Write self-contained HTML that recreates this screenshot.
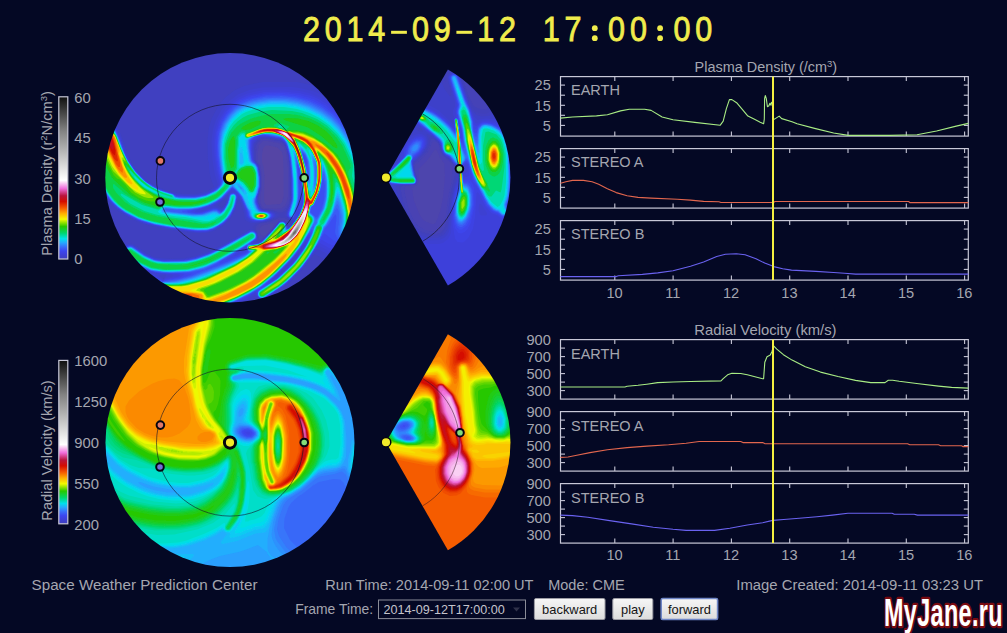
<!DOCTYPE html><html><head><meta charset="utf-8"><style>html,body{margin:0;padding:0;background:#040824;width:1007px;height:633px;overflow:hidden}svg{display:block}text{font-family:"Liberation Sans",sans-serif}</style></head><body>
<svg width="1007" height="633" viewBox="0 0 1007 633">
<rect width="1007" height="633" fill="#040824"/>
<defs>
<linearGradient id="cbar" x1="0" y1="1" x2="0" y2="0">
<stop offset="0.000" stop-color="#3f40bc"/>
<stop offset="0.025" stop-color="#3e40d6"/>
<stop offset="0.050" stop-color="#3c46f0"/>
<stop offset="0.075" stop-color="#3870fa"/>
<stop offset="0.100" stop-color="#26a8ff"/>
<stop offset="0.125" stop-color="#00e1eb"/>
<stop offset="0.160" stop-color="#00d66e"/>
<stop offset="0.200" stop-color="#28c800"/>
<stop offset="0.245" stop-color="#f2fa00"/>
<stop offset="0.280" stop-color="#ffaf00"/>
<stop offset="0.315" stop-color="#f55a00"/>
<stop offset="0.355" stop-color="#d40c00"/>
<stop offset="0.390" stop-color="#b9143c"/>
<stop offset="0.435" stop-color="#f06edc"/>
<stop offset="0.485" stop-color="#ffffff"/>
<stop offset="0.620" stop-color="#c8c8c8"/>
<stop offset="0.790" stop-color="#828282"/>
<stop offset="1.000" stop-color="#0f0f0f"/>
</linearGradient>
<linearGradient id="btn" x1="0" y1="0" x2="0" y2="1"><stop offset="0" stop-color="#f6f6f6"/><stop offset="1" stop-color="#dcdcdc"/></linearGradient>
<filter id="bl" x="-5%" y="-5%" width="110%" height="110%"><feGaussianBlur stdDeviation="0.6"/></filter>
<clipPath id="cd1"><circle cx="230" cy="177.8" r="124.7"/></clipPath>
<clipPath id="cd2"><circle cx="230" cy="442.6" r="124.5"/></clipPath>
<clipPath id="cw1"><path d="M386.0 177.6 L447.9 69.6 A124.5 124.5 0 0 1 447.9 285.6 Z"/></clipPath>
<clipPath id="cw2"><path d="M386.0 442.2 L447.9 334.2 A124.5 124.5 0 0 1 447.9 550.2 Z"/></clipPath>
</defs>
<g clip-path="url(#cd1)"><g filter="url(#bl)">
<path fill-rule="evenodd" fill="#5846a0" d="M102.0 50.0 102.0 305.0 357.0 305.0 357.0 50.0Z"/>
<path fill-rule="evenodd" fill="#5445a5" d="M102.0 50.0 102.0 305.0 357.0 305.0 357.0 50.0Z"/>
<path fill-rule="evenodd" fill="#4e44ad" d="M265.5 145.5 269.0 145.5 277.5 147.5 282.0 152.0 283.0 156.5 283.5 168.0 283.5 196.5 282.0 202.0 280.0 204.0 266.5 205.0 265.0 203.5 264.0 200.5 264.5 175.5 263.5 167.0 262.0 162.0 262.0 155.5 263.0 148.5ZM102.0 50.0 102.0 305.0 357.0 305.0 357.0 50.0Z"/>
<path fill-rule="evenodd" fill="#4943b3" d="M275.0 223.5 272.5 228.0 266.5 234.5 263.5 236.5 260.5 235.0 259.5 232.5 259.5 228.0 261.5 225.5 272.5 223.0ZM263.0 141.0 268.0 141.0 280.0 143.5 284.0 147.0 286.0 151.5 288.0 167.5 288.0 197.5 285.5 205.5 281.5 208.5 275.0 209.0 264.0 208.0 261.5 205.5 260.5 203.0 260.0 196.5 262.0 187.5 262.0 176.5 261.0 168.5 259.5 164.0 258.0 162.0 257.5 154.0 259.0 145.0ZM102.0 50.0 102.0 305.0 357.0 305.0 357.0 50.0Z"/>
<path fill-rule="evenodd" fill="#4442b7" d="M278.5 219.5 278.5 221.0 275.0 226.0 265.5 236.5 262.5 238.5 260.5 238.5 259.0 237.0 256.5 230.0 256.5 228.0 259.5 224.0 270.5 222.0 275.5 220.5 276.5 219.5ZM263.0 139.5 268.0 139.5 282.0 143.0 285.0 146.5 287.0 152.0 288.5 161.0 289.5 176.0 289.5 198.0 287.5 205.0 284.0 209.5 281.5 210.5 274.5 210.5 271.5 209.5 263.5 209.0 261.5 207.5 259.5 203.5 259.0 196.5 261.5 186.5 261.5 177.5 259.5 166.0 256.0 160.0 256.0 154.0 257.5 144.0 260.5 140.5ZM102.0 50.0 102.0 305.0 357.0 305.0 357.0 50.0Z"/>
<path fill-rule="evenodd" fill="#4140bb" d="M291.0 223.0 290.5 225.5 289.0 226.5 286.5 222.5 284.0 220.5 279.5 221.0 270.0 232.5 261.5 240.0 260.0 240.0 258.5 238.5 257.5 233.5 255.0 229.5 255.5 226.0 259.0 223.0 267.0 222.0 279.5 217.5 285.5 218.0 288.5 220.0ZM261.5 138.5 267.5 138.5 281.5 141.5 284.5 144.5 287.0 150.0 288.5 156.5 289.5 166.5 290.0 198.5 289.0 204.0 287.0 208.5 285.0 211.0 282.5 212.5 278.5 212.5 273.0 210.5 263.0 209.5 260.0 206.5 258.5 202.5 258.0 199.0 261.0 186.5 261.0 177.5 260.0 169.5 258.5 165.0 255.5 161.0 255.0 148.5 256.5 143.5ZM102.0 50.0 102.0 305.0 357.0 305.0 357.0 50.0Z"/>
<path fill-rule="evenodd" fill="#3f40c0" d="M263.0 137.5 280.5 140.5 284.0 143.0 287.0 149.0 289.0 157.5 290.0 167.0 290.5 199.0 289.0 205.5 284.5 215.0 288.0 219.0 292.0 222.0 292.0 223.5 291.0 225.5 288.5 227.0 285.0 221.5 280.0 221.0 278.5 222.0 272.0 230.5 262.5 240.0 259.0 241.0 257.5 239.5 258.0 236.5 257.0 233.0 252.5 228.0 252.5 226.5 256.0 223.5 267.0 221.5 273.0 219.5 278.0 216.5 279.0 215.0 276.0 212.5 272.5 211.0 262.0 209.5 260.0 207.5 258.0 202.0 258.0 196.5 260.5 187.0 260.5 177.0 258.5 166.0 254.5 159.5 254.0 149.0 255.0 144.5 256.5 142.0 259.0 139.5ZM102.0 50.0 102.0 305.0 357.0 305.0 357.0 50.0Z"/>
<path fill-rule="evenodd" fill="#3e40c9" d="M227.0 198.5 225.0 204.5 222.0 208.0 217.5 205.5 217.5 204.5 225.0 198.5ZM347.0 108.0 336.5 98.0 324.5 90.0 315.0 86.0 296.5 82.0 263.0 82.0 244.0 86.0 234.5 90.5 225.5 97.5 219.0 105.0 212.0 118.0 209.0 127.5 207.5 140.0 208.0 160.0 209.0 163.0 209.0 168.0 210.5 177.0 214.0 187.0 208.5 191.0 196.0 194.0 181.5 194.0 167.5 191.0 157.0 187.0 146.5 180.5 137.0 171.0 132.0 164.0 127.5 154.0 120.5 133.5 115.5 123.5 111.5 120.5 108.5 119.5 102.0 120.0 102.0 191.5 109.5 202.5 116.0 209.0 126.0 216.0 142.0 223.5 164.5 229.0 195.0 233.0 206.0 233.0 213.5 231.0 222.5 226.0 229.5 219.5 235.5 209.0 237.5 200.5 238.5 199.0 240.5 202.0 244.0 212.5 244.5 218.0 246.0 220.5 250.5 223.0 256.0 223.0 267.5 221.0 273.5 218.5 276.0 216.0 275.0 213.0 272.0 211.5 264.0 210.5 261.5 209.5 260.0 208.0 258.0 203.5 257.5 197.5 260.5 186.5 260.0 173.5 258.5 166.5 254.0 160.0 254.0 144.0 258.0 139.0 262.0 137.5 268.0 137.5 280.5 140.0 282.5 141.0 285.5 144.5 289.0 156.0 290.5 169.5 291.0 198.5 290.0 204.0 287.0 211.0 286.0 215.5 289.0 219.0 292.0 220.0 293.5 221.5 292.0 224.5 289.0 227.5 287.5 226.5 286.5 223.5 284.5 221.5 279.5 221.5 270.5 232.5 263.5 239.5 259.0 242.0 256.5 241.5 257.5 235.0 256.0 232.0 253.5 230.0 250.5 229.5 219.5 246.5 209.0 251.5 194.0 256.5 183.5 258.5 170.0 259.0 155.5 257.5 146.5 253.5 134.0 244.5 130.5 243.5 126.0 244.5 123.5 246.5 122.0 249.5 121.5 252.5 122.5 256.0 124.5 258.5 142.0 270.5 136.0 272.0 133.0 274.5 131.5 277.5 131.5 292.0 133.0 297.5 135.0 301.0 139.0 305.0 243.5 305.0 255.0 298.0 257.0 298.0 260.0 300.0 265.0 299.5 280.5 289.5 287.5 284.0 298.5 273.5 314.5 254.0 326.0 260.0 337.5 261.0 347.0 258.5 356.5 253.5 357.0 121.0Z"/>
<path fill-rule="evenodd" fill="#3e40d2" d="M158.5 275.0 165.5 274.5 166.0 275.5 165.0 278.0 163.5 279.0 159.5 276.5ZM302.0 248.0 302.0 250.0 294.0 261.0 282.5 272.5 280.0 274.0 279.5 273.5ZM228.5 195.5 227.0 202.0 225.0 206.0 222.0 209.5 213.5 206.0 222.0 200.0 227.5 195.0ZM342.5 111.0 330.0 100.0 322.0 95.0 314.0 91.5 299.5 88.0 291.5 87.0 262.5 87.5 249.5 90.0 238.0 94.5 230.0 100.5 221.5 110.0 216.0 120.0 213.0 129.5 211.5 141.5 212.5 159.5 215.0 175.0 218.0 184.5 217.0 186.5 212.0 190.5 204.5 193.5 197.0 195.0 176.5 194.5 161.0 189.5 148.0 182.5 137.0 172.0 130.5 163.0 126.0 153.5 121.0 138.0 115.0 125.0 113.0 123.0 109.0 121.0 106.0 120.5 102.0 121.5 102.0 189.5 104.0 193.5 108.5 200.0 115.0 207.0 129.5 217.0 144.5 223.5 166.5 228.5 199.5 232.5 207.5 232.0 215.0 229.5 224.5 223.5 230.5 217.0 235.0 208.5 237.0 199.0 238.5 196.5 242.0 202.5 245.5 212.0 246.0 216.5 249.0 220.5 252.5 222.0 260.5 222.0 271.5 219.0 274.5 216.5 274.5 214.0 270.5 211.5 261.5 210.0 259.5 208.0 257.0 201.0 257.5 196.0 259.0 192.5 258.5 192.0 260.0 187.0 260.0 177.0 258.0 166.5 253.5 159.5 252.5 149.0 253.0 144.0 256.0 139.5 260.5 137.0 267.5 137.0 279.0 139.0 282.5 140.5 285.0 143.0 289.0 154.5 291.0 173.0 291.5 196.5 290.0 205.0 287.0 213.0 287.0 216.5 290.0 219.0 294.5 220.0 293.5 222.5 289.5 227.5 287.5 227.5 286.5 224.0 284.0 221.5 280.0 221.5 272.0 231.0 262.5 240.5 259.5 242.5 254.0 243.5 253.5 242.5 256.0 240.5 257.0 238.5 257.0 234.0 253.5 230.5 249.5 230.5 225.0 244.5 209.0 252.5 195.5 257.0 183.0 259.5 162.0 259.5 154.0 258.0 145.5 254.0 132.5 245.0 127.5 245.0 124.0 247.5 122.5 251.0 122.5 253.0 124.0 256.5 136.0 265.5 148.5 272.5 147.5 273.5 141.5 272.0 137.0 272.5 132.5 277.0 132.0 281.5 133.5 285.5 134.0 294.5 138.0 301.5 141.5 305.0 237.0 305.0 254.5 295.0 255.5 295.0 258.5 298.5 263.0 299.5 280.0 289.0 291.0 280.0 303.0 267.5 316.5 249.0 318.5 249.0 328.0 254.5 338.0 255.0 350.5 251.0 357.0 247.5 357.0 131.0 351.5 122.0Z"/>
<path fill-rule="evenodd" fill="#3e41da" d="M246.0 248.5 245.5 250.5 242.5 252.0 240.5 251.5 244.0 248.5ZM306.0 241.0 306.5 242.5 305.0 246.0 294.5 261.0 281.0 274.5 273.5 279.5 273.0 279.0 294.0 257.0ZM235.0 191.5 234.5 192.5 232.0 192.5 229.5 194.0 227.0 203.0 224.5 207.5 221.5 210.5 217.0 208.0 212.5 208.0 202.5 211.0 200.0 210.5 210.5 206.5 217.5 202.5 223.0 198.5 231.5 190.0ZM340.5 113.0 328.5 102.5 321.0 98.0 308.5 93.0 299.5 91.0 286.0 89.5 264.0 90.0 247.5 93.5 238.5 97.5 231.5 102.5 226.0 108.0 218.5 120.0 215.0 130.0 213.5 142.0 214.0 153.0 216.5 172.0 219.5 183.0 219.0 185.0 214.0 190.0 208.0 193.0 200.5 195.0 192.5 196.0 184.0 196.0 176.0 195.0 173.5 193.5 159.0 189.0 152.0 185.5 145.0 180.5 137.0 172.5 129.5 162.0 126.0 155.0 120.5 138.5 115.0 126.0 112.0 123.0 108.5 121.5 102.0 122.0 102.0 188.5 104.5 193.5 109.5 200.5 117.5 208.5 130.5 217.0 144.5 223.0 169.5 228.5 199.0 232.0 207.5 231.5 215.0 229.0 222.5 224.5 230.0 217.0 235.0 207.5 238.0 195.0 240.0 197.0 242.5 202.0 246.5 212.5 247.0 216.5 250.5 220.5 253.5 221.5 262.5 221.5 270.5 219.0 273.5 216.5 273.5 214.0 269.0 211.5 263.5 211.0 261.0 210.0 259.5 208.5 257.0 202.5 257.0 197.0 260.0 186.5 260.0 178.0 259.0 170.0 257.5 165.5 253.0 159.5 252.0 150.5 252.5 142.5 254.5 139.5 260.0 136.5 266.0 136.5 278.5 138.5 282.5 140.0 285.0 142.5 288.5 151.5 291.0 168.5 291.5 199.5 290.0 206.5 287.5 212.5 287.5 216.5 291.5 219.0 295.5 217.0 296.0 217.5 295.0 220.5 292.0 225.0 289.0 228.0 287.5 228.0 286.5 224.5 284.5 222.0 279.5 222.0 270.0 233.5 263.0 240.5 259.0 243.0 252.5 244.0 252.0 243.0 256.5 239.0 257.0 235.0 254.0 231.0 251.0 230.5 219.5 248.0 209.0 253.0 194.0 258.0 183.5 260.0 161.5 260.0 155.5 259.0 147.0 255.5 132.5 245.5 129.5 245.0 126.5 246.0 123.5 249.5 123.0 252.5 124.0 255.5 138.5 266.5 153.0 273.0 164.0 273.5 167.5 274.5 171.5 274.5 173.5 275.5 172.5 276.5 165.0 278.0 164.5 279.5 163.0 280.0 154.5 275.0 147.0 274.5 141.5 272.5 138.5 272.5 136.0 273.5 133.0 277.0 132.5 281.5 135.0 288.0 135.0 293.5 136.0 296.5 143.0 305.0 233.5 305.0 248.0 297.5 255.0 293.0 256.5 294.0 258.5 298.0 260.5 299.0 263.5 299.0 278.0 290.0 290.5 280.0 302.5 267.5 309.0 259.0 316.0 248.0 318.5 245.5 329.0 251.0 337.5 251.5 348.0 249.0 357.0 245.0 357.0 136.5 349.0 123.0Z"/>
<path fill-rule="evenodd" fill="#3d43e3" d="M246.5 247.5 247.0 250.5 245.5 252.0 235.5 256.0 233.5 255.5 245.5 247.0ZM308.0 237.5 308.0 240.5 304.5 247.5 294.0 262.0 281.5 274.5 272.0 281.5 270.0 282.0 269.5 281.5 285.5 266.0 294.0 256.5ZM341.0 116.5 327.5 104.5 319.5 99.5 311.5 96.0 298.5 93.0 282.5 91.5 264.5 92.0 248.0 95.5 238.0 100.0 232.0 104.5 224.5 113.0 219.5 121.5 216.0 132.5 215.0 141.5 215.5 155.0 217.5 170.0 220.5 182.0 220.0 184.5 215.5 189.5 209.0 193.0 203.0 195.0 191.5 196.5 176.0 195.5 172.5 193.5 159.5 189.5 146.5 182.0 138.0 174.0 129.5 162.5 125.0 153.5 120.5 140.0 114.0 125.5 108.5 122.0 102.0 122.5 102.0 188.0 105.0 193.5 110.0 200.5 118.0 208.5 128.5 215.5 140.0 221.0 147.5 223.5 172.0 228.5 197.0 231.5 205.0 231.5 213.0 229.5 219.0 226.5 224.5 222.5 228.5 218.5 231.5 214.0 235.0 206.5 237.0 198.0 237.0 195.5 235.5 193.5 231.5 193.0 230.0 194.0 227.5 202.5 224.5 208.0 221.5 211.0 216.5 208.5 213.5 208.5 202.5 212.0 195.5 212.0 195.0 211.0 198.0 209.5 209.0 206.5 215.0 203.5 223.5 197.5 231.0 189.5 233.5 189.5 235.5 191.0 240.5 197.0 247.0 212.0 248.0 217.0 251.0 220.0 253.5 221.0 263.5 221.0 270.5 218.5 273.0 216.0 272.5 214.0 268.0 211.5 261.0 210.5 259.0 208.5 256.5 202.5 256.5 198.5 259.5 186.5 259.5 177.5 258.5 170.0 257.0 165.5 252.5 159.5 251.5 150.5 252.0 141.0 255.0 138.0 259.5 136.0 265.5 136.0 280.5 138.5 285.0 142.0 288.5 150.5 291.5 172.5 292.0 198.0 291.0 204.0 288.0 212.0 287.5 215.5 289.5 218.0 293.5 218.0 298.0 209.0 300.0 209.0 299.5 213.0 291.0 226.5 287.5 228.5 285.5 223.0 283.0 221.5 281.0 221.5 262.0 241.5 256.0 244.0 251.0 243.5 256.0 239.0 256.5 234.0 255.0 232.0 253.0 231.0 250.5 231.0 224.0 246.0 210.0 253.0 195.5 258.0 186.5 260.0 163.0 260.5 156.0 259.5 144.5 254.5 132.5 246.0 129.0 245.5 126.5 246.5 124.5 248.5 123.5 251.0 124.5 255.5 127.0 258.0 142.0 268.0 147.5 270.5 156.5 273.0 176.5 274.0 180.0 275.0 179.5 276.0 176.5 277.0 165.0 279.0 163.5 281.0 154.0 276.0 146.5 275.0 142.0 273.0 138.0 273.0 136.0 274.0 133.0 278.0 133.0 282.0 135.5 287.0 135.5 292.0 136.5 295.5 138.5 299.0 142.5 302.5 143.5 304.5 231.0 305.0 248.0 296.5 255.0 292.0 256.5 292.5 257.0 295.0 259.0 298.0 262.5 299.0 279.0 289.0 289.0 281.0 303.0 266.5 316.5 246.5 320.0 243.0 330.0 248.5 333.5 249.0 343.5 247.5 344.0 248.0 356.0 244.0 357.0 243.0 357.0 141.0 350.5 128.5Z"/>
<path fill-rule="evenodd" fill="#3c45ec" d="M247.0 247.5 247.5 251.5 245.5 253.0 227.5 260.0 225.5 259.5 244.5 247.0 246.0 246.5ZM309.5 234.5 310.0 236.5 306.5 244.5 299.5 255.5 293.0 263.5 277.0 278.5 266.0 285.0 265.5 284.5 275.5 275.5 291.5 259.0 300.0 248.5 306.5 238.0ZM337.0 114.5 326.5 106.0 313.5 99.0 297.5 94.5 282.5 93.0 265.5 93.5 252.0 96.0 241.0 100.0 233.0 105.5 227.0 112.0 221.0 121.5 217.5 131.0 216.5 137.0 216.5 154.5 219.0 172.5 221.0 180.0 220.5 184.5 216.0 189.5 213.0 191.5 206.0 194.5 196.5 196.5 176.0 196.0 172.0 193.5 167.0 192.5 159.0 189.5 147.5 183.0 136.0 172.0 127.5 159.5 123.5 150.5 118.5 136.0 113.5 125.5 108.5 122.5 102.0 123.0 102.0 187.0 108.0 197.5 113.5 204.0 118.5 208.5 130.0 216.0 136.0 219.0 148.5 223.5 170.5 228.0 195.0 231.0 206.5 231.0 213.5 229.0 223.5 223.0 230.0 216.0 234.0 208.5 235.5 204.0 236.5 195.0 235.0 193.5 233.0 193.0 230.0 194.5 228.0 202.0 224.5 208.5 221.5 211.5 216.5 209.0 213.5 209.0 200.0 213.0 195.5 213.0 190.5 211.5 193.0 210.0 206.5 207.0 216.0 202.5 223.0 197.5 231.0 189.0 232.5 188.5 235.0 190.0 241.0 197.0 247.0 210.5 248.0 215.5 250.5 219.0 256.0 221.0 261.5 221.0 270.0 218.5 272.0 216.5 271.5 213.5 268.5 212.0 260.5 210.5 258.0 207.5 256.0 201.5 256.5 196.5 259.5 186.5 259.5 177.5 257.5 167.0 253.0 161.5 252.0 159.0 251.0 150.5 251.0 141.5 253.0 138.5 258.0 136.0 265.5 135.5 280.0 138.0 282.5 139.0 285.0 141.5 287.0 145.5 290.5 159.5 292.0 177.0 292.0 200.0 288.0 213.5 288.0 216.0 289.5 217.5 292.5 218.0 294.0 217.0 300.0 200.5 300.0 185.0 299.0 179.5 299.0 173.5 300.0 173.5 302.5 195.0 302.5 203.0 301.5 208.5 299.0 215.0 293.5 223.5 289.0 228.5 287.5 229.0 286.5 228.0 286.0 224.0 284.0 222.0 280.0 222.0 269.0 235.0 263.5 240.5 259.0 243.5 253.5 244.5 250.0 244.0 251.0 242.5 255.0 240.0 256.5 237.5 256.0 233.5 254.0 231.5 251.5 231.0 219.0 249.0 208.5 254.0 191.0 259.5 179.5 261.0 165.5 261.0 155.0 259.5 145.5 255.5 133.0 246.5 127.0 246.5 124.0 250.5 124.5 255.0 136.0 264.0 145.0 269.0 156.0 272.5 167.5 273.5 182.0 273.5 185.0 274.5 180.5 277.0 164.0 280.0 163.0 281.5 155.0 277.0 147.0 275.5 143.0 273.5 139.5 273.0 136.5 274.0 134.0 276.5 133.0 281.0 136.0 287.0 137.0 295.0 139.0 298.5 143.0 302.0 145.0 305.0 229.0 305.0 249.5 295.0 256.0 291.0 257.5 291.5 257.0 294.0 258.0 296.5 260.5 298.5 263.5 298.5 282.0 286.5 287.5 282.0 301.0 268.5 310.5 256.0 316.0 246.5 321.0 240.0 322.5 240.0 326.0 242.5 333.0 245.5 348.5 245.5 353.5 244.0 357.0 242.0 357.0 144.5 351.0 132.0 346.5 125.5Z"/>
<path fill-rule="evenodd" fill="#3b4df2" d="M247.0 246.0 248.0 252.0 246.0 253.5 227.0 261.5 221.0 263.5 219.0 263.0 222.5 260.0 232.5 254.5 246.5 245.5ZM310.5 232.5 310.5 236.5 306.5 245.0 295.0 261.5 286.0 271.0 278.0 278.0 270.0 283.5 261.5 288.0 261.0 287.5 274.0 276.5 292.5 257.5 300.0 248.0 308.5 234.5ZM304.0 155.5 306.0 159.0 307.0 163.5 306.5 165.5 304.5 161.5 303.5 157.5ZM340.5 120.5 333.0 113.0 321.5 105.0 311.0 100.0 295.5 96.0 279.5 94.5 266.0 95.0 247.0 99.0 239.5 102.5 232.5 107.5 226.0 115.0 221.5 123.0 218.5 131.5 217.0 145.5 217.5 155.5 220.0 173.5 221.5 179.0 221.5 183.0 220.0 186.0 213.5 191.5 205.5 195.0 194.5 197.0 177.0 196.5 173.0 194.0 166.5 192.5 157.5 189.0 146.0 182.0 135.0 171.0 128.5 161.5 124.0 152.5 120.0 140.5 113.5 126.0 110.5 123.5 107.5 122.5 104.5 122.5 102.0 123.5 102.0 186.5 105.0 192.5 112.0 202.0 123.0 211.5 139.0 220.0 155.5 225.0 176.0 228.5 198.0 231.0 208.0 230.5 214.0 228.5 225.0 221.5 230.0 215.5 233.5 209.0 235.5 203.0 236.5 196.0 235.0 194.0 232.0 193.5 230.0 195.0 228.0 202.5 224.0 209.5 221.5 212.0 220.0 212.0 216.5 209.5 213.5 209.5 200.0 213.5 188.5 212.5 187.0 211.0 202.0 208.0 214.5 203.0 222.0 198.0 232.0 188.0 234.5 189.0 241.0 196.5 247.5 210.5 249.0 216.5 250.5 218.5 255.0 220.5 263.5 220.5 270.0 218.0 271.5 216.0 271.5 214.5 269.0 212.5 262.0 211.5 258.5 209.0 256.0 203.0 256.0 198.0 259.5 186.5 259.5 177.5 257.5 167.0 253.0 162.0 251.5 158.5 250.5 150.0 250.5 141.0 254.5 137.0 261.0 135.0 265.0 135.0 276.5 137.5 279.5 137.5 283.0 139.0 285.0 141.0 287.5 146.0 290.5 158.0 292.5 183.0 292.5 198.0 291.0 206.0 288.5 212.5 289.0 217.0 293.5 217.0 298.5 203.5 299.5 191.0 298.0 168.0 299.0 168.0 300.0 171.0 303.0 194.5 303.0 203.5 299.5 214.5 292.5 225.0 288.0 229.0 286.5 228.5 286.5 226.0 284.5 222.5 279.5 222.5 271.0 233.0 262.0 242.0 259.5 243.5 255.0 244.5 249.0 244.0 254.5 240.0 256.5 237.0 255.0 232.5 253.0 231.5 250.5 231.5 227.0 245.0 208.0 254.5 194.0 259.0 183.5 261.0 161.5 261.0 155.5 260.0 145.0 255.5 132.0 246.5 129.5 246.0 126.0 247.5 124.0 251.5 125.5 256.0 138.0 265.0 148.0 270.0 158.5 272.5 192.5 273.5 190.0 275.0 182.0 277.5 165.0 280.5 163.0 281.5 154.5 277.5 149.0 276.5 142.0 273.5 137.0 274.0 134.0 277.0 133.5 282.0 137.0 288.5 137.5 294.5 139.5 298.0 146.0 305.0 227.5 305.0 249.5 294.5 256.5 290.0 258.0 290.5 257.5 295.0 258.5 297.0 261.0 298.5 263.0 298.5 283.0 285.5 299.0 270.5 308.5 258.5 322.5 235.5 324.5 233.5 333.5 240.5 339.5 243.0 343.5 244.0 350.5 244.0 356.0 241.5 357.0 240.5 357.0 146.5 349.0 131.5Z"/>
<path fill-rule="evenodd" fill="#3a5bf5" d="M247.5 245.5 247.0 248.5 249.0 252.0 245.5 254.5 221.5 264.5 206.0 270.0 204.5 269.5 215.0 264.5 246.5 245.0ZM323.5 178.5 325.0 186.0 324.0 200.0 321.5 209.0 317.5 216.5 316.0 217.5 310.5 212.0 311.5 207.0 314.0 205.0 318.0 197.0 320.5 190.5 322.5 179.0ZM303.0 153.0 305.5 156.0 307.5 162.0 307.5 171.5 302.5 155.0ZM340.0 122.0 332.5 114.5 320.0 106.0 309.0 101.0 295.5 97.5 281.5 96.0 266.0 96.5 252.0 99.0 239.5 104.0 234.5 107.5 227.5 115.0 222.5 123.0 219.0 133.5 218.0 141.5 218.0 151.5 220.5 173.0 222.5 180.5 221.0 185.0 217.0 189.5 209.0 194.0 200.5 196.5 192.0 197.5 183.5 197.5 175.5 196.5 172.5 194.0 160.5 190.5 151.5 186.0 144.5 181.0 134.0 170.0 128.0 161.0 124.0 153.0 120.5 142.5 113.5 126.5 108.5 123.0 102.5 123.5 102.0 186.0 105.5 193.0 111.0 200.5 118.0 207.5 125.0 212.5 138.5 219.5 154.5 224.5 170.5 227.5 195.0 230.5 206.5 230.5 214.5 228.0 224.0 222.0 229.5 216.0 235.0 204.5 236.5 197.0 235.5 194.5 233.5 193.5 230.5 194.5 228.0 203.0 224.0 210.0 221.0 212.5 216.5 210.0 213.5 210.0 202.5 213.5 195.5 214.0 182.5 212.0 182.0 211.0 198.5 208.5 211.0 204.5 221.0 198.5 231.0 188.0 232.5 187.5 237.5 191.5 242.0 197.5 248.5 212.0 249.5 216.5 252.0 219.0 257.0 220.5 262.0 220.5 269.5 218.0 271.0 216.0 271.0 214.5 268.5 212.5 261.5 211.5 259.5 210.5 257.5 208.0 255.5 202.5 255.5 198.5 259.5 186.5 259.5 177.5 257.5 167.0 251.5 160.0 250.0 149.0 250.0 140.5 252.0 138.0 260.0 135.0 267.5 135.0 281.0 137.5 285.0 140.5 287.5 145.5 291.0 160.0 292.5 178.0 292.5 200.0 288.5 214.0 289.5 217.0 292.0 217.5 293.5 216.5 298.0 203.0 298.5 181.5 297.0 165.0 297.5 164.5 298.5 165.5 300.0 170.0 302.0 183.0 303.5 201.5 302.5 207.0 299.0 215.5 293.0 224.5 287.5 229.5 286.0 228.5 286.0 225.0 284.0 222.5 280.0 222.5 272.0 232.0 261.5 242.5 259.5 243.5 251.5 245.0 248.5 244.5 250.0 242.5 256.0 238.0 255.5 233.5 254.0 232.0 251.5 231.5 221.0 248.5 208.5 254.5 195.0 259.0 180.5 261.5 164.5 261.5 154.5 260.0 144.5 255.5 131.5 246.5 128.5 246.5 126.5 247.5 124.5 250.5 124.5 253.5 126.5 256.5 142.0 267.0 152.0 271.0 161.5 272.5 181.5 273.0 192.5 272.0 201.0 270.5 203.0 269.5 205.0 270.0 192.0 275.5 179.5 279.0 165.0 281.0 163.0 282.0 154.5 278.0 146.5 276.0 143.0 274.0 137.5 274.0 134.5 276.5 133.5 281.0 134.5 284.0 137.0 287.0 138.0 294.0 141.0 299.0 147.0 305.0 228.0 304.5 247.0 295.5 259.0 288.5 272.5 277.5 284.0 266.5 293.5 256.0 300.5 247.0 308.0 234.5 312.0 229.5 312.0 233.0 307.5 243.5 301.0 254.0 293.5 263.5 277.0 279.0 261.5 288.5 258.0 291.5 258.0 296.0 260.5 298.0 263.5 298.0 284.0 284.5 300.5 268.5 312.0 253.0 320.5 238.5 325.0 228.5 328.0 225.5 335.0 214.5 336.5 216.0 335.0 233.0 337.5 238.5 340.5 241.0 345.5 243.0 352.5 242.5 357.0 239.5 357.0 148.5 355.5 147.0 348.5 133.0Z"/>
<path fill-rule="evenodd" fill="#3969f8" d="M256.0 235.0 255.0 233.0 253.5 232.0 250.5 232.0 211.5 253.5 196.0 259.0 183.5 261.5 161.5 261.5 153.5 260.0 144.0 255.5 133.0 247.5 130.0 246.5 127.0 247.5 125.5 249.0 124.5 252.0 125.5 255.0 134.5 262.0 142.5 267.0 149.5 270.0 155.5 271.5 165.5 272.5 189.5 272.0 203.0 269.0 215.5 263.5 247.5 244.5 255.5 238.5ZM323.5 173.5 324.5 175.5 326.0 186.0 325.5 196.5 322.5 209.0 318.0 217.5 316.0 219.5 314.5 216.5 310.0 212.5 311.0 207.0 314.0 204.5 319.5 192.5 321.5 184.5 322.5 174.5ZM302.5 151.5 305.0 154.0 307.5 160.0 309.0 170.5 309.0 175.0 308.0 176.0 302.0 154.0ZM336.0 119.5 324.0 110.0 311.5 103.5 302.5 100.5 293.0 98.5 284.5 97.5 264.5 98.0 249.5 101.0 241.0 104.5 235.0 108.5 228.0 116.0 223.5 123.0 220.0 132.5 218.5 146.0 220.0 165.0 223.0 179.5 222.0 184.0 219.5 187.5 214.5 191.5 205.5 195.5 195.5 197.5 176.0 197.0 172.0 194.0 159.0 190.0 145.5 182.0 135.5 172.0 129.0 163.0 124.5 154.5 119.5 140.5 113.5 127.0 109.0 123.5 105.0 123.0 102.0 124.0 102.0 185.5 105.5 192.5 110.0 199.0 115.0 204.5 127.0 213.5 141.5 220.5 155.5 224.5 172.0 227.5 197.5 230.5 208.0 230.0 214.0 228.0 222.5 223.0 230.5 214.0 235.0 203.5 236.0 195.5 234.5 194.0 231.5 194.0 230.0 195.5 229.0 200.5 226.5 206.5 224.5 209.5 220.5 213.0 216.5 210.5 213.5 210.5 202.5 214.0 197.0 214.5 170.5 211.5 166.0 210.5 165.5 209.5 190.0 209.5 199.5 208.0 208.0 205.5 213.5 203.0 220.5 198.5 230.5 188.0 232.5 187.0 236.5 190.0 242.0 197.0 249.0 212.0 249.5 215.5 252.0 218.5 255.5 220.0 263.5 220.0 269.0 218.0 270.5 216.5 270.5 214.5 267.5 212.5 259.5 211.0 258.0 209.5 255.0 202.0 255.5 197.5 258.0 192.5 258.0 189.0 259.0 186.5 259.0 177.5 257.0 166.5 255.0 164.0 253.0 163.0 251.0 160.0 249.5 148.5 249.5 140.5 251.5 138.0 254.5 136.5 261.5 134.5 266.5 134.5 282.0 137.5 284.5 139.5 286.5 142.5 289.0 149.5 291.0 158.5 292.5 173.5 293.0 197.5 291.5 206.0 289.0 213.0 289.0 216.0 290.0 217.0 293.0 216.5 298.0 201.0 298.5 190.0 296.5 162.0 297.5 162.0 300.0 169.0 303.5 195.0 303.5 203.0 299.5 215.0 293.5 224.0 289.5 228.5 286.5 229.5 285.5 224.0 282.5 222.0 280.0 222.5 269.0 235.5 261.0 243.0 256.5 244.5 248.5 245.0 247.5 246.0 247.5 249.5 249.5 252.0 246.5 254.5 227.5 263.0 191.5 276.5 173.0 281.0 161.5 282.0 153.5 278.0 148.5 277.0 142.5 274.0 137.0 274.5 134.0 278.0 134.0 282.5 138.0 288.5 138.0 292.0 140.0 297.0 144.0 300.5 145.5 303.0 148.0 305.0 225.5 305.0 233.0 302.0 256.0 290.0 264.5 284.0 275.5 274.5 287.5 262.5 296.5 252.0 313.5 225.5 314.0 227.0 312.5 232.5 306.0 246.5 295.0 262.0 287.0 270.5 276.0 280.0 259.0 290.5 258.0 292.0 258.5 296.5 260.5 298.0 263.5 298.0 285.0 283.5 302.0 266.5 314.5 248.5 321.5 235.5 324.5 228.0 327.5 224.5 336.5 208.0 338.0 209.5 339.0 213.5 339.0 222.5 338.0 227.0 338.5 236.0 342.5 240.5 346.5 242.0 352.5 241.5 356.5 239.0 357.0 151.0 346.5 132.0Z"/>
<path fill-rule="evenodd" fill="#3579fb" d="M256.0 235.5 254.0 232.5 251.0 232.0 212.0 253.5 198.5 258.5 185.5 261.5 165.0 262.0 154.5 260.5 144.5 256.0 131.5 247.0 127.5 247.5 125.0 250.5 125.0 253.5 128.0 257.0 139.5 265.0 152.0 270.5 171.0 272.5 190.5 271.5 204.5 268.0 216.5 262.5 248.5 243.5 255.5 238.0ZM315.0 161.5 316.5 165.5 316.5 178.5 315.5 181.5 314.5 169.0ZM302.0 150.0 306.0 155.0 308.0 160.5 309.5 172.0 309.5 176.5 308.5 179.5 301.5 152.5ZM340.0 125.5 331.5 117.0 321.5 110.0 311.5 105.0 299.0 101.0 287.5 99.0 273.5 98.5 259.5 100.0 250.5 102.0 243.5 104.5 235.5 109.5 230.0 115.0 224.0 124.0 221.0 132.0 219.5 141.5 219.5 155.5 221.5 171.5 223.5 180.0 222.0 184.5 216.5 190.5 206.5 195.5 197.5 197.5 182.5 198.0 175.5 197.0 173.0 194.5 161.0 191.0 151.0 186.0 143.0 180.0 134.5 171.0 128.0 161.5 123.5 152.5 119.5 141.0 113.5 127.5 110.5 124.5 108.0 123.5 102.5 124.0 102.0 185.0 106.0 193.0 112.0 201.0 117.5 206.5 125.0 212.0 139.5 219.5 154.0 224.0 170.0 227.0 194.5 230.0 207.0 230.0 213.5 228.0 224.0 221.5 230.0 214.5 234.0 206.5 236.0 198.0 236.0 196.0 234.0 194.0 232.0 194.0 230.0 196.0 228.0 204.0 224.5 210.0 221.5 213.0 219.0 213.0 216.5 211.0 213.0 211.0 202.0 214.5 191.0 214.5 166.0 211.5 164.0 209.5 166.0 208.0 176.0 209.5 192.0 209.0 200.5 207.5 208.5 205.0 216.5 201.0 221.5 197.5 228.5 189.5 232.5 186.5 239.5 193.0 242.0 196.5 246.5 207.0 249.5 212.0 250.0 215.5 252.5 218.5 257.0 220.0 262.5 220.0 268.5 218.0 270.0 216.5 270.0 214.5 267.0 212.5 261.0 212.0 259.0 211.0 256.5 207.5 254.5 201.5 259.0 186.0 259.0 178.0 257.0 167.5 255.0 164.0 253.0 163.5 251.0 161.0 249.0 148.0 249.0 140.0 254.0 136.5 264.0 134.0 269.5 134.5 281.5 137.0 286.5 142.0 289.5 150.5 291.0 157.5 293.0 179.0 293.0 200.0 289.0 214.0 289.0 215.5 290.5 217.0 292.5 216.5 293.5 215.0 296.5 206.0 298.0 197.5 298.0 185.0 296.0 159.5 296.5 159.0 297.5 160.5 300.5 170.5 304.0 198.5 303.5 204.0 302.0 209.5 299.0 216.0 292.0 226.0 289.0 229.0 286.5 230.0 285.5 229.0 286.0 225.5 285.0 223.5 283.5 222.5 280.5 222.5 262.0 242.5 257.0 244.5 248.5 245.5 247.5 246.5 247.5 249.0 248.5 250.5 250.5 251.5 248.0 254.0 239.0 259.0 208.0 271.5 190.5 277.5 176.5 281.0 162.5 282.5 155.0 279.0 146.5 276.5 143.0 274.5 138.5 274.0 135.0 276.5 134.0 278.5 134.0 281.5 135.0 284.0 138.0 287.5 139.0 294.0 141.5 298.0 148.5 305.0 225.0 305.0 250.5 293.0 261.5 286.0 273.0 276.5 293.0 256.0 303.0 242.5 315.0 221.0 314.5 217.5 309.5 212.5 311.0 206.5 313.5 205.0 320.0 190.0 323.0 170.5 324.5 173.0 326.5 184.5 326.5 192.5 325.0 202.5 322.5 210.5 316.5 221.0 316.5 223.0 314.5 226.0 312.0 234.5 306.5 246.0 301.0 254.5 293.0 264.5 277.5 279.0 259.5 290.5 258.0 292.5 258.0 295.0 260.0 297.5 263.0 298.0 272.0 292.5 286.5 282.0 301.0 267.5 309.0 257.0 318.0 242.0 323.5 229.0 331.5 216.5 335.5 206.0 337.0 204.0 338.5 205.0 341.0 217.0 339.5 228.0 339.5 234.0 340.5 236.5 342.5 239.0 346.5 241.0 351.5 241.0 355.5 239.0 357.0 237.5 357.0 154.0 349.0 138.0Z"/>
<path fill-rule="evenodd" fill="#2f8cfc" d="M255.5 234.5 253.5 232.5 250.5 232.5 213.5 253.0 197.5 259.0 187.0 261.5 162.0 262.0 155.5 261.0 144.0 256.0 134.5 249.0 130.5 247.0 127.0 248.0 125.5 250.0 125.0 252.5 127.0 256.0 136.0 262.5 149.5 269.5 164.5 272.0 188.5 271.5 200.0 269.0 215.0 263.0 234.5 252.0 255.0 238.5ZM314.0 159.0 315.5 161.0 317.0 167.5 316.5 180.5 315.5 185.5 314.5 187.0 314.5 168.5 313.5 162.5ZM301.5 149.0 305.5 153.5 308.5 161.0 309.5 167.5 309.5 180.5 308.5 181.5 307.5 179.0 306.0 168.5 301.0 151.5ZM339.0 126.0 331.5 118.5 321.5 111.5 310.5 106.0 298.0 102.0 285.0 100.0 268.5 100.0 253.0 102.5 244.0 105.5 236.5 110.0 230.5 116.0 225.0 124.0 222.0 131.5 220.0 143.5 220.5 159.5 222.5 174.5 224.0 179.5 222.0 185.0 217.5 190.0 205.5 196.0 195.5 198.0 179.5 198.0 176.0 197.5 172.5 194.5 159.5 190.5 152.5 187.0 144.5 181.5 136.0 173.0 127.0 160.0 113.0 127.0 111.0 125.0 107.0 123.5 102.0 124.5 102.0 184.5 104.0 189.0 111.0 199.5 121.0 209.0 136.5 218.0 155.0 224.0 171.5 227.0 196.5 230.0 205.0 230.0 213.0 228.0 222.5 222.5 230.0 214.0 233.5 207.0 235.0 202.0 235.5 195.5 233.0 194.0 230.5 195.5 227.5 205.5 223.5 211.5 221.0 213.5 219.0 213.5 216.5 211.5 213.0 211.5 201.5 215.0 192.0 215.0 166.0 212.0 163.5 210.5 163.5 209.0 164.5 208.0 174.5 209.0 189.0 209.0 205.0 206.0 216.0 201.0 220.5 198.0 232.5 186.0 239.0 192.0 242.0 196.0 250.0 212.0 250.5 215.5 253.0 218.5 255.5 219.5 261.0 220.0 268.0 218.0 269.5 216.5 269.5 214.5 266.0 212.5 259.0 211.5 256.5 208.5 254.5 203.0 254.5 199.0 257.5 192.0 258.5 186.0 258.5 178.0 256.5 167.0 254.0 163.5 253.0 163.5 251.0 161.5 250.0 159.0 248.5 147.5 248.5 140.0 250.5 138.0 255.0 136.0 262.5 134.0 268.0 134.0 277.0 135.5 283.0 137.5 285.5 140.0 287.5 144.0 291.5 159.5 293.5 185.5 293.0 201.5 289.5 213.0 290.0 216.5 292.0 216.5 293.0 215.5 296.5 205.0 297.5 199.5 297.5 181.5 295.0 156.5 295.5 156.0 296.5 157.0 300.5 170.0 304.0 196.5 303.5 204.5 300.0 214.5 292.5 225.5 289.0 229.0 286.0 230.0 285.5 224.5 283.5 222.5 280.5 222.5 272.0 232.5 262.0 242.5 257.5 244.5 248.5 245.5 247.5 247.0 247.5 249.0 251.0 251.5 245.5 256.0 227.5 264.5 193.0 277.5 174.0 282.0 162.0 282.5 141.0 274.0 137.5 274.5 134.5 277.5 134.0 281.0 135.0 283.5 138.5 288.0 139.0 292.0 141.0 296.5 149.5 305.0 224.0 305.0 234.0 301.0 250.0 293.0 260.5 286.5 276.0 273.5 291.5 257.5 301.5 244.5 314.0 222.5 314.5 219.0 313.5 216.5 309.5 213.0 310.5 207.0 313.5 204.5 320.0 189.5 322.0 178.5 322.0 171.5 323.0 168.5 324.5 171.0 326.5 180.0 327.0 192.0 326.0 200.0 324.0 208.0 317.5 220.0 317.0 223.0 314.5 227.0 313.0 232.5 307.5 244.5 300.5 255.5 294.5 263.0 282.0 275.5 276.5 280.0 260.5 290.0 258.5 292.0 258.0 294.5 259.5 297.0 263.5 297.5 272.5 292.0 288.0 280.5 302.5 265.5 309.5 256.0 317.5 242.5 324.0 227.0 326.0 225.0 332.5 213.5 337.0 201.0 338.0 201.0 339.0 202.5 342.0 215.5 342.0 221.5 340.5 230.0 341.0 235.0 343.5 238.5 346.5 240.0 350.0 240.5 355.0 238.5 357.0 236.5 357.0 157.0 347.0 136.5Z"/>
<path fill-rule="evenodd" fill="#299ffe" d="M255.5 235.0 254.0 233.0 250.5 232.5 226.5 246.5 208.5 255.5 195.0 260.0 185.0 262.0 166.0 262.5 153.0 260.5 143.5 256.0 131.5 247.5 127.5 248.0 125.5 250.5 125.5 253.5 127.5 256.0 139.5 264.5 152.0 270.0 169.5 272.0 190.0 271.0 206.5 266.5 218.0 261.0 241.5 247.5 253.5 239.5 255.5 237.0ZM239.5 186.5 240.0 186.0 242.5 188.5 241.0 189.0ZM313.5 157.5 316.0 161.5 317.0 166.0 316.5 181.5 315.5 186.5 314.0 189.5 314.0 167.0 313.0 162.0ZM301.0 148.0 303.0 149.5 307.0 155.5 309.0 162.0 310.0 169.5 310.0 180.5 309.0 183.5 308.0 182.5 306.5 171.5 300.5 150.5ZM338.5 127.0 331.5 120.0 321.0 112.5 308.5 106.5 297.0 103.0 283.0 101.0 270.5 101.0 258.5 102.5 245.5 106.0 237.5 110.5 232.5 115.0 226.0 124.0 222.5 132.5 221.0 140.5 220.5 151.5 222.5 171.0 224.5 180.0 221.5 186.0 219.0 189.0 215.0 192.0 204.5 196.5 192.5 198.5 182.5 198.5 175.0 197.5 173.0 195.0 160.5 191.0 151.5 186.5 145.0 182.0 135.0 172.0 128.0 162.0 123.0 152.0 117.5 137.0 113.0 127.5 108.5 124.0 102.5 124.5 102.0 184.0 105.0 190.5 112.5 201.0 117.5 206.0 126.5 212.5 142.0 220.0 156.0 224.0 176.5 227.5 199.0 230.0 207.5 229.5 212.5 228.0 218.5 225.0 227.0 218.0 231.0 212.0 233.5 206.5 235.5 198.5 235.5 196.0 234.0 194.5 231.0 195.0 229.0 202.5 224.5 210.5 220.5 214.0 219.0 214.0 216.5 212.0 213.0 212.0 204.0 215.0 193.0 215.5 164.0 212.0 162.5 210.0 165.0 207.5 180.5 209.0 191.5 208.5 200.5 207.0 208.5 204.5 216.5 200.5 222.0 196.5 232.0 185.5 233.0 185.5 238.5 191.0 243.0 197.0 247.5 207.5 250.0 211.0 251.0 215.5 253.5 218.5 256.5 219.5 263.5 219.5 267.5 218.0 269.5 216.0 269.5 215.0 265.5 212.5 261.5 212.5 258.5 211.5 256.0 208.5 254.0 203.0 254.0 199.0 255.5 197.0 258.5 185.5 258.5 178.5 256.5 167.5 255.0 165.0 250.5 161.5 249.5 158.5 248.0 147.5 248.0 140.0 252.0 137.0 261.5 134.0 270.5 134.0 278.5 135.5 283.5 137.5 288.0 144.5 291.5 158.0 293.5 180.0 293.5 199.5 292.0 207.0 289.5 214.0 290.0 216.0 291.5 216.5 293.0 214.5 296.5 203.5 297.5 195.5 296.5 170.0 294.5 154.5 295.0 154.0 296.0 155.0 300.5 169.5 304.0 195.5 304.0 202.5 302.0 210.0 299.5 215.5 293.0 225.0 288.5 229.5 285.5 230.5 285.0 224.0 283.0 222.5 280.0 223.0 263.0 242.0 258.0 244.5 248.0 246.0 248.0 249.5 251.0 250.5 251.5 251.5 244.5 257.0 225.5 266.0 192.0 278.5 174.5 282.5 161.0 282.5 142.0 274.5 138.0 274.5 134.5 278.0 134.5 282.0 139.0 288.5 139.5 292.0 141.5 296.5 150.5 305.0 223.5 305.0 234.5 300.5 250.5 292.5 261.5 285.5 273.0 276.0 289.5 259.5 298.5 248.5 308.5 232.5 314.0 221.5 313.5 217.0 309.5 213.5 309.5 210.5 310.5 207.0 314.0 203.5 320.0 189.0 322.0 177.0 322.0 168.5 323.0 167.0 325.0 171.0 327.0 181.0 326.5 199.0 324.0 209.0 317.5 221.0 317.5 223.0 315.0 226.5 313.0 233.0 308.5 243.0 301.0 255.0 292.0 266.0 278.0 279.0 259.5 291.0 258.5 292.5 258.5 295.5 260.5 297.5 263.5 297.5 279.0 287.5 290.0 278.5 301.5 266.5 309.0 256.5 316.5 244.0 320.0 237.0 323.5 227.0 325.5 225.0 332.5 212.5 336.0 200.5 337.5 198.0 338.5 198.5 340.5 203.5 343.0 215.5 343.0 220.5 341.5 229.5 342.0 234.5 344.5 238.0 347.5 239.5 351.5 239.5 354.5 238.0 357.0 235.0 357.0 160.0 348.0 140.0Z"/>
<path fill-rule="evenodd" fill="#20b2fc" d="M255.5 236.0 254.5 233.5 252.5 232.5 250.0 233.0 226.0 247.0 209.0 255.5 197.5 259.5 186.5 262.0 163.0 262.5 154.0 261.0 144.0 256.5 130.5 247.5 128.0 248.0 126.0 250.0 125.5 252.5 128.5 256.5 137.5 263.0 151.0 269.5 163.5 271.5 188.0 271.0 203.0 267.5 217.5 261.0 243.5 246.0 254.0 239.0ZM238.0 184.0 244.0 189.5 244.0 192.5 238.5 187.0 237.5 185.0ZM312.5 155.5 316.0 161.0 317.0 165.0 317.0 179.0 315.5 187.0 313.5 191.0 313.0 185.5 314.0 172.0 312.0 158.0ZM300.5 147.0 306.0 153.0 309.0 160.5 310.5 172.0 310.0 183.5 309.0 185.5 307.5 181.0 305.5 167.5 300.0 149.5ZM338.5 128.5 331.0 121.0 322.0 114.5 308.0 107.5 298.5 104.5 287.0 102.5 272.0 102.0 256.5 104.0 243.5 108.0 236.5 112.5 230.0 119.5 227.0 124.0 223.0 133.5 221.0 150.0 223.0 171.0 225.0 179.5 221.5 186.5 215.5 192.0 205.5 196.5 195.5 198.5 179.5 198.5 174.5 197.5 173.5 195.5 172.0 194.5 167.0 193.5 159.0 190.5 152.0 187.0 142.5 180.0 134.5 171.5 127.0 160.5 112.5 127.0 111.0 125.5 107.5 124.0 104.5 124.0 102.0 125.0 102.0 184.0 105.5 191.0 111.5 199.5 119.0 207.0 124.5 211.0 137.5 218.0 154.5 223.5 174.0 227.0 195.5 229.5 206.0 229.5 210.5 228.5 218.0 225.0 222.5 222.0 228.0 216.5 233.0 207.5 235.5 197.5 235.0 195.5 233.5 194.5 231.0 195.5 229.0 203.0 224.5 211.0 220.0 214.5 216.0 212.5 213.5 212.5 204.0 215.5 193.5 216.0 166.5 213.0 163.0 212.0 162.0 210.0 165.0 207.0 176.5 208.5 188.5 208.5 197.0 207.5 206.5 205.0 216.0 200.5 221.0 197.0 233.0 184.0 234.5 185.0 234.5 186.5 243.0 196.5 248.0 207.5 250.5 210.5 251.0 214.5 254.0 218.5 257.5 219.5 262.5 219.5 268.0 217.5 269.0 216.5 269.0 214.5 264.5 212.5 258.5 212.0 256.0 209.5 253.5 203.0 253.5 199.0 255.0 197.0 258.0 186.0 257.5 173.0 256.0 167.0 254.5 165.0 251.0 163.0 249.5 160.5 247.0 143.0 247.5 140.0 249.5 138.0 253.0 136.5 264.5 133.5 272.5 134.0 282.5 136.5 287.0 141.5 291.5 156.5 293.5 175.5 294.0 196.5 293.0 204.0 290.0 213.5 290.5 216.0 292.5 215.0 296.0 204.5 297.0 198.5 296.5 174.0 294.0 152.5 295.0 152.5 297.0 157.0 301.0 171.5 304.0 194.5 304.0 203.0 302.5 209.0 299.0 216.5 290.0 228.5 287.0 230.5 285.0 230.5 285.0 224.0 282.5 222.5 279.5 223.5 271.0 234.0 262.5 242.5 258.0 244.5 249.0 245.5 247.5 247.5 248.0 249.5 249.5 250.5 251.5 250.5 252.0 251.5 245.0 257.0 227.0 266.0 210.0 273.0 192.5 279.0 178.0 282.5 162.0 283.0 147.5 277.5 143.0 275.0 138.5 274.5 135.5 276.5 134.5 278.5 134.5 281.5 136.0 284.5 139.5 288.5 140.5 293.5 142.5 297.0 151.5 305.0 223.0 305.0 234.0 300.5 251.0 292.0 260.5 286.0 275.5 273.5 287.5 261.5 299.0 247.5 308.5 232.0 314.0 220.0 313.0 217.0 309.0 213.5 310.5 206.5 313.0 205.0 319.5 190.5 321.5 180.5 322.5 166.0 324.5 168.5 327.0 178.5 327.0 198.0 324.5 208.5 318.0 221.0 317.5 223.5 315.0 227.0 312.0 236.0 305.5 248.5 294.0 264.0 277.0 280.0 260.5 290.5 258.5 292.5 258.5 295.0 260.0 297.0 263.0 297.5 279.5 287.0 287.0 281.0 300.0 268.0 304.5 262.5 315.5 245.5 320.0 236.5 323.0 227.5 326.0 223.5 332.5 211.5 336.5 197.0 338.0 195.5 340.5 200.5 343.5 213.5 343.5 222.0 342.5 226.5 343.0 234.5 347.0 238.5 350.0 239.0 354.0 237.5 357.0 233.0 357.0 163.0 352.0 150.0 347.0 140.0Z"/>
<path fill-rule="evenodd" fill="#13c4f5" d="M255.0 235.0 253.5 233.0 250.5 233.0 231.0 244.5 209.5 255.5 196.5 260.0 188.0 262.0 177.5 263.0 157.0 262.0 150.5 260.0 143.5 256.5 131.5 248.0 127.5 248.5 126.0 250.5 126.0 253.5 127.5 255.5 139.5 264.0 152.0 269.5 167.5 271.5 189.5 270.5 205.0 266.5 217.0 261.0 241.5 247.0 253.5 239.0 255.0 237.5ZM312.0 154.0 313.5 155.5 316.5 162.5 317.5 171.5 316.0 185.5 314.5 190.5 313.0 192.5 312.5 187.5 313.5 181.0 313.5 169.5 311.5 157.5ZM241.0 152.5 242.0 153.5 243.0 158.0 243.0 162.5 241.5 164.0 240.0 163.0 240.0 153.5ZM300.0 146.0 303.0 148.5 306.0 152.5 309.5 161.5 310.5 168.0 310.5 182.5 310.0 186.0 309.0 187.0 308.0 185.0 305.5 168.0 299.5 148.0ZM339.0 130.5 330.0 121.5 320.0 114.5 306.0 108.0 295.5 105.0 286.0 103.5 267.0 103.5 255.0 105.5 245.0 108.5 239.5 111.5 232.0 118.5 228.0 124.0 223.5 134.5 222.0 142.5 222.0 159.0 224.0 174.5 225.5 180.0 222.5 185.5 218.0 190.5 209.0 195.5 197.5 198.5 182.5 199.0 175.0 198.0 173.5 197.0 172.5 195.0 161.0 191.5 151.0 186.5 144.0 181.5 134.0 171.0 127.5 161.5 122.5 151.5 117.0 136.5 112.5 127.5 108.5 124.5 105.5 124.0 102.5 125.0 102.0 183.5 106.0 191.5 113.0 201.0 120.0 207.5 126.5 212.0 143.0 220.0 155.5 223.5 175.5 227.0 198.0 229.5 207.5 229.0 212.5 227.5 218.5 224.5 224.0 220.5 230.0 213.0 233.0 207.0 234.5 201.5 235.0 196.0 234.0 195.0 232.0 195.0 231.0 196.0 229.0 203.5 227.0 207.5 223.5 212.5 219.5 215.0 214.5 213.0 204.5 216.0 193.5 216.5 164.0 213.0 161.5 211.5 161.5 210.0 164.0 207.0 169.5 207.0 174.0 208.0 191.5 208.0 200.5 206.5 208.5 204.0 218.0 199.0 222.5 195.5 231.5 184.5 234.5 182.5 239.0 183.5 245.5 191.0 246.0 194.0 244.5 194.5 236.5 185.0 235.5 185.0 235.0 186.0 245.0 199.0 249.0 208.0 251.0 210.0 252.0 216.0 253.0 217.5 258.5 219.5 264.5 219.0 267.0 218.0 269.0 215.5 268.0 214.0 263.5 212.5 259.0 212.5 256.0 210.5 254.0 206.5 252.5 200.5 255.5 194.5 257.5 186.5 257.5 174.5 255.5 167.0 249.0 161.0 246.5 145.0 246.5 140.0 252.5 136.5 263.5 133.5 274.0 134.0 280.5 135.5 283.5 137.0 287.5 142.0 290.0 149.0 292.0 158.0 294.0 180.0 294.0 200.0 290.5 212.5 290.5 215.5 291.5 215.5 292.5 214.0 296.5 200.0 296.0 171.0 293.0 151.0 293.5 150.5 296.0 154.0 301.0 171.0 304.0 194.0 304.0 203.5 300.0 215.0 289.5 229.0 285.0 231.0 285.0 224.5 283.5 223.0 280.5 223.0 272.0 233.0 262.0 243.0 258.5 244.5 248.5 246.0 248.0 249.0 250.0 250.5 252.0 250.5 252.5 251.5 243.0 258.5 222.5 268.5 206.5 275.0 193.0 279.5 178.0 283.0 161.5 283.0 147.0 277.5 142.5 275.0 137.5 275.0 135.0 277.5 134.5 281.0 135.5 283.5 139.5 288.0 142.0 295.5 150.0 303.5 152.5 305.0 222.0 305.0 239.0 298.0 259.5 286.5 278.5 270.5 290.0 258.5 298.5 248.0 308.0 232.5 313.5 221.5 313.5 218.5 312.5 216.5 309.0 214.0 309.0 211.5 310.5 206.5 313.5 204.0 320.0 188.5 321.5 180.0 322.5 164.5 324.5 167.5 327.0 176.5 328.0 185.5 327.5 197.0 324.5 209.5 318.5 220.5 318.0 223.5 315.0 227.5 312.0 236.5 306.0 248.0 295.5 262.5 288.0 270.5 278.5 279.0 260.0 291.0 258.5 293.0 258.5 294.5 259.5 296.5 262.5 297.5 280.0 286.5 288.0 280.0 303.5 263.5 314.5 247.0 320.0 236.0 323.0 228.5 323.0 226.5 325.0 224.5 332.0 212.0 335.5 198.0 337.5 193.5 339.5 195.0 344.0 213.0 344.0 222.5 343.0 227.0 343.5 233.5 344.5 235.5 348.0 238.0 351.5 238.0 355.0 235.5 357.0 230.0 357.0 167.0 355.5 160.5 349.5 146.5 346.0 140.0Z"/>
<path fill-rule="evenodd" fill="#06d8ee" d="M255.0 235.5 253.0 233.0 251.0 233.0 230.5 245.0 209.0 256.0 195.5 260.5 186.0 262.5 163.5 263.0 154.0 261.5 144.0 257.0 130.5 248.0 128.0 248.5 126.5 250.0 126.0 252.5 128.0 255.5 140.0 264.0 151.0 269.0 163.0 271.0 188.0 270.5 199.5 268.0 216.5 261.0 245.0 244.5 252.5 239.5 255.0 237.0ZM311.0 152.5 312.0 153.0 315.5 159.0 317.5 168.0 316.5 183.5 315.0 189.5 312.5 194.0 312.0 189.0 313.0 183.0 313.0 167.5 310.5 154.5ZM241.5 146.5 243.0 149.5 244.0 162.5 243.0 164.5 240.5 165.5 239.5 164.5 239.0 162.0 239.0 153.0 240.0 148.0ZM299.5 145.0 303.0 148.0 307.0 153.5 310.0 162.0 311.0 169.5 311.0 181.0 309.5 188.5 308.0 186.0 305.5 168.5 299.5 148.5ZM339.5 132.5 329.5 122.5 319.5 115.5 310.5 111.0 297.0 106.5 284.0 104.5 268.5 104.5 255.5 106.5 245.5 109.5 238.0 114.0 232.0 120.0 228.5 125.0 224.0 135.5 222.5 144.0 222.5 159.0 224.0 171.5 226.0 180.0 223.5 184.5 217.0 191.5 205.5 197.0 195.5 199.0 179.5 199.0 174.5 198.0 172.5 195.0 158.5 190.5 150.0 186.0 144.5 182.0 135.5 173.0 126.5 160.0 122.0 150.5 116.0 134.5 112.0 127.0 108.0 124.5 102.5 125.0 102.0 183.0 106.0 191.0 112.0 199.5 123.0 209.5 138.5 218.0 154.0 223.0 170.0 226.0 194.5 229.0 206.5 229.0 212.0 227.5 218.0 224.5 223.0 221.0 227.5 216.5 230.0 212.5 234.0 203.0 235.0 196.0 234.0 195.0 232.0 195.0 231.0 196.0 229.0 204.0 225.0 211.0 219.5 215.5 214.0 214.5 203.5 217.0 193.0 217.0 184.5 215.5 166.5 214.0 162.5 213.0 160.5 211.0 162.0 208.5 164.5 206.5 177.5 208.0 188.5 208.0 197.0 207.0 206.5 204.5 216.0 200.0 221.0 196.5 230.5 186.0 231.5 183.5 235.0 181.5 239.0 182.5 243.0 186.5 246.5 191.5 249.5 205.5 252.0 209.5 252.0 213.5 253.0 217.0 256.5 219.0 263.5 219.0 268.0 217.0 268.5 215.0 267.0 213.5 258.0 212.5 255.5 211.0 253.0 207.0 252.0 203.5 252.0 198.0 253.5 197.5 255.0 194.5 257.0 187.0 257.0 173.0 255.0 167.0 248.5 161.5 245.0 140.0 246.0 139.0 255.0 135.5 262.5 133.5 272.5 133.5 277.5 134.5 283.0 136.5 288.0 142.5 290.0 148.0 292.5 159.5 294.5 185.0 294.0 202.0 291.0 212.0 291.0 215.0 292.0 214.0 295.0 205.5 296.5 197.0 295.5 169.0 292.5 149.5 293.0 149.0 295.5 152.5 301.0 170.5 304.5 198.0 304.0 204.0 302.5 209.5 299.5 216.0 292.5 226.0 289.0 229.5 284.5 231.5 284.0 229.5 285.0 228.0 285.0 224.5 283.5 223.0 280.0 223.5 263.5 242.0 259.0 244.5 248.5 246.0 248.0 249.0 249.0 250.0 252.0 250.0 253.0 251.0 243.5 258.5 226.0 267.5 207.0 275.5 193.5 280.0 177.0 283.5 165.5 283.5 158.0 282.0 142.0 275.0 138.0 275.0 135.0 278.0 135.0 282.0 139.5 287.5 143.0 296.0 149.5 302.5 153.5 305.0 221.5 305.0 232.0 301.0 247.5 293.5 262.0 284.5 274.5 274.0 294.0 253.5 302.0 242.5 313.0 222.0 313.0 218.0 309.0 214.0 310.0 207.0 313.5 204.0 319.5 190.0 321.5 179.0 321.5 164.0 322.5 163.0 324.5 166.5 327.5 178.0 327.5 198.5 326.0 206.0 324.0 211.5 319.0 220.0 318.0 224.0 315.5 227.0 311.0 239.0 301.5 255.0 293.0 265.5 278.0 279.5 259.5 291.5 258.5 294.0 259.0 295.5 260.5 297.0 263.5 297.0 280.5 286.0 290.5 277.5 303.0 264.0 314.0 247.5 320.0 235.5 323.0 226.0 325.0 224.0 330.5 214.5 333.5 206.5 336.0 194.0 337.5 191.0 339.0 192.0 341.5 199.0 344.5 212.5 344.5 222.0 343.5 226.5 344.5 234.0 346.0 236.0 348.0 237.0 352.0 237.0 355.0 234.0 357.0 227.0 357.0 173.5 356.0 165.5 350.5 150.5 345.0 140.0Z"/>
<path fill-rule="evenodd" fill="#00e0dc" d="M254.5 234.5 253.5 233.5 250.5 233.5 231.0 245.0 209.5 256.0 198.0 260.0 188.0 262.5 169.0 263.5 155.0 262.0 143.5 257.0 131.5 248.5 128.5 248.5 126.5 250.5 126.5 253.5 140.5 264.0 153.5 269.5 167.0 271.0 179.5 271.0 189.5 270.0 206.0 265.5 227.0 255.0 254.5 237.5ZM253.0 213.0 253.5 217.0 257.5 219.0 263.0 219.0 268.0 216.5 268.0 214.5 265.0 213.0 258.0 213.0 256.0 212.0 254.0 212.0ZM136.5 179.5 137.5 179.0 150.0 189.0 149.0 189.5 144.0 186.5ZM310.5 151.0 313.0 154.0 316.0 160.0 317.5 167.0 317.5 176.5 316.0 186.5 314.5 191.0 311.5 195.5 311.0 193.5 312.5 184.0 312.5 167.0 309.5 152.0ZM299.0 144.5 300.0 144.5 303.0 147.5 307.0 153.0 310.5 162.5 311.5 179.5 310.5 189.0 309.5 190.0 307.5 184.0 305.5 169.0 301.5 154.0 299.0 147.5ZM337.0 131.0 328.5 123.0 319.0 116.5 307.5 111.0 296.0 107.5 281.0 105.5 271.0 105.5 256.5 107.5 245.0 111.0 238.5 115.0 232.5 121.0 229.0 126.0 224.5 136.5 223.0 144.5 223.0 159.0 224.5 171.5 226.5 180.5 223.5 185.0 218.0 191.0 209.0 196.0 197.5 199.0 182.5 199.5 174.5 198.5 173.0 197.0 173.0 195.5 163.0 192.5 151.5 187.0 141.5 179.5 134.5 172.0 127.0 161.0 112.5 128.0 110.0 125.5 107.5 124.5 104.5 124.5 102.0 125.5 102.0 182.5 106.5 191.5 114.0 201.5 120.0 207.0 126.5 211.5 139.0 218.0 155.0 223.0 171.5 226.0 192.0 228.5 208.0 228.5 218.5 224.0 225.5 218.5 227.5 216.0 233.5 204.0 235.0 197.0 233.0 195.0 231.5 196.0 229.5 203.5 224.5 212.0 220.5 215.5 216.5 216.0 211.0 219.5 206.5 219.5 204.5 218.5 195.0 218.0 187.5 216.5 163.5 214.0 159.5 211.5 163.0 207.0 166.0 206.0 174.5 207.5 191.5 207.5 198.5 206.5 208.5 203.5 220.0 197.0 230.0 186.0 231.0 183.0 235.5 180.5 238.0 181.0 243.5 185.5 250.0 196.5 253.5 195.5 255.5 191.0 257.0 182.5 256.5 171.0 255.5 168.5 253.0 165.5 249.5 164.0 247.0 161.5 246.0 157.0 246.0 160.5 245.0 163.5 241.0 166.5 239.0 165.5 238.5 151.0 240.0 144.0 240.0 137.5 242.5 135.0 245.5 138.5 248.0 138.5 252.0 136.5 262.0 133.5 273.5 133.5 282.5 136.0 287.5 141.0 292.0 154.5 294.5 177.0 294.5 201.5 292.0 212.0 294.5 205.5 296.0 198.0 296.0 183.0 294.5 163.0 291.5 148.0 292.5 147.5 293.5 148.5 296.5 154.5 301.0 170.5 304.5 197.0 304.0 204.5 302.0 211.0 299.5 216.0 292.5 226.0 288.5 230.0 284.0 231.5 283.5 230.0 285.0 227.5 285.0 225.0 283.0 223.0 280.0 223.5 270.5 235.0 263.0 242.5 259.0 244.5 249.0 246.0 248.0 247.0 248.0 249.0 249.0 250.0 252.5 250.0 253.5 251.0 247.5 256.0 241.5 260.0 228.0 267.0 211.0 274.5 197.0 279.5 183.0 283.0 170.0 284.0 160.5 283.0 148.5 278.5 142.0 275.0 138.5 275.0 136.0 276.5 135.0 278.5 135.0 282.0 140.0 288.0 142.5 294.5 148.0 300.5 155.0 305.0 221.0 305.0 236.0 299.0 249.0 292.5 261.0 285.0 277.0 271.5 293.0 254.5 301.5 243.0 313.0 221.5 312.5 217.5 309.0 214.5 308.5 213.0 310.0 207.0 311.0 205.5 313.0 204.5 319.5 189.5 321.5 178.5 322.0 162.0 323.0 162.5 324.5 165.5 327.0 173.5 328.5 184.5 328.5 192.5 326.0 207.0 319.0 221.0 319.0 223.0 316.5 225.5 312.5 236.0 307.5 246.0 297.5 260.5 279.5 278.5 260.5 291.0 259.0 292.5 259.0 295.0 260.0 296.5 263.0 297.0 279.5 286.5 287.0 280.5 299.5 268.0 305.5 260.5 315.0 245.5 322.0 230.0 322.5 226.0 324.5 224.0 331.5 211.5 334.5 201.0 336.5 189.5 337.5 188.5 339.5 191.0 341.5 197.0 345.0 213.0 345.0 221.0 344.0 226.0 344.5 232.0 347.5 236.0 351.0 236.5 353.0 235.5 354.5 233.0 357.0 224.0 357.0 179.0 355.5 173.5 355.0 164.0 346.5 144.0Z"/>
<path fill-rule="evenodd" fill="#00dcaf" d="M254.5 235.0 253.0 233.5 251.0 233.5 231.5 245.0 210.0 256.0 195.5 261.0 186.0 263.0 163.5 263.5 156.0 262.5 146.5 259.0 130.5 248.5 127.5 249.5 126.5 252.5 127.5 254.5 140.0 263.5 151.0 268.5 162.5 270.5 188.0 270.0 202.5 266.5 215.5 261.0 241.0 246.5 253.0 238.5 254.5 237.0ZM253.5 214.5 253.5 216.5 255.0 218.0 258.0 219.0 264.5 218.5 268.0 216.0 267.0 214.0 264.0 213.0 255.0 213.0ZM134.0 176.5 134.5 176.0 146.0 186.0 159.0 193.5 158.0 194.0 155.0 193.0 144.0 187.0 135.5 179.0ZM298.5 143.5 299.5 143.5 303.0 147.0 307.5 153.0 310.5 160.0 311.5 167.0 310.5 157.5 308.5 150.5 309.5 149.5 313.5 154.5 317.0 163.0 317.0 181.5 314.5 191.5 311.5 196.5 310.5 196.0 311.0 189.0 311.0 190.5 310.0 191.5 308.5 189.5 306.0 171.5 301.0 152.5 298.5 146.0ZM338.0 133.5 330.0 125.5 319.5 118.0 309.5 113.0 297.0 109.0 284.0 107.0 268.5 107.0 253.5 109.5 246.0 112.0 242.0 114.0 234.0 121.0 229.5 127.0 225.0 137.5 223.5 145.5 223.5 158.5 225.5 174.5 227.5 180.0 225.5 182.0 223.5 185.5 219.0 190.5 208.5 196.5 195.5 199.5 179.0 199.5 174.0 198.5 172.5 195.5 162.5 192.5 152.0 187.5 143.0 181.0 136.5 174.5 128.0 163.0 124.0 155.5 116.0 135.0 114.0 132.5 112.0 127.5 108.5 125.0 106.0 124.5 102.5 125.5 102.0 182.0 107.0 192.0 112.5 199.5 118.5 205.5 126.0 211.0 138.5 217.5 156.0 223.0 169.5 225.5 194.0 228.5 209.0 228.0 218.0 224.0 226.0 217.5 232.0 207.5 234.5 196.5 233.5 195.5 231.5 196.5 229.5 204.0 224.0 213.0 221.0 215.5 216.5 217.0 214.0 219.0 209.0 221.0 204.5 221.0 185.0 217.0 176.5 216.5 161.0 214.0 159.0 213.0 158.0 211.5 164.0 206.0 168.5 206.0 178.5 207.5 188.0 207.5 197.0 206.5 206.5 204.0 215.0 200.0 222.0 195.0 229.0 187.0 230.5 182.5 235.0 179.5 237.0 179.5 241.5 182.5 244.5 185.5 249.0 192.5 252.0 193.5 254.5 191.5 256.5 185.0 256.5 173.0 254.5 167.5 252.0 165.5 248.5 164.5 246.5 164.5 239.0 168.0 238.5 167.5 238.0 150.5 239.0 145.5 239.0 137.5 242.5 134.0 244.5 135.5 245.0 137.5 247.0 138.5 256.0 135.0 265.0 133.0 274.5 133.5 283.5 136.5 287.0 140.0 290.5 147.0 291.5 146.0 293.5 148.0 296.0 153.0 301.0 170.0 304.5 196.0 303.5 207.0 299.0 217.0 293.0 225.5 288.5 230.0 285.0 232.0 283.5 232.0 283.0 230.5 285.0 227.0 285.0 225.5 282.5 223.0 280.5 223.5 272.0 233.5 262.5 243.0 257.5 245.0 249.0 246.0 248.0 247.0 248.5 249.5 253.0 250.0 253.5 251.0 246.5 257.0 237.5 262.5 225.5 268.5 200.0 279.0 182.0 283.5 167.5 284.0 162.0 283.5 148.0 278.5 141.5 275.0 137.5 275.5 135.5 277.5 135.0 281.5 141.0 289.0 143.5 295.0 150.0 301.5 156.5 305.0 220.5 305.0 234.5 299.5 250.5 291.5 263.5 283.0 273.5 274.5 289.0 259.0 294.5 252.5 304.0 238.5 312.5 222.0 312.5 218.0 311.0 216.0 309.0 215.0 308.5 212.5 310.0 206.5 313.0 204.5 319.5 189.5 321.5 177.5 321.5 160.5 322.5 161.0 325.0 166.0 327.5 174.5 328.5 181.0 328.5 195.5 325.5 209.5 319.5 220.5 319.0 223.5 316.0 226.5 312.5 236.5 307.0 247.0 296.0 262.5 287.0 272.0 278.5 279.5 260.0 291.5 259.0 293.0 259.0 295.0 261.0 297.0 263.0 297.0 280.0 286.0 288.5 279.0 298.0 269.5 305.0 261.0 314.0 247.0 322.0 229.5 322.0 226.5 324.5 223.5 331.0 212.0 334.0 202.0 335.5 191.0 337.0 186.5 338.5 187.5 339.5 189.5 344.5 207.5 345.5 213.5 344.5 230.5 347.5 235.0 352.0 235.0 354.0 232.5 357.0 221.0 357.0 184.5 354.5 174.0 354.5 165.0 350.0 153.0 345.0 143.0Z"/>
<path fill-rule="evenodd" fill="#00d774" d="M254.0 235.5 252.5 234.0 251.5 234.0 228.0 247.5 209.0 257.0 197.5 261.0 186.5 263.5 158.5 263.5 151.0 261.5 143.5 258.0 131.5 249.5 128.5 249.5 127.5 250.5 127.5 253.5 139.5 262.5 151.0 268.0 163.0 270.0 187.0 269.5 205.0 265.0 218.0 259.0 241.5 245.5 253.5 237.5ZM254.0 216.0 255.0 217.5 257.0 218.5 263.5 218.5 266.0 217.5 267.5 216.0 267.5 215.0 265.0 213.5 257.0 213.5 255.5 214.0ZM246.5 166.0 241.0 168.0 238.0 170.5 235.5 174.5 235.5 177.5 243.5 182.5 248.0 188.0 249.5 191.0 252.0 192.0 253.5 191.0 255.5 186.0 256.0 173.0 253.0 167.0 251.0 166.0ZM297.5 141.5 299.0 142.0 306.5 149.5 307.0 147.0 310.5 149.5 314.0 155.0 317.0 162.5 317.0 182.5 315.0 190.5 312.5 196.0 311.0 197.5 310.0 197.0 308.0 189.0 305.5 170.0 301.0 153.0 297.0 142.5ZM277.5 126.5 279.5 125.0 281.0 125.0 283.0 127.5 279.5 128.0ZM102.0 126.5 102.0 140.5 103.0 143.0 102.0 145.5 102.0 180.5 107.0 191.0 114.5 201.0 122.5 208.0 138.5 217.0 150.0 221.0 169.5 225.0 194.0 228.0 206.0 228.0 213.0 226.0 220.0 222.0 226.0 216.5 231.5 206.5 233.0 200.5 233.0 197.0 229.5 206.0 224.5 213.5 222.5 215.5 214.0 220.5 207.5 222.5 202.5 222.5 191.5 220.0 171.5 217.5 156.0 214.5 144.5 211.0 130.0 203.5 121.5 196.0 120.5 194.5 121.5 193.5 142.0 205.0 157.0 209.5 159.0 209.5 163.5 205.5 180.0 207.0 193.0 206.5 199.0 205.5 210.0 202.0 218.0 197.5 224.5 191.5 228.5 186.5 229.0 183.5 228.0 182.5 226.5 182.5 223.5 186.5 215.0 194.0 204.0 198.5 196.0 200.0 175.0 199.5 164.0 197.0 154.5 193.5 146.0 189.0 139.5 184.0 132.0 175.5 129.5 171.5 130.5 170.5 141.0 181.5 147.5 186.5 161.0 193.5 171.5 197.0 172.5 196.0 160.5 192.0 151.5 187.5 140.5 179.0 134.5 172.5 127.5 162.5 120.5 148.0 116.0 135.5 114.0 133.0 111.5 127.5 107.5 125.0 104.5 125.0ZM337.0 135.0 327.0 125.5 317.0 119.0 302.0 113.0 292.0 111.0 272.0 110.0 260.5 111.5 248.0 115.0 243.0 117.5 237.5 121.5 234.0 125.0 229.0 132.0 225.0 144.0 224.5 157.5 226.5 174.0 229.0 179.0 232.0 179.5 233.0 178.0 233.0 176.0 234.5 174.0 234.5 172.5 237.0 169.0 237.0 150.5 238.0 144.0 238.0 136.5 240.5 133.5 244.0 133.0 245.0 134.0 245.0 136.5 246.5 138.0 263.5 133.0 273.0 133.0 283.0 136.0 287.0 139.5 293.5 147.5 296.0 152.5 301.5 171.5 304.5 194.5 304.5 202.5 302.5 210.0 300.0 215.5 291.5 227.5 286.5 231.5 282.5 233.5 281.5 233.0 284.5 227.5 284.5 225.0 283.0 223.5 280.0 224.0 270.5 235.5 263.5 242.5 258.0 245.0 249.0 246.0 248.0 247.5 249.0 249.5 253.0 249.5 254.5 250.5 247.0 257.0 237.5 263.0 206.5 277.5 194.0 281.5 182.5 284.0 169.0 284.5 159.0 283.0 149.5 279.5 142.0 275.5 138.0 275.5 135.5 278.0 135.5 282.0 140.5 287.5 144.5 294.5 153.0 302.0 161.0 305.0 219.5 305.0 231.5 300.5 248.0 292.5 263.0 283.0 278.0 270.0 292.5 254.5 301.0 243.0 312.5 221.0 312.5 219.0 311.5 217.0 308.5 215.0 308.5 212.0 310.0 206.5 313.0 204.0 315.5 199.0 320.0 186.5 321.5 175.5 321.5 165.5 320.5 161.0 321.0 158.0 323.5 161.0 327.0 170.0 329.0 180.5 329.5 188.0 329.0 196.5 327.0 207.0 320.0 221.5 320.5 224.0 316.5 226.5 313.5 235.0 308.5 245.0 302.5 254.5 295.5 263.5 279.5 279.0 259.5 292.5 259.5 295.0 261.0 296.5 263.0 296.5 281.5 284.5 299.0 268.0 307.5 257.0 318.0 238.5 322.0 228.0 321.0 225.0 323.5 223.5 330.5 211.5 333.0 203.5 335.0 192.0 335.5 183.0 336.5 182.0 338.0 183.5 339.5 187.0 345.0 206.5 346.0 212.5 346.0 221.0 345.0 229.0 347.5 233.0 351.0 233.5 353.0 231.5 354.0 229.0 357.0 214.5 356.5 197.5 354.5 184.5 352.0 176.0 353.0 166.0 352.5 163.0 344.0 144.5Z"/>
<path fill-rule="evenodd" fill="#0fd145" d="M252.0 236.0 209.5 257.5 201.5 260.5 188.0 264.0 176.5 265.0 157.0 264.0 151.5 262.5 143.0 258.5 130.0 250.0 128.0 252.0 130.0 254.5 141.0 262.5 152.0 267.5 167.0 269.5 185.5 269.0 196.0 267.0 210.5 262.0 239.0 246.0 249.0 239.0ZM320.5 226.0 319.0 225.5 317.0 226.5 313.0 237.0 308.0 246.5 302.5 255.0 295.0 264.5 280.0 279.0 260.5 292.0 259.5 293.5 260.5 296.0 263.5 296.0 279.0 286.0 286.0 280.5 299.5 267.0 307.5 256.5 313.0 247.5 321.5 228.0ZM255.0 217.0 258.0 218.5 262.5 218.5 265.5 217.5 267.0 216.0 267.0 215.0 264.0 213.5 259.0 213.5 256.0 214.5 255.0 215.5ZM246.5 166.0 241.0 168.0 238.5 170.5 236.0 175.0 236.0 177.5 243.5 182.5 248.0 188.0 249.5 191.0 252.0 192.0 253.5 191.0 255.5 186.0 256.0 178.5 255.0 170.5 253.0 167.0 251.0 166.0ZM296.5 140.0 302.5 144.0 306.0 145.0 310.0 148.5 312.5 152.0 317.0 162.0 318.0 170.0 317.0 183.5 314.0 193.5 310.5 198.5 309.5 197.0 307.5 187.5 305.0 168.5 301.0 153.5 296.0 141.0ZM102.0 126.5 102.0 140.0 103.0 141.5 103.0 145.0 102.0 146.5 102.0 160.0 104.0 165.0 104.0 167.0 102.0 168.5 102.0 179.0 109.0 193.0 119.0 204.5 126.5 210.0 139.0 216.5 150.5 220.5 164.5 223.5 186.0 226.5 203.0 227.5 212.5 225.0 216.5 222.0 215.5 221.5 210.0 223.5 202.5 224.0 157.5 216.5 142.5 212.0 132.5 207.0 125.0 202.0 116.0 192.5 113.0 187.5 113.0 184.0 114.5 184.5 125.5 194.0 134.0 199.5 145.5 205.0 157.5 208.5 159.5 208.0 163.5 204.5 175.0 206.0 191.5 206.0 200.5 204.5 207.0 202.5 215.0 198.5 221.0 194.0 224.0 190.5 227.0 185.0 216.5 194.0 208.0 198.0 197.5 200.5 177.0 200.5 165.0 198.0 156.5 195.0 143.0 187.5 135.0 180.0 131.0 175.0 127.0 168.0 127.5 166.5 141.0 181.0 147.5 186.0 158.0 191.5 164.0 193.5 160.5 192.5 147.0 185.0 135.5 174.0 127.0 162.0 120.5 148.5 116.0 136.0 113.0 132.0 111.5 128.0 108.0 125.5 104.0 125.5ZM273.5 125.0 276.5 123.5 280.5 123.0 289.5 126.5 286.5 129.5 284.0 129.5 274.5 126.5ZM336.5 137.5 328.0 129.0 319.5 123.0 310.5 118.5 297.5 115.0 289.0 114.0 272.5 114.0 264.5 115.0 251.0 118.5 241.0 123.5 237.0 126.5 231.5 132.5 227.0 142.0 226.0 147.5 226.0 158.5 228.0 173.5 229.0 175.5 230.5 176.5 232.5 175.0 236.0 167.5 236.5 136.5 239.5 132.5 241.5 131.5 245.0 131.5 246.0 132.5 245.0 135.5 246.5 137.5 266.5 132.5 276.5 133.5 283.5 136.0 292.5 145.5 295.5 151.0 302.0 173.5 304.5 193.5 304.5 203.5 302.5 210.5 299.5 216.5 292.5 226.5 289.0 230.0 280.0 235.5 279.5 234.5 284.5 226.5 283.5 224.0 280.5 224.0 264.5 242.0 258.5 245.0 249.5 246.0 248.5 247.0 249.0 249.5 254.0 249.5 255.0 250.5 249.0 256.0 235.5 264.5 210.5 276.5 199.5 280.5 188.0 283.5 178.0 285.0 171.5 285.0 161.5 284.0 150.0 280.0 142.5 276.0 139.0 275.5 137.0 276.5 135.5 279.0 136.0 282.5 141.5 288.0 144.5 292.5 152.0 299.5 158.0 302.5 168.0 304.5 197.0 304.0 198.5 305.0 218.5 305.0 240.5 296.0 260.5 284.5 276.0 271.5 290.0 257.0 300.0 244.0 312.0 221.0 312.0 219.0 308.5 215.5 308.0 213.5 310.0 206.0 313.0 204.0 318.0 193.0 321.0 180.0 321.5 170.0 321.0 162.5 319.5 157.5 320.0 155.5 322.5 158.0 326.5 166.0 328.5 173.0 330.0 184.5 330.0 193.0 328.0 206.0 322.0 221.5 324.5 219.5 328.5 213.5 332.0 204.5 334.0 194.0 334.5 178.5 335.5 178.0 337.0 179.5 339.5 185.0 345.0 203.5 346.5 212.5 346.0 229.5 347.5 231.5 350.5 232.0 352.5 230.0 356.0 216.5 356.5 210.0 356.0 202.5 354.0 191.5 348.5 174.5 348.5 171.5 350.5 167.5 350.5 164.0 342.5 146.0Z"/>
<path fill-rule="evenodd" fill="#20cb17" d="M219.0 255.0 206.0 261.0 191.0 265.5 181.0 267.0 169.0 267.0 184.0 267.0 193.5 265.5 208.0 261.0ZM266.5 253.5 267.0 252.0 269.5 252.0 269.0 253.0 267.0 254.0ZM280.0 250.0 276.0 253.5 274.0 253.5 273.0 252.5 274.5 251.0 279.0 249.5ZM319.5 226.5 317.5 227.0 313.5 237.0 306.0 250.5 295.0 265.0 278.0 281.0 260.0 293.0 260.5 295.5 262.5 296.0 278.5 286.0 292.0 274.5 299.5 266.5 305.0 259.5 312.0 248.5 317.5 237.5 320.5 229.5 320.5 227.5ZM255.5 217.0 257.0 218.0 261.0 218.5 265.0 217.5 266.5 216.0 266.5 215.0 265.0 214.0 260.5 213.5 256.0 215.0ZM247.5 167.5 242.0 169.5 238.5 173.5 237.5 176.5 244.5 181.0 247.0 183.5 251.0 190.0 252.0 190.0 254.0 185.0 254.5 174.0 252.0 168.5 250.0 167.5ZM296.0 139.0 305.5 144.0 310.0 148.0 313.0 152.5 317.0 161.5 318.0 167.5 317.5 181.0 315.0 191.5 311.0 198.5 309.5 197.5 308.0 191.5 306.0 174.5 304.0 165.0 300.0 151.0 295.5 140.5ZM234.0 136.0 232.0 137.5 230.0 141.0 228.0 149.5 228.5 159.0 231.0 168.0 233.5 167.0 234.5 163.5 235.0 140.5ZM337.5 154.5 326.5 144.5 312.0 135.0 304.5 131.5 301.5 131.5 296.5 130.0 290.0 130.0 287.0 131.0 274.0 127.0 265.5 127.0 259.0 128.5 246.0 133.5 245.5 136.0 247.0 137.5 259.5 133.5 265.0 132.5 272.5 132.5 279.0 134.0 285.0 137.0 294.0 147.5 298.0 157.5 301.5 170.5 305.0 197.0 304.5 204.0 303.0 209.5 300.0 216.0 296.0 222.0 288.5 230.5 278.5 237.0 278.5 234.5 284.0 227.0 283.5 224.5 280.5 224.5 273.5 233.0 263.5 243.0 257.0 245.5 249.0 246.5 248.5 248.5 249.5 249.5 255.0 249.5 255.5 250.5 247.5 257.5 234.5 265.5 205.5 279.0 190.0 283.5 175.0 285.5 160.5 284.0 148.0 279.5 142.0 276.0 138.5 276.0 136.0 278.5 136.0 282.0 146.0 292.5 159.0 300.0 164.5 301.5 173.0 302.5 196.0 303.0 199.5 305.0 217.5 305.0 235.5 298.0 249.5 291.0 260.0 284.5 275.0 272.0 290.5 256.0 301.5 241.0 311.5 221.0 311.5 219.0 308.0 215.5 308.0 213.0 309.5 207.0 311.0 205.0 312.5 204.5 317.5 194.0 320.5 182.5 321.0 164.0 318.5 155.0 319.0 154.0 323.0 157.5 327.5 165.5 329.5 172.5 331.0 185.5 331.0 195.0 330.0 203.5 331.5 200.5 333.0 192.5 332.5 174.0 333.5 173.5 335.5 175.5 339.5 183.5 345.5 203.5 347.0 212.5 346.5 228.5 348.0 230.5 350.5 230.5 352.5 227.0 355.5 215.5 355.0 201.0 352.0 187.5 347.0 174.5 345.0 167.0ZM102.0 127.0 102.0 139.0 103.5 142.0 103.5 145.0 102.0 147.5 102.0 153.0 107.0 168.0 111.5 177.0 114.0 180.0 130.5 195.0 144.0 202.5 157.5 206.5 160.0 206.0 163.0 203.5 174.5 205.0 190.5 205.0 201.0 203.0 207.0 200.5 205.5 200.0 194.0 202.0 182.0 202.0 171.5 200.5 157.0 196.0 143.5 188.5 134.0 179.5 127.0 169.5 125.5 166.0 126.0 164.0 134.0 173.5 137.5 176.5 133.0 171.5 127.0 162.5 120.5 149.0 116.0 136.5 113.0 132.5 111.5 128.5 109.5 126.5 106.5 125.5ZM261.0 121.5 258.0 120.5 250.5 122.5 243.0 126.5 241.0 129.0 245.0 130.0 250.0 129.5 259.5 125.0ZM283.0 119.0 285.5 120.5 308.0 127.5 321.0 136.0 333.5 147.0 337.0 148.5 337.5 147.0 336.5 144.0 331.0 136.0 326.0 131.0 318.0 125.5 308.5 121.0 298.5 118.5 287.0 118.0Z"/>
<path fill-rule="evenodd" fill="#4dd100" d="M284.5 247.5 283.5 249.5 270.0 262.0 253.5 275.0 243.0 281.5 225.5 290.0 210.0 295.5 208.0 295.5 203.5 290.0 206.5 288.0 218.5 283.5 242.5 271.0 255.5 261.5 266.0 251.0 276.0 249.5 283.5 247.0ZM318.5 229.0 317.5 229.5 307.5 249.0 298.5 261.5 280.5 279.5 262.0 292.0 260.5 293.5 261.5 295.5 263.5 295.0 282.5 282.5 298.5 267.0 304.5 259.5 311.5 248.5 317.0 237.0 319.0 230.5ZM256.0 215.5 256.0 217.0 258.0 218.0 263.0 218.0 266.0 216.5 266.0 215.0 264.5 214.0 259.0 214.0ZM295.5 138.5 304.0 142.5 310.5 148.5 313.5 153.0 317.0 161.0 318.0 166.0 317.5 181.5 315.5 190.5 311.0 199.0 309.5 198.0 308.5 195.0 304.0 165.5 299.5 150.0 295.0 140.0ZM337.5 157.5 333.5 152.5 324.0 144.0 312.5 136.5 303.0 132.5 298.5 131.5 285.5 131.0 281.0 129.0 274.5 127.5 265.0 127.5 247.0 133.5 246.0 134.5 246.5 137.0 249.0 137.0 263.5 132.5 273.5 132.5 279.5 134.0 284.5 136.5 291.0 143.0 294.5 148.0 298.0 157.0 302.0 172.0 305.0 195.5 305.0 201.5 302.5 211.0 296.5 221.5 290.5 229.0 277.5 238.0 276.5 237.5 277.0 235.5 283.5 226.5 283.5 225.5 281.5 224.5 264.5 242.5 259.5 245.0 249.5 246.5 248.5 247.5 249.0 249.0 255.0 249.0 256.0 251.0 247.5 258.0 233.5 266.5 205.5 279.5 185.0 285.0 169.5 285.5 159.5 284.0 149.5 280.5 141.0 276.0 139.0 276.0 136.0 279.0 137.0 283.0 145.5 291.0 156.0 296.0 167.0 299.5 177.0 301.5 186.0 302.5 197.0 302.5 200.0 305.0 216.5 305.0 238.0 296.5 256.5 286.5 269.5 276.5 287.0 259.5 297.5 246.5 307.0 230.0 311.0 221.0 310.5 218.0 308.0 216.0 308.0 212.5 309.5 206.5 313.0 203.5 318.5 191.0 320.5 182.0 321.0 165.0 320.0 159.5 318.0 154.5 318.5 152.5 323.5 157.0 335.0 173.0 339.0 181.0 346.0 203.5 347.5 213.0 347.5 226.0 349.5 228.0 352.0 225.5 355.0 215.0 355.0 205.5 353.5 196.0 351.0 186.5 345.0 170.5ZM102.5 127.0 102.0 138.5 104.0 142.5 104.0 145.5 102.5 148.0 102.5 150.0 108.0 164.5 113.5 175.0 117.0 178.5 120.0 179.5 125.5 185.0 131.0 192.5 138.5 197.5 146.0 200.5 151.0 201.5 166.0 201.5 165.5 200.5 154.0 195.5 144.0 189.5 133.5 179.5 125.5 167.5 124.0 163.5 124.5 161.5 128.5 165.5 122.0 153.0 115.0 135.0 113.0 133.0 111.0 128.5 107.5 126.0 104.5 126.0Z"/>
<path fill-rule="evenodd" fill="#98e400" d="M287.0 246.5 275.0 259.0 253.5 276.5 244.5 282.0 229.5 289.5 209.0 297.0 207.0 297.0 203.5 292.0 199.5 290.0 201.5 288.5 207.0 287.0 220.0 281.5 238.5 272.0 252.5 262.5 264.5 251.0 276.5 249.0 285.0 246.0ZM311.5 244.5 295.0 266.5 281.5 279.5 266.5 290.0 262.0 294.0 277.5 285.5 290.0 275.0 303.0 260.5 308.5 252.0 311.5 246.0ZM256.5 215.5 256.5 217.0 259.0 218.0 262.0 218.0 265.5 216.5 265.5 215.0 263.5 214.0 260.0 214.0ZM294.5 138.0 303.0 141.5 310.0 147.5 312.5 151.0 317.5 162.5 317.5 182.5 315.0 192.0 311.0 199.5 309.5 198.5 308.5 196.0 304.0 166.0 299.0 149.0 294.0 138.5ZM338.0 159.5 333.0 153.0 321.5 143.0 313.5 138.0 303.0 133.5 298.0 132.5 292.5 132.5 290.5 131.5 286.0 131.5 283.5 130.0 276.0 128.0 268.5 127.5 260.0 129.0 247.0 134.0 246.0 136.0 248.0 137.0 263.0 132.5 270.0 132.0 278.0 133.5 284.0 136.0 286.5 138.0 293.5 146.0 297.0 153.5 301.5 169.0 305.0 194.5 305.0 202.5 304.0 207.0 300.5 215.5 295.5 223.0 289.0 230.5 280.0 237.0 276.0 239.0 275.0 238.5 275.0 237.5 281.5 228.0 281.5 226.0 265.0 242.5 258.5 245.5 249.5 246.5 249.5 249.0 256.0 249.0 257.0 250.5 247.5 258.5 233.5 267.0 205.5 280.0 187.5 285.0 181.0 286.0 170.5 286.0 158.5 284.0 150.0 281.0 141.5 276.5 138.5 276.5 136.5 278.5 137.0 282.5 145.0 290.0 154.5 294.5 165.5 298.0 179.0 301.0 197.5 302.0 200.5 305.0 215.0 305.0 234.0 298.0 253.5 288.0 269.0 276.5 287.5 258.5 298.5 244.5 308.0 226.5 310.0 221.5 310.0 219.0 307.5 216.0 309.5 206.0 312.5 204.0 319.0 189.0 320.5 181.0 321.0 166.5 320.0 160.0 317.0 152.0 318.5 151.5 326.0 159.0 334.5 171.0 337.5 176.5 342.0 188.0 346.5 204.0 348.0 213.5 348.5 224.0 350.5 224.5 352.0 223.0 354.5 214.5 354.5 205.5 353.5 198.5 348.0 179.5 345.0 172.0ZM103.0 127.0 102.0 128.0 102.0 137.5 104.5 143.0 103.5 149.5 108.0 161.0 113.0 171.0 135.0 192.5 144.0 197.0 148.0 198.0 153.0 198.0 153.5 197.0 140.5 187.5 130.5 176.5 124.0 165.0 123.0 160.0 123.5 159.5 125.0 161.0 125.5 160.5 120.5 150.0 115.0 135.5 112.5 133.0 111.0 129.0 109.0 127.0Z"/>
<path fill-rule="evenodd" fill="#e3f600" d="M289.0 245.0 287.5 247.5 274.5 260.5 259.5 273.0 247.0 281.5 232.5 289.0 223.5 293.0 209.0 298.0 206.5 298.0 203.0 292.5 196.0 290.5 198.0 288.5 214.5 283.0 237.5 271.5 251.5 262.0 263.0 251.0 268.0 249.5 277.5 248.5 288.0 244.5ZM257.0 217.0 263.0 217.5 264.5 217.0 265.5 215.5 264.0 214.5 259.0 214.5 257.0 215.5ZM294.5 137.5 303.5 141.5 308.5 145.5 313.5 152.5 317.5 162.0 318.0 180.0 317.0 186.0 315.0 192.5 311.0 199.5 310.0 199.5 308.5 197.0 304.5 168.5 298.5 148.0 294.0 139.0ZM338.0 160.5 333.5 154.5 322.0 144.0 314.0 139.0 303.0 134.5 295.0 133.5 289.5 131.5 287.0 132.0 283.0 130.0 275.0 128.0 262.5 128.5 247.5 134.0 246.5 136.0 249.0 136.5 258.0 133.5 265.5 132.0 272.5 132.0 278.5 133.5 285.0 136.5 294.0 146.5 297.5 154.5 301.5 168.5 305.0 193.0 305.0 203.0 304.0 207.5 300.0 216.5 296.0 222.5 288.5 231.0 278.0 238.5 273.5 239.5 273.0 237.0 272.0 237.0 267.0 241.5 260.5 245.0 249.0 247.0 249.5 249.0 255.5 248.5 257.5 249.5 257.5 251.0 253.0 255.0 236.5 266.0 208.5 279.5 188.0 285.5 181.5 286.5 171.0 286.5 160.5 285.0 155.5 283.5 140.0 276.5 137.0 278.5 136.5 280.5 137.5 282.5 146.0 290.0 155.0 294.0 177.0 300.0 190.0 301.5 198.0 301.5 200.5 303.5 201.0 305.0 214.0 305.0 224.5 301.5 237.5 296.0 254.5 287.0 260.5 283.0 272.5 273.0 287.0 258.5 298.0 244.5 305.5 230.5 308.5 221.5 307.5 213.5 309.5 205.5 312.5 204.0 317.5 193.0 320.0 183.5 321.0 173.0 320.5 163.0 316.5 151.5 317.0 150.0 319.5 151.5 326.0 158.0 332.0 166.0 337.0 174.5 341.0 184.0 346.0 200.0 348.5 213.5 349.0 220.5 350.0 221.5 352.0 220.5 354.0 214.0 354.0 205.0 352.5 196.0 350.0 186.5 345.5 174.5ZM103.5 127.0 102.0 128.0 102.0 137.0 105.0 144.0 104.5 149.0 112.0 166.0 119.0 175.5 130.0 187.0 136.0 191.5 140.0 193.5 145.5 194.5 145.5 193.0 135.0 183.0 127.0 172.0 122.0 160.5 121.5 157.5 123.5 157.5 114.5 135.0 112.5 133.5 110.0 128.0 107.0 126.5Z"/>
<path fill-rule="evenodd" fill="#f7dd00" d="M257.5 217.0 262.5 217.5 264.0 217.0 265.0 215.5 263.5 214.5 259.5 214.5 257.5 215.5ZM294.0 137.5 295.5 137.5 304.0 141.5 310.5 147.5 317.5 161.5 318.5 168.0 317.5 184.0 314.5 194.0 311.0 200.0 309.0 198.5 308.0 195.5 305.0 172.0 301.0 156.0 297.5 146.0 293.5 138.5ZM336.0 158.5 332.5 154.0 322.5 145.0 310.5 138.0 303.0 135.5 293.5 133.5 290.0 132.0 286.5 132.0 282.5 130.0 272.5 128.0 261.5 129.0 247.5 134.5 247.5 136.5 264.0 132.0 273.5 132.0 280.5 134.0 284.5 136.0 292.5 144.0 296.5 151.5 302.0 170.0 305.5 196.5 304.5 206.0 301.5 214.0 293.5 226.0 287.5 232.0 275.5 240.0 269.0 241.0 259.5 245.5 249.5 247.0 249.0 248.0 257.0 248.5 259.0 250.0 264.5 250.5 267.0 249.5 278.5 248.0 290.0 243.0 291.0 243.5 290.5 245.0 274.5 261.5 252.5 279.0 231.0 290.5 208.5 299.0 205.5 299.0 203.0 293.5 201.0 292.5 192.5 291.5 190.5 290.0 206.5 285.0 232.5 273.0 248.0 263.0 254.0 257.0 253.5 256.5 240.0 265.0 217.5 276.5 207.0 281.0 187.5 286.5 173.5 287.5 162.5 286.0 150.5 282.0 141.0 277.0 139.0 277.0 137.0 279.0 137.5 282.0 145.5 289.0 152.5 292.5 168.5 297.5 177.5 299.5 190.5 301.0 198.5 301.0 201.0 302.5 202.0 305.0 212.5 305.0 224.5 301.0 236.5 296.0 254.5 286.5 269.0 275.5 286.0 259.0 296.0 246.5 302.5 235.0 304.0 231.0 304.0 227.0 307.0 219.0 307.0 215.0 309.5 205.5 312.5 203.5 318.0 191.5 320.0 183.0 320.5 164.0 318.5 156.5 316.0 151.0 316.5 149.0 324.0 155.0 329.5 161.5 335.0 170.0 339.0 178.0 345.0 195.0 349.5 217.5 350.5 218.5 352.0 217.5 353.5 213.0 353.5 205.0 351.0 191.5 343.5 171.0ZM102.5 128.0 102.0 136.0 105.0 142.5 105.5 149.0 114.0 167.0 120.0 175.5 127.5 183.5 133.0 188.0 138.0 190.0 138.0 187.5 129.5 177.0 123.5 166.0 120.5 157.0 120.5 154.5 121.5 153.5 114.5 135.5 112.5 134.0 109.5 128.0 107.5 127.0 104.5 127.0Z"/>
<path fill-rule="evenodd" fill="#fdba00" d="M257.5 216.5 261.5 217.5 263.5 217.0 264.5 215.5 260.5 214.5 258.0 215.5ZM293.5 137.0 298.5 138.5 307.5 144.0 313.0 151.0 317.5 161.0 318.5 166.5 318.0 181.5 316.0 190.5 312.5 198.5 311.0 200.0 309.5 199.5 308.0 196.5 305.0 172.5 300.5 154.5 298.0 147.5 295.0 142.0 295.0 140.5 293.0 138.0ZM338.5 163.0 331.0 153.0 325.0 147.5 316.0 141.5 302.5 136.0 292.5 133.5 289.5 132.0 286.0 132.0 283.5 130.5 276.0 128.5 262.5 129.0 248.5 134.5 248.0 135.5 250.5 135.5 263.0 132.0 274.0 132.0 283.0 135.0 288.5 139.5 294.0 146.0 299.0 158.5 303.0 174.5 305.5 195.0 305.0 204.0 302.5 212.0 295.5 223.5 289.0 231.0 275.0 240.5 267.5 242.0 260.0 245.5 250.0 247.0 249.5 248.0 256.5 248.0 261.5 249.0 263.0 250.0 265.5 250.0 268.5 249.0 275.5 248.5 282.5 246.5 289.0 243.5 294.0 240.0 295.0 240.5 294.0 242.5 284.0 253.5 274.0 263.0 254.5 278.5 245.5 284.0 228.5 292.5 207.0 300.5 203.5 300.0 203.5 295.5 201.5 293.5 187.0 291.5 157.5 291.0 155.5 289.5 155.0 288.0 156.5 285.5 155.5 284.0 149.5 282.0 141.0 277.5 139.0 277.5 137.5 279.0 137.5 281.0 145.0 288.0 151.5 291.5 165.0 296.0 177.5 299.0 201.5 301.0 202.5 302.5 202.5 305.0 210.0 305.0 221.5 301.5 237.5 295.0 252.0 287.5 266.5 277.0 282.5 262.0 294.0 248.0 299.0 239.0 298.5 236.0 305.5 222.0 309.5 205.0 312.0 204.0 317.5 192.5 319.5 185.0 320.5 178.0 320.5 165.0 318.5 157.0 315.0 149.0 315.5 148.0 316.5 148.0 320.5 151.0 326.5 157.0 335.5 170.0 340.5 180.5 347.5 202.5 349.5 213.5 350.5 215.0 352.0 214.5 353.0 211.5 353.0 204.5 350.0 189.5 345.0 175.5ZM104.0 127.5 102.0 129.0 102.0 135.0 105.0 141.5 106.0 148.0 108.5 154.0 118.5 172.5 128.0 182.5 131.5 184.5 132.5 183.5 126.5 173.5 122.5 165.0 119.0 153.5 120.0 150.5 115.5 138.0 111.5 133.0 109.0 128.0 106.5 127.0Z"/>
<path fill-rule="evenodd" fill="#fc9300" d="M138.0 279.5 139.0 282.0 148.5 289.5 167.0 296.0 184.5 299.5 201.0 299.5 202.5 298.5 202.5 295.5 201.5 294.5 195.0 293.0 157.0 292.0 154.5 289.5 154.5 284.0 149.5 282.5 140.5 278.0 138.5 278.5ZM287.0 253.5 285.5 254.0 266.0 271.0 251.5 281.5 225.5 295.0 208.5 301.5 205.0 304.0 208.5 304.0 226.0 299.0 238.0 294.0 252.5 286.5 260.0 281.5 270.0 273.0 282.0 261.0 286.0 256.0ZM258.0 216.5 262.5 217.0 264.0 215.5 259.5 215.0ZM293.0 136.5 299.0 138.5 306.0 142.5 312.5 150.0 317.5 160.5 318.5 165.5 318.0 182.5 316.0 191.0 311.0 200.5 308.0 197.5 304.5 171.0 300.5 155.0 295.0 141.0 292.5 137.5ZM273.5 128.5 267.0 128.5 259.5 130.0 250.5 134.5 253.5 134.5 265.5 131.5 272.5 131.5 284.0 135.5 292.5 143.5 297.0 152.0 302.5 171.0 305.5 193.5 305.0 204.5 303.0 211.0 300.0 217.0 293.0 227.0 288.0 232.0 274.5 241.0 267.0 242.5 260.5 245.5 252.0 247.0 250.5 248.0 259.5 248.0 263.0 249.5 266.5 249.5 280.5 247.0 291.0 242.0 297.0 236.5 299.5 233.0 306.5 218.5 309.0 206.0 310.5 204.0 312.0 204.0 317.5 192.0 319.5 184.5 320.5 176.5 320.5 166.5 319.5 160.5 314.5 148.5 315.0 146.5 319.0 149.0 324.5 154.0 334.0 166.5 341.5 182.0 347.5 200.5 349.5 210.5 350.5 212.0 351.5 212.0 352.5 209.5 351.0 195.5 346.0 179.0 340.0 166.5 332.5 155.5 326.0 149.0 314.0 141.5 310.5 141.0 305.0 137.5 289.0 132.0 287.0 132.5 281.5 130.0ZM105.0 127.5 103.0 128.5 102.0 130.0 102.0 134.5 105.0 140.5 107.0 148.5 116.0 167.5 119.5 172.5 124.5 177.5 126.5 178.0 127.0 176.5 122.5 166.5 118.5 154.0 118.5 148.0 114.0 135.5 112.0 134.5 109.5 129.0 107.0 127.5Z"/>
<path fill-rule="evenodd" fill="#f76a00" d="M161.0 293.0 167.5 295.5 181.5 298.5 194.0 299.0 198.0 298.5 199.5 297.5 199.0 295.5 192.5 293.5 176.0 293.5 165.5 292.5ZM140.0 280.0 140.0 281.0 146.5 287.5 151.0 290.0 154.0 290.5 154.0 284.5 142.5 280.0ZM258.5 216.5 262.0 217.0 263.5 215.5 260.0 215.0ZM315.5 144.0 315.5 145.0 327.5 156.5 336.0 169.0 342.0 182.0 350.0 208.0 351.0 208.5 351.5 203.5 349.0 189.5 344.0 175.5 340.0 167.5 336.0 161.0 328.5 152.0 322.0 147.0ZM292.5 136.0 303.5 140.5 309.0 145.0 313.0 150.5 318.0 162.0 318.5 180.0 317.5 186.0 314.5 195.0 311.0 201.0 309.0 199.5 307.5 196.0 304.5 172.0 301.0 157.5 294.5 140.0 292.0 137.5ZM277.0 129.0 264.5 129.0 256.5 131.5 253.5 133.0 253.0 134.0 264.0 131.5 273.5 131.5 282.5 134.5 285.5 136.5 293.5 144.5 297.5 153.0 302.5 170.0 306.0 198.5 304.5 207.0 301.5 214.5 293.5 226.5 287.5 232.5 275.0 241.0 266.5 243.0 260.0 246.0 255.0 247.0 260.0 247.5 264.0 249.5 273.5 248.5 283.0 246.0 290.5 242.0 297.0 236.0 301.0 230.0 305.5 220.5 309.0 205.5 310.0 204.0 312.0 203.5 317.0 193.0 320.0 180.0 320.5 169.5 319.5 161.0 312.5 144.0 309.0 140.5 304.0 137.5ZM104.5 128.0 102.0 130.5 102.0 133.5 106.5 143.5 107.5 148.0 115.5 165.0 118.0 169.0 122.5 173.0 123.0 169.5 118.0 154.0 115.5 140.0 114.0 136.5 111.5 134.5 109.5 129.5 107.5 128.0Z"/>
<path fill-rule="evenodd" fill="#ed4600" d="M166.5 294.0 174.5 296.5 183.5 298.0 191.0 297.5 192.0 296.5 191.5 295.0 188.5 294.0ZM147.0 284.0 146.5 285.0 148.0 287.0 151.0 289.0 152.5 289.0 153.0 285.5 152.0 284.5ZM259.0 216.0 262.5 216.5 263.0 215.5ZM325.5 152.0 336.5 168.5 341.5 179.0 347.0 195.5 348.5 198.5 349.5 199.0 348.5 190.0 341.5 171.5 332.0 157.0 328.0 153.0ZM292.0 135.5 299.0 138.0 305.5 141.5 313.0 150.0 318.0 161.5 319.0 167.0 319.0 176.0 318.0 184.0 316.5 190.5 311.0 201.5 309.5 200.5 307.5 197.0 304.0 170.5 300.0 154.5 294.5 140.5 291.5 137.0ZM276.5 129.0 266.0 129.0 258.5 131.0 255.5 133.0 267.5 131.0 274.0 131.5 281.5 134.0 285.0 136.0 294.0 145.0 297.5 152.5 303.0 171.0 306.0 194.5 306.0 199.5 303.0 211.5 300.5 216.5 292.5 228.0 288.5 232.0 277.5 240.0 271.5 242.5 264.0 244.0 260.0 246.0 259.5 247.0 263.5 249.0 275.5 248.0 285.0 245.0 291.0 241.5 297.5 235.0 305.5 220.0 309.0 205.0 312.0 203.0 317.0 192.5 320.0 178.5 319.5 162.0 316.5 153.5 311.5 144.0 307.5 140.0 302.0 137.0ZM104.5 128.5 102.5 130.5 102.5 133.5 106.0 141.0 107.5 146.5 116.0 164.0 118.5 167.0 120.0 167.0 120.0 162.5 113.5 138.0 111.0 134.5 109.0 129.5 107.5 128.5Z"/>
<path fill-rule="evenodd" fill="#df2600" d="M260.0 216.5 262.5 216.0 260.5 215.5ZM278.0 129.5 265.0 129.5 260.5 130.5 258.0 132.0 264.5 131.0 273.0 131.0 281.5 134.0 287.0 137.5 294.0 144.5 296.5 149.5 303.5 172.0 302.5 165.5 298.0 149.5 294.5 142.5 294.5 140.5 291.0 136.5 291.0 135.5 292.0 135.0 295.0 136.0 306.0 141.5 312.0 148.0 317.5 159.0 319.0 165.0 319.0 178.5 316.0 192.5 313.0 199.5 311.0 202.0 307.5 198.0 305.5 186.0 306.0 201.0 305.0 206.0 300.0 217.5 293.5 227.0 287.5 233.0 278.0 240.0 272.5 242.5 262.5 245.0 261.5 247.0 264.0 249.0 274.5 248.0 283.5 245.5 290.0 242.0 296.0 236.5 300.5 230.0 304.5 222.0 307.5 212.5 309.0 204.5 310.0 203.5 311.5 203.5 316.5 193.0 319.5 181.0 319.5 163.0 316.0 153.0 310.5 143.5 307.5 140.5 302.0 137.5ZM105.5 128.5 103.5 129.5 102.5 132.5 109.5 149.5 114.0 158.5 117.0 161.5 118.0 160.5 114.0 141.5 108.5 129.5Z"/>
<path fill-rule="evenodd" fill="#d10d06" d="M307.0 197.5 306.0 199.5 305.0 206.5 302.5 213.0 292.0 229.0 279.5 239.5 274.5 242.0 263.0 245.0 263.0 248.0 273.5 248.0 284.5 245.0 290.5 241.5 297.0 235.0 304.5 221.5 307.5 212.0 309.5 201.0ZM261.5 131.0 271.5 130.5 282.0 134.0 286.0 136.5 294.5 145.0 300.0 158.5 297.5 149.0 294.5 143.0 294.5 141.0 289.0 133.5 277.0 129.5 268.0 129.5ZM104.5 129.5 103.0 132.0 112.5 153.5 115.0 155.5 115.5 150.5 112.5 139.5 108.5 130.5 106.0 129.0Z"/>
<path fill-rule="evenodd" fill="#c51122" d="M307.5 199.0 306.5 199.5 303.5 211.0 300.5 217.0 293.0 228.0 283.5 237.5 275.5 242.0 264.0 245.0 263.0 246.0 263.5 248.0 272.0 248.0 281.5 246.0 291.0 241.0 296.5 235.5 301.0 228.5 306.0 217.0 309.5 201.5ZM105.0 130.0 104.0 131.0 105.0 135.5 110.5 147.5 113.0 149.5 113.5 145.0 108.0 131.0 107.0 130.0ZM273.5 130.5 275.5 132.0 284.0 135.0 294.5 144.0 294.0 140.5 288.0 133.5 281.0 130.5 276.0 129.5Z"/>
<path fill-rule="evenodd" fill="#bb1742" d="M308.0 200.0 306.5 200.5 305.0 207.5 300.0 218.0 294.0 227.0 283.5 238.5 276.5 242.0 264.5 245.5 263.5 246.5 264.5 248.0 274.5 247.5 282.5 245.5 289.5 242.0 295.0 237.0 300.0 230.0 305.0 219.5 308.5 207.0 309.0 201.0ZM275.0 130.0 275.0 131.5 282.5 134.0 288.0 138.0 292.5 142.5 294.0 142.5 294.0 140.5 288.5 134.0 280.5 130.5Z"/>
<path fill-rule="evenodd" fill="#cf397d" d="M308.5 202.0 307.5 201.5 306.5 202.5 304.0 210.5 301.0 216.5 287.5 235.5 284.0 239.0 275.0 243.0 268.5 244.5 265.5 246.0 265.5 247.5 273.5 247.5 283.5 245.0 290.0 241.5 297.0 234.5 304.5 220.5 308.0 208.5ZM276.0 131.0 286.5 136.5 293.0 142.5 294.0 141.5 293.5 140.0 287.5 133.5 281.5 131.0Z"/>
<path fill-rule="evenodd" fill="#e45ab8" d="M307.5 203.5 306.0 204.5 303.0 213.0 299.0 220.0 288.0 235.5 283.0 240.0 269.0 245.0 267.0 247.0 275.5 247.0 284.5 244.5 290.5 241.0 296.0 235.5 299.5 230.5 305.5 217.5 308.0 208.0ZM277.5 131.5 283.0 134.0 292.0 141.5 293.5 141.5 292.0 138.5 287.0 133.5 281.0 131.0Z"/>
<path fill-rule="evenodd" fill="#f281e1" d="M307.5 205.5 306.0 206.0 301.5 216.0 288.0 236.0 283.5 240.0 269.5 245.5 269.5 247.0 274.5 247.0 283.0 245.0 289.5 241.5 295.0 236.5 300.5 228.5 304.0 221.0 307.5 209.5ZM279.0 131.5 279.5 132.5 285.5 135.5 290.5 140.0 293.0 141.0 287.5 134.0 284.0 132.0Z"/>
<path fill-rule="evenodd" fill="#f7b2ec" d="M307.0 207.5 305.5 208.0 300.5 218.0 289.0 235.0 283.0 240.5 272.0 245.0 271.0 246.5 276.5 246.5 284.0 244.5 289.5 241.5 294.0 237.5 298.0 232.5 303.5 222.0 307.0 211.0ZM280.5 132.0 290.5 139.5 291.5 139.5 290.5 137.5 286.5 133.5 283.0 132.0Z"/>
<path fill-rule="evenodd" fill="#fce2f8" d="M306.5 209.0 304.5 210.5 296.0 225.5 288.5 236.0 282.5 241.0 273.5 245.0 273.0 246.0 278.5 246.0 286.0 243.5 290.0 241.0 296.5 234.5 300.0 229.0 304.5 219.0 306.5 212.0ZM282.0 132.5 287.5 137.0 290.0 138.0 287.0 134.0 284.0 132.5Z"/>
<path fill-rule="evenodd" fill="#fcfcfc" d="M306.0 211.0 304.5 211.5 296.5 225.0 289.5 235.0 285.0 239.5 275.5 244.5 274.5 245.5 275.0 246.0 280.0 245.5 287.5 242.5 296.0 235.0 303.0 222.5 305.5 215.5ZM283.0 133.0 286.5 136.0 288.5 136.5 286.0 133.5Z"/>
<path fill-rule="evenodd" fill="#f5f5f5" d="M305.0 212.5 303.5 213.5 297.0 224.5 288.0 237.0 283.0 241.0 277.0 244.0 276.5 245.5 281.0 245.0 289.0 241.5 295.0 236.0 299.5 229.5 303.5 221.0 305.5 214.5ZM284.5 133.5 285.5 135.0 287.0 135.5 286.0 134.0Z"/>
<path fill-rule="evenodd" fill="#efefef" d="M305.0 214.0 304.0 214.0 302.0 216.0 296.5 225.5 289.0 236.0 285.5 239.5 278.5 243.5 277.5 245.0 284.0 244.0 289.5 241.0 294.0 237.0 300.5 227.5 303.0 222.0Z"/>
<path fill-rule="evenodd" fill="#e5e5e5" d="M304.5 215.0 303.5 215.0 302.0 216.5 290.0 235.0 285.0 240.0 279.0 243.5 278.5 244.5 282.0 244.5 286.0 243.0 290.0 240.5 296.5 234.0 302.0 224.0 304.5 217.0Z"/>
<path fill-rule="evenodd" fill="#d7d7d7" d="M303.5 217.0 302.5 217.0 289.5 236.0 285.5 240.0 281.5 242.5 281.0 244.0 284.0 243.5 289.0 241.0 295.5 235.0 301.5 224.5 303.5 219.0Z"/>
<path fill-rule="evenodd" fill="#c9c9c9" d="M302.5 219.0 300.0 221.0 290.5 235.0 283.0 243.0 285.5 242.5 290.0 240.0 296.5 233.5 301.5 224.0Z"/>
<path fill-rule="evenodd" fill="#b8b8b8" d="M301.5 221.0 299.5 222.5 290.0 236.0 285.0 241.0 285.0 242.0 291.0 239.0 295.5 234.5 299.0 229.0 301.5 223.0Z"/>
<path fill-rule="evenodd" fill="#a4a4a4" d="M300.0 224.0 297.5 226.0 287.5 240.0 291.0 238.5 296.0 233.5 299.5 227.0Z"/>
<path fill-rule="evenodd" fill="#8c8c8c" d="M298.5 226.5 294.0 231.0 289.5 238.0 291.5 237.5 296.0 233.0 298.0 229.5Z"/>
<path fill-rule="evenodd" fill="#6a6a6a" d="M296.5 229.5 293.5 232.5 292.5 235.5 295.5 233.0Z"/>
</g></g>
<circle cx="230.0" cy="177.8" r="73.5" fill="none" stroke="#14142a" stroke-width="0.6"/>
<circle cx="230.0" cy="177.8" r="5.6" fill="#f2ea2a" stroke="#050510" stroke-width="3"/>
<circle cx="160.4" cy="160.9" r="3.8" fill="#e07868" stroke="#050510" stroke-width="2"/>
<circle cx="160.0" cy="202.0" r="3.8" fill="#7470d8" stroke="#050510" stroke-width="2"/>
<circle cx="304.2" cy="177.9" r="3.8" fill="#84dc78" stroke="#050510" stroke-width="2"/>
<g clip-path="url(#cd2)"><g filter="url(#bl)">
<path fill-rule="evenodd" fill="#5846a0" d="M102.0 315.0 102.0 569.5 356.5 569.5 356.5 315.0Z"/>
<path fill-rule="evenodd" fill="#4642b6" d="M102.0 315.0 102.0 569.5 356.5 569.5 356.5 315.0Z"/>
<path fill-rule="evenodd" fill="#3f40c2" d="M102.0 315.0 102.0 569.5 356.5 569.5 356.5 315.0Z"/>
<path fill-rule="evenodd" fill="#3e40cd" d="M102.0 315.0 102.0 569.5 356.5 569.5 356.5 315.0Z"/>
<path fill-rule="evenodd" fill="#3e40d6" d="M102.0 315.0 102.0 569.5 356.5 569.5 356.5 315.0Z"/>
<path fill-rule="evenodd" fill="#3d42dd" d="M102.0 315.0 102.0 569.5 356.5 569.5 356.5 315.0Z"/>
<path fill-rule="evenodd" fill="#3d43e4" d="M102.0 315.0 102.0 569.5 356.5 569.5 356.5 315.0Z"/>
<path fill-rule="evenodd" fill="#3c45ea" d="M245.5 432.5 248.5 431.5 250.0 432.5 250.0 433.5 249.0 434.5 247.5 434.5ZM102.0 315.0 102.0 569.5 356.5 569.5 356.5 315.0Z"/>
<path fill-rule="evenodd" fill="#3c48f0" d="M243.5 432.0 245.0 430.5 249.5 430.5 252.0 432.5 252.0 434.0 250.5 435.5 246.5 435.5 243.5 433.0ZM102.0 315.0 102.0 569.5 356.5 569.5 356.5 315.0Z"/>
<path fill-rule="evenodd" fill="#3b53f3" d="M242.0 431.5 244.5 429.5 249.0 429.5 251.0 430.5 253.5 433.5 250.5 436.5 247.0 436.5 244.5 435.5 242.0 433.0ZM102.0 315.0 102.0 569.5 356.5 569.5 356.5 315.0Z"/>
<path fill-rule="evenodd" fill="#3a5df6" d="M240.5 432.0 242.5 429.5 247.5 428.5 251.5 430.0 254.0 432.5 254.0 435.0 251.5 437.0 246.0 437.0 243.5 436.0ZM102.0 315.0 102.0 569.5 356.5 569.5 356.5 315.0Z"/>
<path fill-rule="evenodd" fill="#3968f8" d="M239.5 431.0 242.0 428.5 248.5 428.0 252.0 429.5 254.5 432.0 255.0 434.0 254.0 436.0 252.0 437.5 247.5 438.0 241.5 435.5 239.5 433.0ZM102.0 315.0 102.0 569.5 356.5 569.5 356.5 315.0Z"/>
<path fill-rule="evenodd" fill="#3774fa" d="M238.5 430.5 240.0 428.5 242.0 427.5 248.5 427.5 253.5 430.0 255.5 433.0 255.5 434.5 252.0 438.0 246.5 438.5 241.0 436.0 238.5 433.0ZM102.0 315.0 102.0 569.5 356.5 569.5 356.5 502.5 351.0 503.5 347.0 507.0 345.5 510.0 343.0 519.5 340.0 525.5 332.5 536.0 325.5 541.5 315.5 547.0 308.0 549.0 301.0 549.0 297.5 547.5 290.0 540.0 284.0 528.0 284.5 518.5 288.5 507.0 291.5 502.5 299.5 495.5 302.5 494.0 313.0 485.5 319.0 482.0 333.5 479.0 340.0 479.5 343.0 482.0 345.5 486.5 346.0 489.0 349.5 493.0 352.5 494.5 356.5 495.0 356.5 315.0Z"/>
<path fill-rule="evenodd" fill="#3282fc" d="M237.5 429.5 239.5 427.5 242.5 426.5 249.0 427.0 251.5 428.0 256.0 432.5 256.0 435.0 252.5 438.5 246.0 439.0 241.0 437.0 238.0 434.0 237.0 431.5ZM102.0 315.0 102.0 569.5 356.5 569.5 356.5 507.5 353.5 508.0 350.5 511.0 347.5 522.0 344.5 528.0 336.0 540.0 323.0 549.0 311.5 554.0 304.5 555.5 298.5 555.5 292.5 553.0 286.5 547.5 279.0 536.0 277.0 529.0 278.5 519.0 283.5 505.0 285.5 502.0 288.5 499.0 301.5 491.0 315.5 479.0 320.0 476.5 334.5 474.0 341.5 471.5 343.0 472.0 345.5 474.5 350.5 486.5 353.5 489.5 356.5 490.0 356.5 315.0Z"/>
<path fill-rule="evenodd" fill="#2d91fd" d="M236.0 430.5 236.5 429.0 240.0 426.0 247.5 426.0 251.5 427.5 256.0 431.5 256.5 435.5 251.5 439.5 245.5 439.5 240.5 437.5 236.5 433.5ZM102.0 315.0 102.0 569.5 356.5 569.5 356.5 510.0 353.5 511.0 350.5 521.5 347.5 528.0 341.5 537.0 335.0 544.0 328.0 549.0 319.0 554.0 305.5 558.0 297.5 558.5 293.5 557.5 286.0 553.0 277.0 541.0 275.5 538.0 274.0 529.5 276.5 517.5 281.0 505.0 283.5 501.0 286.0 498.5 293.0 495.0 300.5 490.0 317.5 475.5 324.5 473.0 335.5 471.5 342.5 468.5 345.0 469.0 347.5 475.0 352.0 482.0 353.5 486.5 356.5 487.5 356.5 315.0Z"/>
<path fill-rule="evenodd" fill="#299ffe" d="M235.5 428.5 239.0 425.0 248.0 425.5 252.5 427.5 256.5 431.5 257.0 435.5 253.0 439.5 249.5 440.5 245.0 440.0 240.0 438.0 236.5 435.0 235.0 432.0ZM102.0 315.0 102.0 569.5 356.5 569.5 356.5 511.5 354.5 512.5 352.5 521.0 348.5 529.5 340.0 541.5 334.0 547.0 324.5 553.0 316.0 557.0 299.0 561.0 292.0 560.0 285.5 557.0 279.5 551.5 275.0 545.0 272.5 539.5 271.5 534.5 273.0 522.5 278.0 507.5 281.0 501.5 284.5 498.0 300.0 489.5 316.5 474.5 319.0 473.0 323.5 471.5 336.5 469.5 339.0 468.0 340.5 468.0 342.0 466.5 345.0 466.0 346.5 467.5 347.5 471.5 352.0 478.5 354.5 485.0 356.5 486.0 356.5 315.0Z"/>
<path fill-rule="evenodd" fill="#22aefd" d="M138.0 482.5 140.5 482.0 153.5 486.5 173.0 490.0 175.5 491.5 173.5 492.5 167.5 492.5 155.5 490.5 146.0 487.5 141.0 485.0ZM352.5 439.5 351.5 441.0 350.0 451.5 348.0 459.0 348.0 468.5 348.5 471.0 353.0 477.0 356.5 484.5 356.5 442.0 355.0 442.0ZM235.0 427.0 239.0 423.0 250.0 425.5 256.0 430.0 257.5 432.5 257.5 435.5 254.5 439.0 252.0 440.5 246.5 441.0 242.5 440.0 238.0 437.5 235.0 434.5 234.0 431.0ZM242.5 408.0 243.5 409.5 243.0 413.0 242.0 415.0 239.5 417.0 238.5 416.0 238.5 412.5 239.5 410.0 241.5 408.0ZM102.0 315.0 102.0 569.5 196.0 569.5 203.0 563.5 210.5 559.5 220.0 556.0 240.5 551.5 258.0 545.0 267.5 552.5 267.0 553.0 270.5 557.5 273.0 563.0 278.0 569.5 356.5 569.5 356.5 513.0 355.5 514.0 353.5 522.5 349.5 531.0 341.0 543.0 331.0 551.0 317.5 558.0 301.5 562.5 286.5 563.0 283.0 562.0 278.0 559.0 277.5 559.5 271.5 556.0 268.5 552.0 267.5 548.5 267.5 539.0 269.5 528.5 275.0 511.5 278.0 504.0 280.5 500.0 283.5 497.5 291.5 494.0 297.5 489.5 300.0 488.5 318.5 472.0 323.5 470.0 338.5 467.5 341.0 466.0 343.5 463.0 346.0 457.0 346.5 439.0 345.0 421.0 341.5 411.5 336.5 404.5 326.0 394.5 318.0 390.0 304.0 385.0 289.0 381.5 258.5 378.0 243.5 378.0 234.0 379.5 232.5 378.0 234.0 376.5 242.5 374.5 253.5 374.0 283.0 377.0 297.0 379.5 315.5 385.0 325.0 389.5 340.0 401.5 340.5 400.0 338.0 391.5 330.0 376.0 331.5 375.5 340.5 386.0 346.5 398.0 354.0 421.5 356.5 435.5 356.5 315.0Z"/>
<path fill-rule="evenodd" fill="#18bcf8" d="M356.5 514.0 354.5 522.5 350.5 531.0 344.5 540.0 338.0 547.0 331.0 552.0 320.0 558.0 306.0 562.0 303.5 563.5 296.5 564.5 293.5 566.0 291.5 569.5 356.5 569.5ZM353.5 443.0 352.0 447.0 349.0 466.0 350.0 471.5 354.0 477.0 356.5 483.5 356.5 443.0ZM242.0 404.0 243.5 404.0 245.5 407.0 245.0 412.0 242.0 419.0 242.5 422.0 252.0 426.0 256.5 430.0 258.0 432.5 257.5 436.5 254.5 439.5 250.5 441.5 245.0 441.5 238.0 438.5 234.0 434.5 233.5 433.0 233.5 428.5 236.5 422.0 237.0 411.5 239.0 407.0ZM102.0 315.0 102.0 450.0 103.0 450.0 116.5 464.5 123.5 470.0 135.5 477.0 153.0 484.0 171.0 487.5 190.5 488.0 203.5 485.5 212.5 482.5 214.0 483.0 212.0 485.5 204.0 490.0 189.5 494.5 169.0 495.0 156.0 493.0 140.0 487.5 124.5 479.0 112.0 468.5 102.0 455.5 102.0 569.5 181.0 569.5 183.0 566.0 192.5 557.5 194.0 555.0 193.0 554.0 163.0 554.0 153.5 553.0 141.0 549.5 138.5 547.5 139.0 547.0 156.0 548.5 172.0 548.5 183.0 547.0 191.5 545.0 206.0 540.0 214.5 536.0 222.5 531.0 227.0 534.0 221.0 542.0 221.0 543.0 222.5 544.0 237.0 541.0 255.5 533.5 264.5 532.5 266.5 531.5 266.5 530.5 268.0 529.0 277.5 502.0 280.0 499.0 293.0 492.5 302.0 486.5 319.0 470.5 322.5 469.0 335.5 467.5 339.0 466.0 341.5 463.5 343.5 459.0 345.0 446.0 344.0 421.5 342.5 416.0 339.5 410.0 335.5 404.5 328.0 397.0 320.5 392.0 311.0 388.0 287.5 382.0 254.5 378.5 246.0 378.5 233.5 380.0 232.0 378.0 234.0 376.0 244.0 373.5 258.0 373.5 288.0 377.0 306.0 381.0 317.5 385.0 324.0 388.0 334.5 396.0 337.5 397.0 335.0 389.0 326.0 373.0 326.0 371.5 327.5 370.0 328.5 370.0 339.5 382.0 346.0 393.5 351.0 407.0 355.0 421.0 356.5 431.5 356.5 315.0Z"/>
<path fill-rule="evenodd" fill="#0fcbf3" d="M356.5 520.0 356.0 523.0 352.0 531.5 346.0 540.5 338.5 548.5 331.5 553.5 320.5 559.5 300.5 566.0 297.0 568.0 296.0 569.5 356.5 569.5ZM356.5 443.5 353.5 445.5 350.5 462.5 351.0 470.5 355.5 476.5 356.5 479.0ZM242.5 401.0 245.5 401.5 247.0 405.5 246.5 411.0 244.0 418.5 244.5 421.5 252.0 425.5 257.5 430.5 258.5 432.5 258.5 435.5 257.5 437.5 253.0 441.0 249.5 442.5 242.0 441.5 238.0 439.5 235.0 437.0 232.5 432.5 233.0 427.5 235.0 422.0 235.5 412.0 238.0 405.5ZM102.0 315.0 102.0 448.0 103.5 448.5 118.0 464.0 126.0 470.0 142.0 478.5 158.0 484.0 180.0 487.0 191.0 486.5 208.5 482.0 216.0 478.0 222.5 472.5 223.5 473.5 222.0 478.5 217.0 484.5 212.0 488.0 202.0 492.5 191.5 495.5 184.5 496.5 165.5 496.0 157.0 494.5 145.0 491.0 126.5 482.0 113.5 472.0 107.0 465.0 102.0 458.0 102.0 569.5 177.0 569.5 179.5 564.0 184.5 558.5 183.5 556.0 162.5 555.5 145.0 553.0 128.5 547.5 127.0 545.0 128.5 542.5 130.0 542.0 141.5 545.0 151.0 546.5 173.5 547.0 186.0 545.0 203.5 539.5 215.0 534.0 221.5 529.5 223.0 529.5 226.0 532.0 229.5 532.5 230.5 533.5 229.5 536.5 231.0 538.0 238.0 536.5 254.0 530.0 264.5 528.0 268.5 522.5 276.5 501.5 280.5 497.5 291.0 493.0 299.0 488.0 309.0 479.5 318.5 469.5 328.0 466.5 336.0 466.0 340.5 463.0 343.0 455.5 344.0 444.0 343.5 425.0 342.5 419.0 341.0 414.5 337.0 407.5 325.0 395.5 313.0 389.5 300.5 385.5 289.5 383.0 259.5 379.5 243.0 379.5 234.0 380.5 232.0 379.0 232.0 377.0 233.0 376.0 239.5 374.0 247.5 372.5 260.0 373.0 286.0 376.0 299.0 378.5 311.5 382.0 320.5 385.5 328.0 389.5 332.5 393.0 334.5 393.5 334.0 390.5 325.0 372.5 327.0 369.5 329.0 369.5 338.0 378.5 345.5 390.0 352.0 407.0 356.0 421.5 356.5 428.0 356.5 315.0Z"/>
<path fill-rule="evenodd" fill="#05daee" d="M356.5 525.0 353.0 533.0 347.0 542.0 337.5 551.5 321.0 561.0 305.5 566.0 299.5 569.5 356.5 569.5ZM356.5 444.5 354.5 446.0 351.5 463.0 352.0 469.5 356.5 475.5ZM243.0 398.0 245.5 398.0 248.0 401.5 248.0 408.5 245.5 419.5 248.0 422.5 254.5 427.0 257.5 430.0 259.0 433.0 259.0 435.5 258.0 437.5 253.5 441.5 248.5 443.5 242.0 442.5 238.0 440.5 234.0 437.0 232.0 433.5 232.0 428.0 234.0 421.5 234.5 411.0 235.5 407.0 238.0 402.5ZM102.0 315.0 102.0 447.0 104.0 447.5 118.0 462.5 129.0 470.5 147.5 479.5 155.0 482.0 167.5 484.5 175.5 485.5 190.0 485.5 203.5 482.5 214.0 478.0 218.5 474.5 225.0 467.0 226.0 467.5 225.0 474.0 222.5 479.5 218.0 485.0 212.5 489.0 204.0 493.0 189.5 497.0 169.5 497.5 152.0 494.5 143.0 491.5 127.5 484.0 114.5 474.5 108.0 468.0 102.0 460.0 102.0 569.5 174.5 569.5 174.5 567.5 179.5 559.5 179.0 558.0 175.0 557.0 155.0 556.0 142.5 553.5 128.0 548.5 126.0 546.0 126.0 544.0 128.0 541.5 131.0 541.0 145.0 544.5 159.5 546.0 172.0 546.0 183.0 544.5 205.0 537.5 215.0 532.5 221.5 528.0 223.0 528.0 226.5 531.5 230.0 531.5 231.5 530.5 240.5 518.5 240.5 521.5 235.0 531.0 235.0 533.5 241.0 532.5 244.5 530.5 252.0 528.5 254.0 527.0 261.5 526.0 264.0 524.5 267.0 521.0 272.5 506.5 276.5 499.5 281.5 496.0 290.0 493.0 299.0 487.5 304.0 483.5 319.0 468.5 328.0 465.0 336.0 464.5 340.0 461.5 342.0 455.5 343.0 444.5 342.5 424.5 341.5 418.5 338.5 411.0 335.0 406.0 324.5 396.0 311.0 389.5 301.5 386.5 286.0 383.0 256.5 380.0 245.0 380.0 236.5 381.0 233.0 380.5 231.5 379.0 231.5 377.5 233.0 375.5 245.5 372.0 256.0 372.0 272.5 373.5 290.5 376.0 304.0 379.0 315.0 382.5 331.5 390.0 324.5 373.5 325.0 371.0 327.0 369.0 329.0 369.0 339.5 379.0 345.0 387.0 351.0 401.0 356.5 421.5 356.5 315.0Z"/>
<path fill-rule="evenodd" fill="#00e0e0" d="M356.5 530.0 355.0 533.5 349.0 542.5 338.0 553.5 322.5 562.5 313.0 565.5 304.5 569.5 356.5 569.5ZM356.5 445.5 355.0 448.5 352.5 465.0 353.5 468.5 356.5 472.0ZM243.5 394.5 246.5 394.5 248.5 396.5 249.5 399.0 249.5 405.0 247.0 417.5 247.5 420.0 258.0 430.0 259.5 433.5 258.5 437.5 253.0 442.5 248.5 444.5 243.0 444.0 238.0 441.5 232.5 436.0 231.0 432.0 233.5 420.5 234.0 406.0 236.5 400.5 241.5 395.5ZM102.0 315.0 102.0 446.0 105.0 447.0 118.5 461.5 130.5 470.0 143.5 476.5 152.5 480.0 169.0 483.5 177.5 484.5 188.5 484.5 204.5 481.0 215.0 476.0 219.0 472.5 226.0 463.5 227.0 464.5 227.0 469.5 226.0 473.5 223.0 480.0 221.0 483.0 213.5 489.5 204.5 494.0 193.0 497.5 187.5 498.5 175.0 499.0 162.5 498.0 151.0 495.5 141.0 492.0 128.5 486.0 115.5 477.0 106.0 467.5 102.0 462.0 102.0 569.5 171.5 569.5 171.5 566.0 174.0 561.5 174.0 560.0 173.0 559.0 145.5 555.5 128.5 550.0 125.0 546.5 125.0 543.5 127.5 540.5 131.5 540.0 149.5 544.0 163.0 545.0 175.5 544.5 188.0 542.0 202.5 537.0 215.0 531.0 221.5 526.5 223.0 526.5 225.5 530.5 228.0 531.5 230.0 531.0 240.0 517.5 243.5 510.0 246.5 498.5 247.0 504.0 245.5 512.0 240.5 525.0 240.0 528.0 244.0 527.5 253.0 524.0 260.5 522.5 263.5 521.0 265.5 518.5 272.0 503.0 276.0 498.5 279.5 497.0 281.0 495.5 289.0 493.0 299.0 487.0 304.0 483.0 319.0 467.5 322.0 465.5 328.5 463.0 336.5 462.5 339.0 460.5 341.0 454.5 342.0 442.5 341.5 425.5 339.5 415.0 335.5 408.0 325.0 397.5 314.0 391.5 292.5 385.0 281.5 383.0 259.0 381.0 236.5 381.5 232.5 380.5 231.0 378.0 232.5 375.5 237.0 374.5 244.0 371.5 260.5 371.5 295.0 376.0 309.0 379.5 325.5 385.0 322.5 380.0 324.5 378.5 324.0 372.0 326.0 369.0 329.0 368.5 339.0 377.0 345.0 385.0 351.0 398.0 355.0 410.5 356.5 418.0 356.5 315.0Z"/>
<path fill-rule="evenodd" fill="#00dec9" d="M356.5 536.5 348.5 548.0 340.5 555.5 323.5 565.5 312.0 569.5 356.5 569.5ZM356.5 448.5 354.5 461.0 355.0 465.5 356.5 467.5ZM246.0 389.0 249.0 390.0 251.0 393.0 251.0 400.5 248.5 418.5 249.5 421.0 258.5 430.0 259.5 432.0 259.0 437.5 252.0 444.0 248.5 446.0 243.5 446.0 240.0 444.5 232.5 437.0 230.5 433.0 231.0 427.0 232.5 421.5 232.5 405.5 234.0 400.0 237.5 394.5 241.0 391.0ZM102.0 315.0 102.0 445.0 106.5 447.0 118.5 460.0 131.0 468.5 149.0 477.0 167.0 481.5 179.0 483.0 188.0 483.0 204.5 479.5 212.5 476.0 216.0 473.5 226.0 462.0 227.0 462.0 228.0 463.5 228.0 467.5 225.5 476.5 222.5 482.0 216.5 488.5 210.5 492.5 203.0 496.0 193.0 499.0 181.5 500.5 173.0 500.5 159.0 499.0 147.0 496.0 139.0 493.0 126.0 486.5 118.5 481.5 106.5 470.5 102.0 464.5 102.0 569.5 167.0 569.5 168.0 561.0 166.5 560.0 145.5 557.0 126.5 550.5 124.5 548.5 123.5 546.0 124.0 542.5 126.5 539.5 131.0 538.5 145.5 542.0 162.5 543.5 178.0 542.5 186.5 540.5 205.0 533.5 216.5 528.0 224.0 523.0 225.0 523.5 225.0 529.5 227.0 531.0 229.0 531.0 230.5 530.0 236.5 522.0 242.5 511.0 245.0 501.0 247.0 484.0 248.0 481.0 249.0 482.0 249.5 485.0 249.5 498.0 248.0 508.5 245.5 517.0 245.0 521.5 248.5 521.5 249.5 520.5 254.5 519.5 261.5 516.5 264.5 513.0 269.0 502.5 272.0 499.5 281.0 495.0 289.0 492.5 298.5 486.5 308.0 478.5 313.5 472.0 323.5 462.5 326.0 461.0 331.5 459.5 336.0 459.5 338.5 457.5 340.5 444.0 340.0 424.5 338.0 414.5 334.5 408.5 324.5 398.5 309.5 391.0 291.0 385.5 283.5 384.0 265.0 382.5 238.5 382.5 233.5 381.5 231.0 379.0 231.0 377.0 233.0 375.0 236.0 374.5 240.5 372.0 246.5 370.0 256.0 370.0 277.0 372.0 307.5 377.0 287.5 370.0 265.0 365.5 241.5 366.0 231.5 368.5 230.5 366.5 231.5 365.5 247.5 361.0 265.0 360.5 273.0 361.5 293.0 366.0 308.5 370.5 322.0 376.0 323.0 375.0 324.5 370.0 326.5 368.5 329.5 368.5 339.5 376.0 346.0 384.0 352.5 398.0 356.0 409.0 356.5 413.0 356.5 315.0Z"/>
<path fill-rule="evenodd" fill="#00dcb2" d="M284.5 385.0 265.5 384.5 258.5 386.5 256.0 389.5 253.5 394.5 251.5 402.0 250.0 411.5 250.0 419.5 253.5 424.5 258.5 429.5 260.0 433.0 260.0 436.0 258.5 439.0 254.5 442.0 247.5 449.5 246.0 453.5 249.5 468.5 253.0 490.0 257.5 496.5 265.0 499.0 273.5 497.5 285.5 493.5 286.0 492.5 289.0 492.0 293.0 490.0 300.5 485.0 308.5 477.5 324.5 458.5 327.0 454.0 329.5 446.0 329.0 433.0 326.0 420.0 321.5 410.0 313.0 398.0 306.5 393.0 297.0 388.5ZM102.0 515.5 111.0 522.5 118.0 526.0 135.0 531.5 157.0 535.0 174.0 534.5 197.0 529.5 213.0 523.0 225.0 514.5 234.5 503.0 235.0 506.0 233.0 512.5 225.0 526.5 225.0 528.5 226.0 530.0 230.0 530.0 237.5 520.0 241.5 512.5 244.0 504.0 246.5 486.0 246.0 468.5 240.5 449.0 238.0 444.0 231.5 436.5 230.0 433.5 230.0 429.5 231.5 423.0 231.5 404.0 233.0 398.5 239.0 387.0 238.5 383.5 236.0 382.0 232.0 381.0 230.5 377.5 233.0 374.5 237.5 373.5 243.0 370.0 244.0 368.5 242.5 367.5 237.5 367.5 231.5 369.0 230.0 367.5 230.0 366.5 231.5 365.0 244.5 361.0 261.0 359.5 271.0 360.5 286.5 363.5 308.0 369.5 321.0 374.5 322.5 373.5 325.0 369.0 326.5 368.0 329.5 368.0 334.0 372.0 341.0 375.0 345.0 375.0 353.0 367.0 355.0 363.5 356.5 358.5 356.0 347.5 349.5 336.0 346.5 332.0 338.0 323.5 325.5 315.0 102.0 315.0 102.0 443.5 107.0 446.0 119.0 458.5 130.0 465.0 139.0 468.0 150.0 468.5 159.5 471.5 171.5 474.0 186.5 475.5 194.5 475.5 206.0 474.0 211.0 472.5 217.0 469.5 226.5 460.5 227.5 460.5 228.5 462.0 228.5 468.0 227.0 474.0 223.5 481.5 221.0 485.0 216.0 490.0 207.0 496.0 200.0 499.5 192.0 502.0 176.0 503.5 154.5 501.5 129.0 495.5 121.0 492.0 109.0 484.5 102.0 484.0Z"/>
<path fill-rule="evenodd" fill="#00da9b" d="M284.0 386.0 275.5 385.5 267.5 386.5 260.0 390.0 255.5 394.5 253.0 399.5 251.0 410.0 251.5 420.5 253.5 424.0 259.0 429.5 260.5 433.5 259.0 439.0 254.0 443.5 250.5 449.5 250.5 462.0 251.5 464.5 253.5 479.0 256.0 486.5 259.5 492.0 262.0 494.5 267.5 496.5 273.5 496.5 279.5 495.0 283.5 493.0 289.0 492.0 300.5 485.0 308.5 477.5 312.5 471.5 318.0 465.5 323.0 456.5 324.5 449.0 325.0 438.5 324.0 431.5 320.0 418.0 314.5 408.0 310.0 402.0 300.5 393.0 294.0 389.0ZM102.0 510.0 108.0 515.5 114.0 519.5 120.5 522.5 133.0 526.5 155.0 530.5 181.0 530.0 198.0 526.5 206.0 523.5 212.5 520.0 219.5 515.0 229.0 505.5 236.5 494.0 237.0 501.5 234.5 511.5 225.5 526.5 225.5 528.5 226.5 530.0 230.0 529.5 236.0 521.5 241.0 513.0 244.0 502.0 246.0 486.5 246.0 473.0 243.0 460.0 240.0 450.5 236.5 443.5 229.5 433.5 229.5 428.5 231.0 420.0 230.5 404.0 232.0 398.0 237.0 386.0 235.5 382.5 233.0 382.0 230.5 379.5 230.5 376.5 232.5 374.5 237.5 373.0 240.0 371.0 241.0 369.0 239.0 368.0 231.5 369.5 229.5 367.5 230.0 365.5 246.5 360.0 266.5 359.5 289.0 363.5 308.5 369.0 319.0 373.0 322.0 373.0 324.0 369.5 327.0 367.5 331.0 368.5 334.0 371.5 336.5 372.5 341.0 372.0 348.0 365.5 350.5 361.5 352.0 357.0 351.5 349.5 346.0 339.5 343.0 335.5 334.5 327.0 325.5 320.5 315.0 315.0 102.0 315.0 102.0 438.5 103.0 440.5 115.0 452.5 123.0 457.5 136.5 460.0 158.5 468.5 171.5 471.5 186.5 473.0 203.5 472.0 211.0 470.0 218.5 466.5 226.5 459.5 228.0 459.5 229.0 461.0 228.5 470.5 226.5 476.5 221.5 485.5 217.5 490.0 212.0 494.5 198.0 503.0 188.0 505.5 176.0 506.5 151.5 504.5 136.0 501.5 124.0 498.0 108.0 488.0 102.0 487.5Z"/>
<path fill-rule="evenodd" fill="#00d884" d="M278.0 442.0 279.0 444.0 279.0 447.5 278.0 449.5 277.0 447.5 277.0 443.5ZM283.5 387.0 269.5 387.5 260.5 391.5 254.5 398.5 252.0 409.0 251.5 416.0 252.5 421.0 259.0 429.0 260.5 432.5 260.0 438.0 254.0 444.0 252.5 447.0 251.5 453.0 252.0 462.0 253.0 464.5 255.0 479.0 257.5 486.0 262.5 493.0 268.5 495.5 274.5 495.5 279.5 494.5 280.5 493.5 285.5 493.0 292.5 489.5 303.0 482.0 311.5 473.5 314.0 469.0 318.5 463.5 321.5 457.0 322.0 451.0 323.5 445.5 323.0 434.5 320.5 424.0 318.5 418.5 312.0 407.0 308.5 402.5 300.0 394.5 292.0 389.5ZM102.0 508.0 108.0 513.5 115.5 518.5 122.5 521.5 138.0 526.0 157.5 529.0 175.5 529.0 184.0 528.0 201.0 524.0 214.5 517.0 219.0 513.5 230.0 502.0 233.0 497.5 237.5 488.0 238.5 489.0 237.5 502.5 235.5 510.5 226.0 526.5 226.5 529.5 229.5 529.5 238.0 518.0 241.0 512.0 243.5 503.0 245.5 488.5 245.5 472.5 244.0 465.0 239.0 449.5 229.0 433.0 229.0 426.0 230.0 422.0 229.5 404.0 231.5 396.5 235.5 388.0 235.5 384.0 230.5 380.0 230.0 377.0 232.0 374.5 235.5 373.5 239.0 371.0 239.0 369.0 233.0 370.0 230.5 369.5 229.0 367.5 229.5 365.5 231.5 364.0 247.0 359.5 266.0 359.0 282.0 361.5 296.0 365.5 302.5 366.5 319.5 372.5 322.0 372.0 326.0 367.5 330.0 367.5 334.0 371.0 338.5 371.5 346.5 365.0 349.0 361.0 350.5 356.5 350.0 350.0 344.5 340.0 334.0 328.5 322.5 320.5 310.5 315.0 102.0 315.0 102.0 422.0 104.5 428.0 106.5 437.5 111.0 445.0 116.5 450.0 123.0 453.5 133.0 456.5 154.5 466.0 166.0 469.5 175.0 471.0 186.0 472.0 195.0 472.0 203.5 471.0 212.0 468.5 218.5 465.5 227.0 458.5 228.0 458.5 229.5 460.5 229.5 467.5 226.0 479.0 222.0 486.0 212.0 496.0 205.0 501.0 197.0 505.0 188.5 507.0 178.5 508.0 169.0 508.0 150.0 506.0 135.0 503.0 124.5 500.0 107.5 489.5 102.0 489.0Z"/>
<path fill-rule="evenodd" fill="#00d66d" d="M278.0 438.0 279.5 440.5 279.5 451.0 278.0 453.5 276.5 451.0 276.5 440.5ZM283.5 388.0 275.5 388.0 268.5 389.0 261.0 392.5 258.0 395.0 255.5 398.5 254.0 402.0 252.5 409.5 252.5 418.0 253.5 422.0 258.0 427.0 261.0 433.0 261.0 436.0 259.5 439.5 254.0 445.0 253.0 448.5 253.0 462.0 254.0 464.5 256.0 479.0 257.5 481.5 258.0 484.5 262.0 491.0 267.0 494.0 272.0 495.0 282.5 493.5 283.5 492.5 286.5 492.0 292.5 489.0 303.0 481.5 313.5 470.5 315.5 466.0 317.0 464.5 320.5 456.5 322.0 446.5 322.0 437.5 320.5 428.5 317.5 419.0 312.0 409.0 307.5 403.0 299.5 395.5 290.5 390.0ZM102.0 506.5 108.0 512.0 114.5 516.5 122.0 520.0 137.0 524.5 151.0 527.0 162.5 528.0 179.0 527.5 189.0 526.0 197.5 524.0 206.5 520.5 218.0 513.0 227.5 503.5 232.5 496.5 235.5 490.0 237.5 482.5 238.5 482.0 239.0 494.5 237.5 505.0 235.5 511.5 233.0 516.5 226.0 527.5 227.0 529.5 228.5 529.5 236.0 520.5 240.5 512.5 243.5 501.0 245.5 483.5 245.0 471.5 239.0 450.5 236.5 447.5 233.0 439.5 229.5 435.5 228.0 430.5 229.0 423.5 228.5 405.0 230.5 396.5 235.0 386.0 234.5 384.0 230.0 380.0 230.0 376.5 232.0 374.0 236.5 372.5 238.5 370.5 230.5 370.0 229.0 368.5 229.0 365.5 230.5 364.0 247.0 359.0 266.0 358.5 286.0 362.0 314.0 369.5 318.5 371.5 322.0 371.5 326.5 367.0 329.5 367.0 334.0 370.5 337.5 371.0 345.5 364.5 349.5 356.5 349.5 351.5 343.5 340.5 333.5 329.5 322.0 321.5 307.5 315.0 102.0 315.0 102.0 419.5 105.5 426.0 110.0 438.0 115.0 445.0 121.0 449.5 149.0 463.0 161.0 467.5 172.5 470.0 181.5 471.0 202.0 470.5 215.0 466.5 220.5 463.5 227.0 458.0 228.5 458.0 230.0 460.5 230.0 467.5 227.0 478.0 221.5 488.0 213.0 496.5 205.5 502.0 197.5 506.0 192.5 507.5 181.0 509.0 165.5 509.0 148.5 507.0 126.5 502.0 119.0 498.5 109.0 491.5 105.5 490.0 102.5 490.0Z"/>
<path fill-rule="evenodd" fill="#07d45b" d="M277.5 436.0 279.0 436.5 280.0 440.5 280.0 451.5 279.5 454.0 278.0 456.0 276.5 454.0 276.0 451.5 276.0 440.0ZM282.5 388.5 269.5 389.5 262.0 393.0 256.5 398.5 253.5 409.5 253.5 420.5 259.5 428.5 261.0 432.0 261.0 437.0 258.5 441.5 254.0 446.5 254.0 462.0 255.0 464.5 255.5 471.0 256.5 473.5 257.0 479.0 260.0 487.0 263.5 491.5 269.0 494.0 279.0 494.0 280.0 493.0 282.5 493.0 283.5 492.0 286.5 491.5 292.5 488.5 303.0 481.0 315.5 466.5 320.5 453.5 321.5 445.5 321.0 434.5 318.5 424.0 314.0 414.0 307.0 404.0 300.5 397.5 293.5 392.5 289.5 390.5ZM102.0 505.5 109.0 511.5 116.5 516.5 137.5 523.5 151.5 526.0 164.5 527.0 178.5 526.5 191.5 524.5 200.5 522.0 210.0 517.5 219.5 510.5 225.5 504.5 231.5 496.5 234.0 491.5 238.5 476.5 239.5 477.5 240.0 481.0 238.5 502.0 236.0 511.5 226.5 527.5 227.5 529.0 228.5 529.0 234.5 522.0 240.5 511.5 243.5 499.5 245.0 486.5 245.0 474.5 242.5 462.5 238.5 450.5 235.5 447.0 234.0 442.0 229.5 436.0 227.5 431.0 227.5 405.5 228.5 400.0 233.5 387.5 233.5 384.5 230.5 381.5 229.5 379.5 229.5 376.5 232.0 373.5 236.5 371.5 236.0 370.5 230.5 370.5 228.5 368.5 228.5 365.5 230.5 363.5 245.0 359.0 251.5 358.0 266.0 358.0 288.0 362.0 310.5 368.0 320.0 371.5 327.0 366.5 330.5 367.0 336.0 370.5 339.0 369.0 345.0 363.5 348.5 356.5 348.5 351.5 343.0 341.5 332.5 330.0 326.5 325.5 312.0 317.5 305.0 315.0 102.0 315.0 102.0 418.0 114.5 441.0 120.0 446.5 135.0 455.5 150.5 463.0 167.5 468.5 183.0 470.5 201.5 470.0 213.5 466.5 218.5 464.0 228.0 457.0 229.5 458.0 230.5 460.5 230.5 467.0 229.5 472.0 226.5 480.5 222.0 488.5 212.5 498.0 204.0 504.0 199.0 506.5 192.5 508.5 181.0 510.0 164.5 510.0 151.0 508.5 135.5 505.5 125.0 502.5 118.0 499.0 106.0 491.0 102.0 491.0Z"/>
<path fill-rule="evenodd" fill="#0dd14a" d="M277.5 434.5 278.5 434.5 279.5 436.0 280.5 441.5 280.0 454.0 278.0 457.5 276.5 455.5 275.5 450.5 275.5 440.5ZM282.5 389.0 269.5 390.0 262.0 393.5 256.5 399.0 255.0 402.5 253.5 410.0 254.0 420.0 255.5 423.0 259.0 427.0 261.0 431.0 261.5 434.0 261.0 438.0 255.5 445.5 254.0 449.5 254.5 462.0 255.5 464.5 257.5 479.0 259.0 481.5 259.5 484.5 263.0 490.0 268.0 493.0 272.5 494.0 279.0 493.5 280.0 492.5 286.5 491.0 297.5 484.5 302.5 480.5 309.0 474.0 315.0 466.0 319.5 456.0 321.0 445.5 320.5 434.5 318.0 424.0 313.5 414.0 306.5 404.0 298.5 396.5 289.5 391.0ZM102.0 504.5 115.0 514.5 122.5 518.0 137.5 522.5 151.5 525.0 164.0 526.0 179.0 525.5 194.0 523.0 202.0 520.5 211.5 515.5 217.5 511.0 227.0 501.5 230.5 496.5 234.0 489.5 236.5 481.0 237.5 473.0 238.5 472.0 239.5 473.0 240.5 479.5 239.0 501.5 236.5 511.5 227.5 527.0 227.5 528.0 228.5 528.0 236.5 518.5 241.0 509.0 243.0 500.5 244.5 488.5 244.5 473.0 243.0 465.5 238.5 451.5 235.0 447.5 233.0 440.5 228.5 435.0 226.5 429.0 226.5 405.5 228.0 398.5 232.5 387.0 232.5 384.5 229.0 379.5 229.0 377.0 230.0 375.0 234.0 372.0 230.5 371.0 228.0 368.5 228.0 365.5 230.5 363.0 247.5 358.0 266.0 357.5 288.0 361.5 309.0 367.0 318.5 370.5 321.0 370.5 326.0 366.5 330.0 366.5 333.5 369.0 337.0 370.0 344.5 363.5 348.0 356.5 348.0 351.5 342.5 341.5 332.5 330.5 326.5 326.0 312.0 318.0 303.5 315.0 102.0 315.0 102.0 416.5 112.0 435.0 115.5 440.0 123.5 447.5 136.5 455.5 154.5 464.0 170.5 468.5 183.5 470.0 201.0 469.5 209.5 467.5 220.0 462.5 227.5 456.5 229.0 456.5 230.0 457.5 231.0 460.5 231.0 467.0 230.0 472.0 226.5 482.0 223.0 488.5 212.0 499.5 205.0 504.5 197.5 508.0 189.5 510.0 180.5 511.0 164.5 511.0 145.0 508.5 129.5 505.0 122.5 502.5 106.0 492.0 102.0 492.0Z"/>
<path fill-rule="evenodd" fill="#14cf38" d="M277.5 433.0 279.5 434.5 280.5 438.5 280.5 453.0 279.5 457.0 278.0 459.0 276.0 455.5 275.0 446.5 275.5 438.0ZM265.0 432.5 266.0 433.5 265.5 437.5 264.0 435.5ZM283.0 390.0 275.5 390.0 269.5 391.0 262.5 394.0 259.0 397.0 256.5 401.0 254.0 412.0 254.5 419.0 255.5 422.0 259.0 426.5 261.5 432.5 261.0 438.5 256.5 445.0 255.0 448.5 255.0 461.5 256.0 464.0 258.0 478.5 262.5 488.5 265.0 491.0 268.0 492.5 273.0 493.5 278.5 493.0 289.5 489.0 299.0 482.5 308.5 473.5 312.5 468.5 316.5 461.5 318.5 455.5 320.0 445.0 319.5 435.0 317.0 424.5 313.5 416.0 309.0 408.5 305.5 404.0 298.0 397.0 290.0 392.0ZM102.0 503.0 110.0 510.0 120.0 516.0 132.0 520.0 145.0 523.0 155.5 524.5 173.5 525.0 183.5 524.0 196.0 521.5 202.0 519.5 213.5 513.0 218.0 509.5 227.0 500.0 230.5 495.0 233.5 488.5 236.5 477.0 237.0 468.5 238.0 467.5 239.5 470.0 241.0 479.5 240.0 497.5 237.0 511.5 230.0 524.0 230.5 524.5 237.5 516.0 241.0 507.5 243.5 494.5 244.5 478.0 243.0 467.0 238.0 451.5 234.5 448.0 233.0 441.0 228.5 435.5 225.5 428.0 225.5 405.0 227.0 398.0 231.5 387.0 231.5 384.5 228.5 379.0 229.0 376.0 231.0 372.0 228.0 369.5 227.5 365.5 230.5 362.5 245.0 358.0 251.5 357.0 266.0 357.0 288.5 361.0 311.0 367.0 317.5 369.5 321.5 369.5 326.0 366.0 330.0 366.0 335.0 369.0 336.5 369.0 343.5 363.5 347.0 356.5 347.0 351.5 341.5 341.5 332.5 331.5 321.0 323.5 312.0 319.0 304.0 316.5 302.5 315.0 102.0 315.0 102.0 415.5 112.5 434.0 116.5 439.5 126.5 448.5 143.5 458.5 156.0 464.0 171.0 468.0 184.5 469.5 200.5 469.0 213.0 465.5 218.0 463.0 228.5 455.5 230.5 457.0 231.5 460.0 231.5 467.5 230.5 472.5 227.5 481.5 223.0 490.0 216.5 497.0 205.0 505.5 196.0 509.5 180.0 512.0 165.0 512.0 145.0 509.5 123.5 504.0 104.5 492.5 102.0 493.0Z"/>
<path fill-rule="evenodd" fill="#1acd26" d="M277.5 432.0 278.5 432.0 280.0 434.5 281.0 440.5 280.5 455.0 279.5 458.5 278.0 460.0 276.5 458.5 275.0 451.5 275.0 439.5 275.5 436.0ZM265.5 430.5 266.5 432.5 266.5 437.5 265.0 439.5 263.5 436.5 263.5 433.5ZM281.5 390.5 270.5 391.5 261.0 396.5 256.5 403.0 255.0 410.5 255.5 420.0 259.5 426.5 262.0 433.0 262.0 436.5 261.0 439.5 257.0 445.5 255.5 450.5 256.0 461.5 257.0 464.0 259.0 479.0 261.0 483.0 261.0 484.5 264.0 489.5 270.0 492.5 278.0 492.5 287.0 489.5 296.0 484.0 301.5 479.5 307.5 473.5 314.0 464.5 317.5 455.5 319.0 445.0 318.5 434.5 316.0 424.0 312.0 415.0 308.5 409.5 302.5 402.0 298.0 398.0 291.0 393.5ZM102.0 502.0 111.0 509.5 121.5 515.5 134.0 519.5 145.5 522.0 156.0 523.5 173.0 524.0 183.5 523.0 196.0 520.5 203.0 518.0 214.0 511.5 227.0 498.5 231.5 491.0 234.0 484.0 236.0 474.5 236.5 461.5 238.0 463.5 240.0 469.0 241.5 478.5 240.5 498.0 239.0 507.0 236.5 515.5 239.0 511.5 242.0 501.0 243.5 490.5 244.0 477.0 243.0 469.0 237.0 450.5 235.0 450.0 233.5 448.5 232.5 440.5 228.5 436.0 224.0 426.0 224.5 403.5 226.5 395.5 230.5 385.5 228.0 379.5 228.0 377.0 230.0 372.5 227.0 368.5 227.5 364.5 230.5 362.0 246.5 357.0 267.0 356.5 277.5 358.0 297.0 363.0 299.5 363.0 319.0 369.0 320.5 369.0 326.0 365.5 330.0 365.5 334.5 368.0 336.0 368.0 343.0 362.5 346.5 355.5 346.5 352.5 342.0 344.0 338.0 338.5 331.5 332.0 325.5 327.5 311.0 319.5 303.0 317.0 302.0 315.0 216.0 315.0 215.5 316.0 213.5 316.0 212.5 315.0 102.0 315.0 102.0 414.0 111.5 431.0 118.0 440.0 128.5 449.0 140.0 456.0 152.5 462.0 166.0 466.5 186.0 469.0 203.0 468.0 211.5 465.5 218.5 462.0 228.5 454.5 230.0 454.5 231.5 456.5 232.5 463.0 230.5 475.5 227.0 485.0 223.0 491.5 210.5 503.0 206.0 506.0 196.0 510.5 180.0 513.0 164.5 513.0 147.5 511.0 131.0 507.5 122.0 504.5 104.5 493.5 102.0 494.0Z"/>
<path fill-rule="evenodd" fill="#20cb15" d="M234.5 469.5 234.0 468.0 229.5 482.5 226.0 489.5 223.0 493.5 217.5 499.0 207.5 506.5 202.0 509.5 195.0 512.0 182.0 514.0 156.5 513.5 141.0 511.0 125.0 507.0 117.5 503.5 105.5 495.0 102.0 495.5 102.0 500.5 118.0 512.5 125.0 515.5 137.0 519.0 159.0 522.5 178.0 522.5 191.0 520.5 198.5 518.5 205.5 515.5 214.5 509.5 223.0 501.5 228.5 494.0 231.5 487.5 233.5 480.5ZM235.0 451.0 234.0 452.0 239.0 463.0 241.5 472.0 242.0 490.5 243.0 485.5 242.5 470.0 237.0 451.5ZM277.5 431.0 279.5 432.0 281.0 438.0 281.0 454.0 280.0 458.5 278.5 461.0 277.5 461.0 276.0 458.5 274.5 446.5 275.0 437.5 276.0 433.0ZM281.5 391.5 270.5 392.5 263.0 396.0 260.5 398.0 258.0 401.5 256.0 408.0 256.5 421.0 261.0 429.0 262.5 433.5 265.5 429.0 266.5 430.0 267.0 433.5 266.0 441.0 264.5 441.0 263.5 437.5 262.5 436.5 257.0 447.0 256.5 457.5 258.0 470.0 259.0 472.5 259.5 478.0 263.0 487.0 265.0 489.5 269.5 492.0 277.5 492.0 285.5 489.5 291.0 486.5 301.5 478.5 309.0 470.0 314.0 462.0 316.5 454.5 318.0 444.0 317.5 436.0 315.0 425.0 311.0 415.5 305.5 407.0 296.0 397.5 290.0 394.0ZM102.0 413.0 111.0 429.0 117.0 437.5 124.5 445.0 140.5 455.5 158.0 463.5 172.0 467.0 180.5 468.0 198.5 468.0 206.5 466.5 212.0 464.5 221.0 459.5 228.5 453.5 233.0 447.0 232.0 440.0 227.0 434.0 221.5 423.0 223.0 403.5 225.0 395.5 229.0 385.0 227.5 380.5 227.5 376.5 229.0 373.0 226.0 367.5 227.0 364.0 229.0 362.0 247.5 356.0 266.0 355.5 289.0 359.5 319.5 368.0 327.5 364.5 335.5 367.0 340.5 363.5 343.5 360.0 345.0 356.0 345.0 352.0 340.0 343.0 331.0 333.0 319.5 325.0 311.5 321.0 302.5 318.0 300.5 315.0 217.5 315.0 216.5 317.0 214.5 317.0 212.0 315.0 102.0 315.0Z"/>
<path fill-rule="evenodd" fill="#27c803" d="M104.0 498.0 113.5 507.0 124.0 513.0 138.5 517.5 156.5 520.5 175.0 521.0 193.5 518.0 204.5 513.5 210.5 509.5 214.0 506.0 213.5 505.5 204.0 511.0 195.0 514.0 177.5 516.0 164.5 516.0 150.0 514.5 128.0 510.0 120.5 507.5 108.5 500.0ZM277.5 430.0 278.5 430.0 280.0 432.0 281.5 440.5 281.0 455.5 280.0 459.5 278.5 462.0 277.5 462.0 276.0 459.5 274.5 451.5 275.0 435.5 276.0 432.0ZM282.0 392.5 270.5 393.5 264.0 396.5 259.0 401.5 256.5 410.0 257.0 420.5 262.0 431.5 263.5 431.5 265.5 427.0 267.0 430.0 267.0 439.0 265.5 443.5 264.5 442.5 263.0 438.0 262.0 438.0 257.5 448.0 257.5 459.5 261.5 481.5 264.5 488.0 269.0 491.5 278.0 491.5 285.5 489.0 295.5 482.5 304.0 474.0 308.5 468.0 312.0 461.5 314.5 453.5 316.0 443.5 315.5 435.0 313.5 425.5 310.0 416.5 305.0 408.0 301.0 403.0 296.5 399.0 290.0 395.0ZM209.0 348.5 210.5 350.5 210.0 357.5 208.5 363.0 208.0 369.5 206.5 372.0 206.0 375.0 204.5 376.5 204.0 374.5 204.0 375.5 203.0 375.5 203.0 372.5 204.0 371.5 203.5 366.0 204.5 365.0 206.5 352.0ZM102.0 411.5 110.0 426.0 119.0 438.5 128.0 446.5 140.5 454.5 155.0 461.5 171.0 466.0 186.5 467.5 199.0 467.0 204.5 466.0 214.0 462.5 220.5 458.5 226.5 453.0 226.5 450.5 230.0 449.0 232.5 446.5 232.0 440.5 228.0 436.0 219.5 423.0 218.0 419.5 219.5 415.0 221.5 401.0 224.5 390.0 226.5 385.5 226.5 376.0 227.5 373.5 225.0 368.5 225.0 365.5 227.5 361.5 230.0 360.0 247.5 354.5 266.5 354.0 290.0 358.0 321.0 366.0 327.0 363.5 333.5 365.0 336.5 364.0 341.5 359.0 343.0 355.5 343.0 353.0 338.0 344.0 330.0 335.0 318.5 327.0 309.5 322.5 301.5 320.0 299.0 317.5 298.5 315.0 220.0 315.0 219.5 317.0 217.5 319.0 215.0 318.5 211.0 315.0 102.0 315.0Z"/>
<path fill-rule="evenodd" fill="#40ce00" d="M277.5 429.0 278.5 429.0 280.0 431.0 281.5 438.0 281.5 454.0 280.5 459.5 278.5 463.0 277.5 463.0 276.0 461.0 274.5 454.0 274.5 437.0 276.0 431.0ZM102.0 406.0 102.0 409.5 110.0 424.0 117.0 434.0 123.5 440.5 125.0 441.0 113.0 424.5ZM282.5 393.5 276.0 393.5 270.5 394.5 264.0 397.5 259.0 403.0 257.0 411.5 257.5 420.0 261.5 430.0 262.5 431.0 263.5 430.5 266.0 424.5 267.0 427.5 267.5 436.5 266.5 444.0 265.5 446.0 263.0 439.0 261.0 440.0 261.0 441.5 258.5 446.5 258.0 457.5 261.0 477.5 263.0 484.0 265.5 488.5 270.0 491.5 275.0 491.5 282.0 490.0 287.5 487.5 294.0 483.0 301.5 475.5 306.0 469.0 310.0 461.0 313.0 449.5 313.5 432.5 310.0 420.0 306.5 412.5 303.5 407.5 298.0 401.0 290.0 396.0ZM102.0 315.0 102.0 400.0 104.0 401.5 113.0 419.5 121.5 432.0 127.5 439.0 135.5 446.0 149.0 453.5 167.5 459.0 181.0 461.0 192.5 461.5 206.0 460.0 216.0 456.0 225.0 448.5 228.5 448.5 231.0 447.5 232.0 446.0 232.0 441.5 231.0 439.5 227.5 436.0 222.0 427.0 216.0 419.5 213.5 414.5 213.5 412.0 216.0 409.5 218.0 404.0 220.0 394.5 220.5 381.0 219.5 378.0 215.0 372.5 212.5 371.5 210.5 372.5 209.0 374.5 207.0 380.0 205.0 383.0 203.0 382.5 202.5 371.0 203.5 362.5 204.5 361.0 204.0 359.0 205.0 357.5 204.5 355.5 205.5 354.0 205.5 351.5 207.5 345.0 211.0 338.0 214.5 327.0 214.5 321.0 212.5 317.0 210.5 315.0Z"/>
<path fill-rule="evenodd" fill="#5dd500" d="M277.5 428.0 278.5 428.0 280.0 430.0 282.0 441.0 282.0 451.0 281.0 458.5 280.0 462.0 278.0 464.0 275.5 460.5 274.0 451.0 274.5 435.5 275.5 431.0ZM266.5 417.0 267.0 416.5 267.5 417.5 267.0 418.0ZM281.5 394.0 271.5 395.0 264.5 398.0 259.5 403.5 258.0 409.0 258.0 419.5 261.0 428.5 262.5 430.0 263.5 429.5 265.0 425.5 266.0 419.0 267.0 419.0 267.5 439.0 266.0 452.5 265.0 452.5 264.0 442.5 263.0 440.0 262.0 440.0 259.0 446.5 259.0 459.0 262.0 479.5 265.5 487.5 267.5 490.0 269.5 491.0 277.0 491.0 282.5 489.5 288.5 486.5 294.0 482.5 300.0 476.5 306.5 466.5 309.0 461.0 312.0 450.0 312.5 432.5 309.0 420.0 303.0 408.0 297.0 401.0 289.5 396.5ZM102.0 315.0 102.0 399.0 103.5 399.0 105.0 400.5 115.0 419.5 126.5 435.5 137.5 445.5 150.0 452.5 161.0 456.5 178.5 460.0 198.0 460.5 204.5 459.5 211.0 457.5 216.0 455.0 225.0 447.5 230.5 447.0 231.5 446.0 231.0 440.0 227.5 436.5 222.5 428.5 213.5 417.0 208.5 406.0 208.5 404.0 211.5 402.5 213.5 399.5 214.0 392.0 213.0 388.0 210.5 384.0 209.0 384.0 207.5 385.5 207.5 388.0 205.5 390.0 203.5 388.5 204.0 386.5 203.0 386.0 202.5 384.0 202.0 371.0 204.0 355.5 207.0 343.0 210.5 334.0 212.5 326.0 213.0 321.5 212.5 318.5 210.0 315.0Z"/>
<path fill-rule="evenodd" fill="#7adc00" d="M278.0 427.0 280.0 429.0 282.0 438.0 281.5 457.5 280.0 463.0 278.0 465.0 276.0 463.0 274.0 453.5 274.0 437.0 275.5 430.0ZM282.5 395.0 273.0 395.5 265.0 398.5 260.0 404.0 258.5 409.0 258.5 420.0 261.0 427.5 262.5 429.5 264.5 426.0 266.0 416.0 270.0 403.5 272.0 403.5 267.5 419.0 268.0 435.0 266.5 453.5 268.5 471.0 273.0 482.5 271.0 482.5 266.0 469.0 263.5 442.0 262.0 440.5 259.5 446.0 259.5 458.5 262.5 480.0 266.5 488.5 270.0 491.0 280.5 490.0 288.0 486.5 293.5 482.5 299.5 476.5 304.0 470.0 308.5 461.0 311.5 450.0 311.5 431.5 307.5 418.0 304.0 411.0 299.0 404.0 294.0 399.5 289.0 397.0ZM102.0 315.0 102.0 398.0 103.5 398.0 106.0 400.5 115.0 417.5 126.0 433.5 135.0 442.5 144.5 449.0 161.5 456.0 175.0 459.0 185.0 460.0 197.5 460.0 204.5 459.0 214.0 455.5 224.0 447.0 230.0 446.5 231.0 445.5 231.5 443.0 231.0 440.5 227.5 437.0 221.5 428.0 215.0 420.5 208.0 408.0 202.0 384.5 201.5 371.5 205.0 347.5 211.5 325.0 211.5 318.0 210.0 315.5Z"/>
<path fill-rule="evenodd" fill="#97e300" d="M277.5 426.5 278.5 426.5 280.0 428.0 281.0 431.0 282.5 442.0 281.5 459.0 280.5 462.5 278.5 465.5 276.5 464.5 275.0 461.0 273.5 450.0 274.0 435.0 275.5 429.0ZM282.5 395.5 273.0 396.0 265.0 399.0 260.5 404.0 259.0 409.0 259.5 423.0 260.5 424.0 261.5 428.0 263.0 428.5 264.5 424.5 265.5 416.5 269.5 404.0 271.0 402.5 272.5 404.0 269.5 412.0 267.5 421.5 268.0 439.0 267.0 444.0 267.0 457.0 269.0 471.5 273.5 482.0 272.0 483.5 270.5 482.0 266.0 471.0 264.5 461.0 264.0 446.0 263.0 442.0 261.5 441.5 260.0 445.5 260.0 458.5 263.0 480.0 266.5 488.0 269.0 490.5 279.5 490.0 287.5 486.5 293.0 482.5 299.5 476.0 304.5 468.5 308.5 460.0 311.0 450.5 311.5 434.5 310.0 426.5 307.5 419.5 302.0 408.5 298.5 404.0 294.0 400.0 289.0 397.5ZM193.0 367.5 193.5 367.0 194.0 368.0 193.5 368.5ZM194.5 356.5 195.5 357.5 195.5 361.5 194.0 364.5 193.0 363.5 193.0 360.5 194.0 360.0 193.5 357.0ZM194.5 353.0 196.0 354.5 195.0 356.0 194.0 355.0ZM194.5 350.0 195.0 349.5 196.0 351.0 195.5 351.5ZM102.0 315.0 102.0 397.0 104.0 397.5 106.5 400.0 116.5 418.5 127.5 434.0 138.0 444.0 152.0 452.0 165.0 456.5 179.0 459.0 197.5 459.5 206.0 458.0 214.5 454.5 223.5 446.5 230.0 446.0 231.0 443.5 230.5 440.5 227.0 437.0 220.5 427.5 214.0 420.0 206.5 406.5 201.5 385.0 201.0 372.5 204.5 347.0 209.5 330.0 211.0 321.5 211.0 318.5 209.5 315.5Z"/>
<path fill-rule="evenodd" fill="#b3eb00" d="M181.0 452.5 182.0 451.5 183.0 452.0 182.0 453.0ZM177.5 452.0 178.5 451.0 179.5 451.5 178.5 452.5ZM170.5 450.5 172.5 449.5 173.0 450.5 177.0 450.5 177.5 451.5 176.5 452.5 172.5 451.5 171.5 452.0ZM168.5 450.0 169.5 449.5 170.0 450.5 169.0 451.0ZM167.0 449.5 167.5 449.0 168.0 450.0 167.5 450.5ZM277.5 425.5 278.5 425.5 280.5 428.5 282.5 438.5 282.0 457.5 280.5 463.5 278.5 466.5 277.5 466.5 275.5 463.5 273.5 453.5 273.5 436.5 275.0 429.5ZM281.5 395.5 271.5 396.5 265.0 399.5 260.5 405.0 259.0 412.0 259.5 421.5 261.0 426.0 262.5 428.0 264.0 425.5 265.5 415.5 269.0 404.5 270.5 402.5 272.5 403.5 268.0 419.5 267.5 460.5 269.0 470.5 273.5 481.0 273.5 482.5 272.5 483.5 270.5 482.5 266.0 472.0 264.5 464.0 264.0 449.0 263.0 443.0 262.0 442.0 261.0 443.0 260.0 447.5 261.5 468.0 263.5 480.0 266.5 487.5 269.5 490.5 275.5 490.5 282.0 489.0 289.5 485.0 297.5 478.0 303.0 470.5 308.0 460.5 311.0 448.5 311.0 432.5 306.5 418.0 303.5 412.0 296.0 402.0 288.0 397.5ZM198.0 334.0 199.0 335.0 197.5 343.5 198.0 344.5 196.5 353.0 196.0 363.0 195.0 366.5 195.0 373.0 193.5 377.0 192.0 374.5 193.0 366.5 192.5 360.5 193.5 360.0 193.0 357.0 194.0 356.5 197.0 334.5ZM197.5 333.5 198.0 332.0 199.0 333.0 198.0 334.0ZM102.0 315.0 102.0 396.5 104.5 397.0 107.0 399.5 119.5 422.0 129.0 434.5 140.0 444.5 153.5 452.0 163.5 455.5 179.0 458.5 197.5 459.0 206.0 457.5 211.5 455.5 215.5 453.0 223.5 445.5 229.5 445.0 230.5 442.5 230.0 440.5 225.5 436.0 221.5 429.5 214.5 421.5 207.0 409.0 204.5 402.0 201.0 385.0 201.0 367.5 204.5 344.5 209.5 326.0 209.5 316.5 208.0 315.0 203.0 315.0 200.5 316.5 198.5 315.0Z"/>
<path fill-rule="evenodd" fill="#d0f200" d="M158.0 448.0 159.5 447.0 161.5 447.0 170.5 449.5 172.5 449.0 179.5 451.0 182.5 451.0 183.0 452.0 187.0 451.5 187.5 452.5 192.5 452.0 203.5 453.0 200.0 454.5 194.5 455.0 180.5 454.5 166.5 452.0 160.0 449.5ZM225.5 441.5 226.0 441.0 226.5 442.0 226.0 442.5ZM220.0 436.0 221.5 435.5 226.0 440.0 226.0 441.0 224.0 441.0ZM278.0 424.5 279.5 425.5 281.5 430.5 283.0 442.5 282.0 459.0 279.5 466.5 278.0 467.5 276.5 466.5 274.5 461.5 273.0 449.5 273.5 434.5 275.0 428.5 276.5 425.5ZM206.0 419.5 211.0 425.0 211.0 427.0 208.0 424.5 208.5 424.0 205.5 420.5ZM203.0 415.0 203.0 417.0 202.0 416.0ZM282.0 396.0 271.0 397.0 265.5 399.5 261.0 404.5 259.5 409.5 260.0 422.5 261.0 423.5 261.5 426.5 262.5 427.0 263.5 426.0 265.0 416.5 269.0 403.5 270.5 402.0 271.5 402.0 273.0 403.5 269.5 414.0 268.0 421.5 268.5 438.5 267.5 444.0 267.5 456.5 269.0 469.5 274.0 482.5 272.0 484.0 271.0 483.5 267.0 475.5 264.5 466.0 263.0 444.0 262.5 443.0 261.5 443.0 260.5 447.0 260.5 457.5 263.5 479.0 265.0 481.5 266.5 487.0 270.0 490.5 278.0 490.0 281.5 489.0 287.5 486.0 293.0 482.0 298.5 476.5 303.0 470.0 307.5 461.0 310.5 450.0 311.0 436.5 310.0 429.5 306.0 418.0 301.5 409.0 298.0 404.5 293.5 400.5 288.5 398.0ZM199.0 330.5 200.0 331.5 200.0 335.5 196.0 365.0 195.0 382.0 194.0 383.5 193.0 382.5 192.0 379.0 192.0 360.0 195.0 340.0 196.0 339.0 195.5 337.0 196.5 336.0 197.0 332.0ZM102.0 315.0 102.0 396.0 103.5 396.0 107.0 398.5 118.0 418.5 128.0 432.0 137.0 441.0 146.0 447.5 155.0 452.0 162.0 454.5 179.5 458.0 196.5 458.5 205.5 457.0 213.5 453.5 219.5 447.5 225.0 444.0 226.5 442.0 227.5 443.0 229.0 443.0 229.5 441.0 225.0 437.0 220.0 428.5 213.5 421.0 209.0 414.0 204.0 402.5 201.0 388.5 200.0 378.5 200.5 368.0 204.0 344.0 209.0 324.0 209.5 318.5 208.5 316.0 207.0 315.0 204.5 315.0 201.5 317.0 200.0 317.0 198.0 315.0Z"/>
<path fill-rule="evenodd" fill="#edf900" d="M148.0 446.5 150.5 448.5 160.0 453.0 166.5 455.0 177.5 457.0 199.0 457.5 205.5 456.0 209.0 454.0 198.5 456.0 179.5 455.5 164.0 452.5ZM277.5 424.0 278.5 424.0 281.0 427.5 283.0 438.5 282.5 457.5 280.5 465.5 278.5 468.0 277.5 468.0 275.5 465.5 273.0 453.5 273.0 436.0 275.0 427.5ZM200.0 408.0 207.0 419.0 214.0 427.5 213.0 429.0 209.0 427.0 205.5 423.0 204.5 419.5 202.0 417.0 202.0 415.5 199.5 411.5 199.0 409.0ZM282.0 396.5 271.0 397.5 265.5 400.0 261.5 404.5 260.0 409.5 260.0 420.5 261.0 424.5 262.5 426.5 264.0 423.0 265.5 413.5 269.0 403.0 270.0 402.0 272.0 402.0 273.0 403.0 273.0 405.0 269.5 414.5 268.5 419.5 268.0 460.5 269.5 470.5 273.5 479.5 274.0 482.5 272.5 484.0 270.5 483.5 266.5 475.0 264.0 464.5 263.0 445.5 262.5 444.0 261.5 444.0 261.0 445.0 261.0 457.5 264.0 479.5 265.5 482.0 267.0 487.5 269.5 490.0 276.5 490.0 283.5 488.0 289.5 484.5 296.5 478.5 302.5 470.5 307.0 461.5 310.5 448.5 310.5 433.0 307.0 421.0 301.0 409.0 297.5 404.5 293.5 401.0 288.5 398.5ZM200.5 328.5 201.0 334.5 196.5 367.0 196.0 387.5 195.0 389.0 193.5 387.5 193.0 384.5 192.0 383.5 192.0 378.0 191.0 373.5 191.5 360.0 196.0 332.0 198.5 329.0ZM102.0 315.0 102.0 395.0 105.0 396.0 108.0 399.0 118.0 417.5 123.5 425.5 129.5 432.5 137.5 439.5 144.5 443.5 150.5 444.5 151.5 444.0 153.5 445.0 154.5 444.5 160.5 447.0 161.5 446.5 164.5 447.5 168.5 447.5 183.5 450.5 202.5 451.5 209.5 450.5 211.5 451.0 212.0 450.0 216.0 449.0 223.5 444.0 223.5 442.0 220.5 439.0 219.0 436.0 219.5 435.5 218.5 434.5 218.5 433.0 220.0 432.0 219.5 429.5 211.0 418.5 205.0 407.5 202.5 399.5 200.0 386.0 200.0 367.0 203.5 343.0 208.0 324.0 208.0 316.5 205.5 315.5 203.5 316.5 202.5 318.0 199.5 317.5 197.5 315.0Z"/>
<path fill-rule="evenodd" fill="#f4ef00" d="M277.5 423.0 278.5 423.0 280.0 424.5 281.5 428.0 283.5 442.0 282.5 459.5 281.0 465.5 278.5 469.0 277.5 469.0 276.0 467.5 274.5 464.0 272.5 450.0 273.0 434.0 275.0 426.5ZM281.5 397.0 271.5 398.0 266.0 400.5 262.0 405.0 260.5 410.0 260.5 423.0 262.5 425.5 264.0 421.5 265.5 413.0 269.0 402.5 271.5 401.5 273.5 404.0 270.5 412.0 268.5 421.0 269.0 438.5 268.0 443.5 268.0 457.0 269.5 469.5 274.5 482.0 273.0 484.0 271.0 484.0 269.5 482.5 265.5 473.0 263.5 463.5 262.5 445.5 261.5 445.0 261.0 446.0 262.5 467.0 264.5 479.0 266.5 483.0 267.0 487.0 269.5 490.0 275.5 490.0 282.0 488.5 292.5 482.0 300.0 474.0 304.0 467.5 307.5 460.0 310.0 450.0 310.0 432.0 308.5 426.0 304.5 416.0 301.0 409.5 295.0 403.0 288.0 399.0ZM205.5 317.0 203.0 321.5 203.5 324.5 198.5 359.0 197.0 375.0 197.5 389.0 199.0 398.0 202.0 407.5 208.5 419.0 214.0 425.0 206.0 412.0 203.5 406.5 200.0 393.0 198.5 380.5 199.0 367.5 201.0 351.5 207.0 320.5 207.0 317.5ZM102.0 315.0 102.0 394.5 106.0 396.0 107.5 397.5 116.5 414.0 125.5 427.0 133.5 435.0 139.5 439.0 152.5 444.0 163.0 446.5 188.5 450.5 205.0 450.5 215.5 448.0 221.5 444.5 222.5 442.5 219.0 438.0 218.5 435.0 216.5 431.5 213.0 429.0 208.0 427.0 205.5 424.0 203.5 419.5 201.0 417.0 199.0 410.0 197.0 406.5 195.5 396.5 193.5 389.0 192.5 388.0 192.5 384.5 190.5 374.5 191.0 359.5 195.5 331.5 200.0 326.0 202.0 321.5 201.0 319.5 197.0 316.0 197.0 315.0Z"/>
<path fill-rule="evenodd" fill="#f6e100" d="M277.5 422.0 278.5 422.0 281.0 425.5 283.5 438.0 283.0 458.0 281.0 466.5 278.5 470.0 277.5 470.0 276.0 468.5 274.5 465.0 273.0 458.0 272.0 445.5 272.0 438.5 273.0 432.0 275.0 425.5ZM281.5 397.0 271.5 398.0 266.0 400.5 262.0 405.0 260.5 410.0 260.5 422.0 262.5 424.5 268.5 403.0 270.0 401.5 272.0 401.5 273.5 403.0 273.5 405.0 269.5 416.5 268.5 424.0 268.5 460.5 270.0 470.5 274.0 479.5 274.5 482.5 272.5 484.5 270.5 484.0 265.5 474.0 263.0 463.0 263.0 453.5 261.5 446.5 261.5 457.5 264.5 479.0 266.0 481.5 267.5 487.5 270.0 490.0 278.0 489.5 281.5 488.5 289.0 484.5 296.5 478.0 302.0 470.5 305.5 464.0 310.0 449.5 310.0 433.0 305.5 418.5 300.5 409.5 295.0 403.0 288.0 399.0ZM102.0 315.0 102.0 394.0 105.5 395.0 108.5 398.0 118.0 415.5 123.5 423.5 129.5 430.5 135.5 435.5 146.0 441.0 161.5 445.5 173.5 447.0 181.0 449.0 205.0 449.5 214.5 447.5 220.5 444.5 221.5 442.5 218.0 437.0 217.0 433.0 214.5 430.5 208.0 427.5 204.5 423.5 203.0 420.0 200.0 416.0 195.0 401.0 193.0 389.0 191.0 383.0 190.0 375.5 190.0 366.0 194.5 332.5 198.0 327.0 200.0 322.0 200.0 320.0 196.5 316.5 196.5 315.0Z"/>
<path fill-rule="evenodd" fill="#f9d300" d="M277.5 421.0 278.5 421.0 281.0 424.5 283.0 432.0 284.0 440.0 284.0 452.0 283.0 460.0 281.0 467.5 278.5 471.0 277.5 471.0 276.0 469.5 273.5 462.5 271.5 441.5 272.0 434.5 274.0 427.0 276.0 422.5ZM281.5 397.0 271.5 398.0 266.0 400.5 262.0 405.0 260.5 410.0 260.5 420.0 261.0 422.5 262.5 423.5 268.5 402.5 270.0 401.0 271.5 401.0 273.5 402.5 273.5 405.5 270.5 413.5 269.0 420.5 269.5 440.0 268.5 444.5 268.5 457.0 270.0 469.5 275.0 482.0 273.0 484.5 271.0 484.5 269.0 482.5 265.5 474.0 264.5 473.0 264.0 474.5 264.5 479.0 266.0 481.5 267.5 487.0 270.5 490.0 279.5 489.0 284.5 487.0 292.0 482.0 298.0 476.0 303.0 468.5 307.0 460.0 310.0 447.5 310.0 435.0 309.0 429.5 306.5 422.0 300.5 409.5 297.0 405.0 293.0 401.5 288.0 399.0ZM102.0 315.0 102.0 393.5 105.0 394.0 108.5 397.0 118.0 414.5 127.5 427.5 137.0 435.5 148.5 441.0 160.5 444.5 180.0 448.0 189.0 449.0 203.0 449.0 213.0 447.0 220.5 443.5 215.5 432.0 207.5 428.0 200.5 418.5 196.0 407.0 192.5 389.5 190.5 384.0 189.0 372.0 190.5 353.0 194.0 332.0 199.0 322.0 199.0 320.5 196.0 317.0 195.5 315.0Z"/>
<path fill-rule="evenodd" fill="#fbc500" d="M277.5 420.0 278.5 420.0 280.0 421.5 282.0 426.0 283.5 432.5 284.5 442.5 283.0 462.0 281.5 467.5 278.5 472.0 277.5 472.0 276.0 470.5 274.0 466.0 272.0 456.0 271.0 436.0 274.5 424.5ZM281.5 397.5 271.5 398.5 266.0 401.0 262.5 405.0 261.0 410.0 261.0 421.0 262.5 422.5 268.0 402.5 269.5 401.0 272.0 401.0 274.0 403.0 274.0 405.0 270.0 416.5 269.0 423.5 270.5 435.5 269.0 443.5 269.0 460.5 270.5 470.5 274.5 479.5 275.0 482.5 273.0 484.5 270.5 484.5 269.0 483.0 265.5 475.0 264.5 475.0 265.0 479.0 266.5 481.5 268.0 488.0 269.5 489.5 276.0 489.5 282.0 488.0 288.5 484.5 293.0 481.0 299.0 474.5 302.5 469.0 307.0 459.5 309.5 450.0 310.0 437.5 309.0 430.0 305.0 418.5 300.5 409.5 297.0 405.0 293.0 401.5ZM102.0 315.0 102.0 393.0 104.5 393.0 108.5 396.0 120.0 416.5 128.0 427.0 136.0 434.0 144.5 438.5 152.0 441.5 164.0 444.5 181.5 447.5 204.5 448.0 213.5 446.0 219.0 443.5 219.0 441.5 217.5 439.5 217.0 436.0 215.0 432.0 206.5 428.0 203.0 424.0 198.0 415.0 195.5 407.5 192.5 392.5 189.5 382.5 188.5 374.5 189.5 355.5 193.5 330.5 198.0 322.5 198.0 320.5 195.0 317.0 195.0 315.0Z"/>
<path fill-rule="evenodd" fill="#feb700" d="M269.0 400.5 266.5 401.0 262.0 406.5 261.0 410.5 261.0 417.5 262.0 421.5 263.0 420.5 264.5 413.0 267.5 405.0 268.0 401.5ZM281.0 397.5 272.0 398.5 270.0 400.0 272.0 400.5 274.0 402.5 274.0 405.5 271.0 413.5 269.5 420.5 270.0 431.5 271.0 433.0 275.5 421.0 277.5 419.0 278.5 419.0 281.5 423.0 284.5 437.0 284.0 458.5 281.5 469.0 278.5 473.0 277.5 473.0 275.5 471.0 273.5 466.0 271.5 455.5 270.5 442.5 269.5 444.0 269.0 453.5 270.0 466.5 271.5 472.5 275.0 480.0 275.0 483.0 273.5 484.5 271.5 485.0 268.5 483.0 266.5 478.0 265.5 477.5 267.5 482.5 267.0 483.5 268.0 487.5 270.0 489.5 275.0 489.5 281.5 488.0 291.5 482.0 298.0 475.5 303.5 467.0 306.5 460.5 309.5 449.0 309.5 433.5 303.5 415.5 294.5 403.5 287.5 399.5ZM102.0 315.0 102.0 392.0 105.5 392.5 109.5 396.0 117.5 411.0 125.5 423.0 134.0 431.5 141.0 436.0 149.0 439.5 163.0 443.5 185.0 447.0 204.5 447.0 213.5 445.0 218.0 443.0 216.5 439.5 216.5 436.0 215.5 433.5 213.5 431.5 206.0 428.5 203.0 425.5 198.0 417.0 194.0 405.0 193.0 398.0 188.5 381.5 187.5 368.5 189.5 348.5 192.5 331.0 197.0 322.5 197.0 321.0 195.0 318.5 194.0 315.0Z"/>
<path fill-rule="evenodd" fill="#fea900" d="M267.5 402.0 266.0 402.0 264.0 404.0 262.0 408.0 262.0 419.5 263.0 418.5ZM281.0 398.0 277.5 398.0 272.0 399.5 274.5 403.0 274.5 405.0 270.0 419.0 270.0 428.5 270.5 430.0 271.5 430.0 274.0 423.0 277.5 418.0 278.5 418.0 280.5 420.0 282.5 424.5 284.5 433.5 285.0 454.5 282.0 469.0 280.5 472.0 278.5 474.0 277.5 474.0 275.0 471.5 273.0 466.0 270.0 447.5 270.5 467.5 272.0 473.0 275.5 480.5 275.0 483.5 273.0 485.0 270.5 485.0 268.0 483.5 267.5 486.0 270.0 489.5 277.5 489.0 282.5 487.5 288.0 484.5 296.5 477.0 300.0 472.5 305.0 463.5 308.0 455.5 309.5 447.5 309.0 432.5 308.0 427.5 304.0 417.0 299.5 409.5 294.0 403.5 287.5 400.0ZM102.0 315.0 102.0 390.5 107.0 392.0 110.5 395.5 122.0 416.5 128.5 425.0 135.5 431.5 139.5 434.0 149.0 438.5 163.0 442.5 189.0 446.0 203.5 446.0 212.5 444.0 216.0 442.5 215.5 435.0 214.5 433.0 210.5 430.5 204.5 429.0 201.5 425.5 197.0 417.5 194.0 408.5 192.0 398.0 187.5 382.0 186.0 370.5 187.0 365.0 187.0 356.5 191.5 329.5 195.5 323.0 195.5 321.5 193.0 318.0 192.5 315.0Z"/>
<path fill-rule="evenodd" fill="#fc9900" d="M267.0 403.0 265.5 403.0 262.5 408.0 262.5 417.0ZM281.0 398.5 274.5 399.0 273.0 400.0 274.5 402.5 274.5 406.0 270.5 418.0 270.0 425.0 270.5 427.5 271.5 428.0 275.5 418.5 277.5 416.5 278.5 416.5 280.5 418.5 282.5 422.5 285.0 433.0 286.0 445.0 285.5 455.0 284.0 464.0 282.0 470.5 278.5 475.5 277.5 475.5 275.0 473.0 271.0 460.0 270.5 460.5 271.5 470.0 276.0 481.0 275.5 483.0 273.5 485.0 268.5 484.5 268.5 488.0 271.0 489.5 282.0 487.5 288.5 484.0 294.5 479.0 300.5 471.5 305.5 462.0 308.5 452.5 309.5 445.5 309.5 437.5 308.0 427.5 304.5 418.5 299.5 410.0 292.0 402.5ZM102.0 315.0 102.0 388.5 106.0 389.0 111.0 392.5 115.0 398.5 121.0 412.0 128.0 422.5 135.5 430.0 145.0 435.5 156.0 439.5 167.0 441.5 195.5 444.0 206.0 444.0 213.0 442.0 215.0 436.0 214.0 433.5 210.0 431.0 202.5 430.0 200.0 427.5 196.0 420.0 185.0 378.0 184.0 372.0 184.0 360.0 189.0 328.5 193.0 322.5 190.5 319.0 190.0 315.0Z"/>
<path fill-rule="evenodd" fill="#fb8a00" d="M197.5 436.5 197.5 439.5 199.0 441.0 201.5 442.0 206.0 442.0 211.5 440.0 213.5 437.0 213.5 434.5 210.0 432.0 204.5 432.0 200.5 433.5ZM266.0 404.0 263.0 408.0 263.0 414.0 266.0 406.5ZM281.0 399.0 275.0 399.5 274.0 400.5 275.0 402.5 275.0 405.5 272.0 413.5 270.5 423.0 271.5 425.5 275.0 417.5 277.5 415.0 278.5 415.0 281.0 417.5 282.5 420.5 286.0 435.5 286.0 456.5 284.5 465.0 281.0 474.5 278.5 477.0 277.5 477.0 274.5 474.5 273.0 471.0 276.5 481.5 274.0 485.0 268.5 485.0 268.5 487.5 270.0 489.0 275.5 489.0 280.5 488.0 289.5 483.0 297.0 476.0 301.5 469.5 306.0 460.5 309.0 449.0 309.0 432.5 303.5 417.0 297.5 408.0 293.0 403.5 288.0 401.0ZM179.0 380.0 174.5 378.5 167.5 379.0 159.0 381.0 152.5 383.5 139.5 391.0 129.0 400.5 125.5 406.5 125.5 412.0 127.0 416.5 129.5 420.5 137.0 428.5 144.5 433.0 152.5 436.0 161.5 437.5 167.5 437.5 172.5 436.5 179.5 433.5 187.5 427.0 190.0 423.0 191.0 419.0 189.5 404.5 188.0 397.5 184.0 386.5Z"/>
<path fill-rule="evenodd" fill="#f97a00" d="M265.0 406.5 264.0 407.5 264.0 409.5ZM281.0 399.5 275.0 400.5 275.5 405.0 272.0 415.5 271.5 421.0 272.0 421.5 274.0 417.0 277.0 413.5 279.0 413.5 281.0 415.5 283.0 419.5 285.5 427.5 287.0 437.0 287.0 455.0 285.5 464.5 282.5 474.0 281.0 476.5 277.0 479.5 277.0 481.5 275.0 484.5 273.5 485.5 268.5 485.5 268.5 487.0 270.0 489.0 278.0 488.5 282.5 487.0 288.0 484.0 295.5 477.5 301.0 470.0 304.5 463.5 307.5 455.5 309.0 448.0 309.0 434.0 306.5 424.5 303.0 416.5 299.0 410.5 293.5 404.5 290.0 402.5Z"/>
<path fill-rule="evenodd" fill="#f76a00" d="M281.5 400.5 277.5 400.5 276.0 401.5 276.0 405.5 274.0 413.0 277.0 411.0 279.0 411.0 282.5 415.0 285.5 422.5 288.0 436.5 287.5 459.5 285.5 469.5 282.0 478.0 274.5 485.0 272.0 486.0 269.0 485.5 269.0 487.5 270.5 489.0 281.0 487.5 286.0 485.0 291.0 481.5 297.0 475.5 305.0 462.0 308.5 450.0 309.0 435.5 307.5 428.0 303.0 417.0 298.5 410.5 293.0 404.5Z"/>
<path fill-rule="evenodd" fill="#f55b00" d="M290.0 403.5 285.0 403.5 279.5 402.0 277.5 403.5 278.0 406.0 282.0 409.0 285.5 415.5 289.0 430.5 290.0 448.5 289.0 461.5 287.0 472.5 285.5 476.0 279.5 482.0 273.0 486.0 269.0 486.0 269.0 487.5 270.0 488.5 275.5 488.5 280.5 487.5 286.5 484.5 292.0 480.5 296.0 476.5 301.0 469.5 305.0 461.5 308.0 452.0 309.0 437.5 307.0 427.0 303.0 417.0 294.5 406.5Z"/>
<path fill-rule="evenodd" fill="#f04e00" d="M290.0 404.0 287.0 404.5 285.5 406.0 285.0 408.0 287.5 413.0 293.5 420.5 297.0 429.0 299.0 439.0 298.5 452.0 295.0 462.5 287.5 475.5 280.0 482.5 274.0 486.0 269.5 486.0 270.0 488.5 280.0 487.5 290.5 481.5 297.0 475.0 300.5 470.0 305.5 460.0 307.5 453.5 309.0 439.5 308.0 431.5 305.0 422.0 303.0 417.5 293.5 406.0Z"/>
<path fill-rule="evenodd" fill="#eb4200" d="M290.0 404.5 287.0 405.5 286.5 409.5 294.0 419.0 298.5 429.5 300.5 440.5 300.0 451.5 296.5 462.0 293.0 469.0 288.5 475.5 280.0 483.0 273.5 486.5 269.5 486.5 269.5 487.5 271.0 488.5 282.0 486.5 291.5 480.5 296.0 476.0 300.0 470.5 304.0 463.0 307.5 452.5 308.5 445.0 308.5 436.0 306.0 425.0 303.0 417.5 298.0 411.5 291.5 405.0Z"/>
<path fill-rule="evenodd" fill="#e53500" d="M290.0 405.0 287.5 406.0 287.0 409.0 296.0 421.0 300.0 432.5 301.0 438.5 300.5 452.5 295.5 466.0 288.5 476.5 279.5 484.0 273.0 487.0 270.0 487.0 270.5 488.0 274.5 488.0 281.5 486.5 290.5 481.0 297.0 474.5 301.5 467.5 305.5 459.0 307.5 451.5 308.5 437.5 307.5 431.0 303.0 418.0 291.5 405.5Z"/>
<path fill-rule="evenodd" fill="#e02900" d="M290.0 405.5 288.0 406.5 287.5 408.5 295.5 419.0 299.5 428.5 301.5 438.0 301.5 450.0 297.5 463.0 291.5 473.5 282.0 483.0 275.0 486.5 274.5 487.5 280.5 486.5 285.0 484.5 291.5 480.0 295.0 476.5 301.0 468.0 305.5 458.5 307.5 451.5 308.5 439.0 307.5 431.5 305.5 424.5 302.5 417.5 292.0 406.5Z"/>
<path fill-rule="evenodd" fill="#db1c00" d="M291.0 406.5 289.0 406.5 288.5 409.0 295.5 418.0 300.0 428.5 302.0 438.5 302.0 450.5 298.5 462.0 294.5 470.0 289.0 477.5 279.0 486.0 282.0 485.5 287.0 483.0 296.0 475.0 304.0 461.5 307.5 449.5 308.0 436.0 306.5 428.0 302.5 417.5 300.0 416.0Z"/>
<path fill-rule="evenodd" fill="#d50f00" d="M290.5 408.0 290.0 409.0 296.5 418.5 300.5 428.5 302.5 439.0 302.5 450.5 300.0 459.5 295.5 469.5 291.5 475.5 284.0 483.5 287.0 482.5 290.5 480.0 299.0 470.5 305.0 458.5 307.5 447.5 307.5 433.5 303.5 420.0 301.5 417.0 300.0 416.5 293.0 409.5Z"/>
<path fill-rule="evenodd" fill="#d00d08" d="M295.5 413.5 295.0 414.5 299.5 424.0 301.5 431.0 303.5 446.0 302.5 453.5 299.5 462.5 296.0 470.0 290.0 479.0 295.5 474.5 300.0 468.0 303.5 461.0 306.5 451.5 307.0 443.5 308.0 441.0 307.0 431.5 302.5 418.0 299.0 416.5Z"/>
<path fill-rule="evenodd" fill="#cb0f13" d="M300.5 417.0 298.5 417.0 298.0 419.5 301.5 429.5 303.0 441.0 304.0 443.0 304.0 449.5 302.5 456.5 298.5 468.0 300.5 465.5 304.5 457.0 306.5 448.5 306.5 443.5 307.5 441.5 307.5 436.0 306.0 428.0 303.0 419.5Z"/>
<path fill-rule="evenodd" fill="#c6101e" d="M299.5 417.5 298.5 419.5 301.5 428.0 303.5 441.5 305.5 443.5 307.5 441.0 306.0 428.5 302.0 418.0Z"/>
<path fill-rule="evenodd" fill="#c21129" d="M300.0 417.5 299.0 419.5 302.0 429.0 303.5 440.5 305.0 442.5 306.0 442.5 307.5 440.5 306.0 429.0 302.0 418.0Z"/>
<path fill-rule="evenodd" fill="#bd1334" d="M300.0 418.0 299.5 420.0 302.5 430.0 304.0 441.0 306.0 442.0 307.0 441.0 306.0 430.0 302.5 419.5 301.5 418.0Z"/>
<path fill-rule="evenodd" fill="#bb1842" d="M300.5 418.0 300.0 420.5 302.5 429.0 304.0 440.5 305.0 441.5 306.5 441.5 307.0 438.0 305.5 428.5 302.5 420.0Z"/>
<path fill-rule="evenodd" fill="#c32459" d="M300.0 419.0 303.5 433.0 304.5 441.0 306.0 441.5 307.0 440.0 305.5 429.0 301.5 418.5Z"/>
<path fill-rule="evenodd" fill="#cb3170" d="M301.0 418.5 300.5 420.0 303.5 432.0 304.5 440.5 306.0 441.0 306.5 437.0 305.5 430.0 303.5 423.5Z"/>
<path fill-rule="evenodd" fill="#d33e87" d="M301.0 419.5 304.0 433.5 304.5 439.5 305.5 441.0 306.5 440.0 305.5 430.5 303.5 424.0Z"/>
<path fill-rule="evenodd" fill="#db4b9e" d="M302.0 422.0 305.0 440.0 306.0 440.5 305.0 429.0Z"/>
<path fill-rule="evenodd" fill="#e258b5" d="M303.0 425.0 305.5 440.0 305.0 430.5Z"/>
<path fill-rule="evenodd" fill="#ea65cb" d="M303.5 427.5 304.5 433.0 304.5 429.0Z"/>
</g></g>
<circle cx="230.0" cy="442.6" r="73.5" fill="none" stroke="#14142a" stroke-width="0.6"/>
<circle cx="230.0" cy="442.6" r="5.6" fill="#f2ea2a" stroke="#050510" stroke-width="3"/>
<circle cx="160.4" cy="425.1" r="3.8" fill="#e07868" stroke="#050510" stroke-width="2"/>
<circle cx="160.0" cy="467.0" r="3.8" fill="#7470d8" stroke="#050510" stroke-width="2"/>
<circle cx="304.2" cy="442.5" r="3.8" fill="#84dc78" stroke="#050510" stroke-width="2"/>
<g clip-path="url(#cw1)"><g filter="url(#bl)">
<path fill-rule="evenodd" fill="#5846a0" d="M258.0 50.0 258.0 304.5 512.5 304.5 512.5 50.0Z"/>
<path fill-rule="evenodd" fill="#5445a5" d="M258.0 50.0 258.0 304.5 512.5 304.5 512.5 50.0Z"/>
<path fill-rule="evenodd" fill="#4e44ad" d="M258.0 50.0 258.0 304.5 512.5 304.5 512.5 50.0Z"/>
<path fill-rule="evenodd" fill="#4943b3" d="M436.0 149.0 437.5 151.0 440.0 157.5 444.5 163.5 445.0 178.0 443.0 197.5 440.5 210.5 436.0 222.5 434.5 224.0 431.5 224.0 423.5 220.5 419.5 215.0 413.5 200.0 412.0 188.0 417.0 185.0 418.5 182.5 418.5 169.0 427.0 160.5 434.0 150.5ZM258.0 50.0 258.0 304.5 512.5 304.5 512.5 50.0Z"/>
<path fill-rule="evenodd" fill="#4442b7" d="M433.5 141.0 435.5 141.5 438.5 144.5 440.0 151.0 442.0 155.5 450.5 162.5 452.5 167.0 451.5 181.5 448.5 194.5 446.0 213.5 444.0 222.5 441.5 227.5 439.0 230.0 435.0 231.5 429.0 231.0 424.5 229.5 417.5 225.0 413.0 218.5 408.0 207.0 404.5 191.0 405.0 186.5 408.5 185.5 413.5 185.5 417.0 183.0 417.5 178.5 415.0 170.0 415.5 165.5 427.0 153.5 430.0 148.5 432.0 142.5ZM258.0 50.0 258.0 304.5 512.5 304.5 512.5 50.0Z"/>
<path fill-rule="evenodd" fill="#4140bb" d="M431.0 138.5 434.0 139.0 438.5 143.0 442.5 154.5 451.0 161.5 455.5 168.0 455.5 174.0 450.5 194.5 446.5 223.5 443.5 230.0 440.5 233.0 436.5 234.5 430.5 234.5 423.0 232.5 419.0 230.5 414.5 226.5 410.0 220.0 405.0 208.0 404.0 203.0 403.0 202.0 401.0 191.5 401.0 187.0 402.0 186.0 407.0 185.0 414.0 185.0 416.5 183.0 417.0 178.5 414.5 170.5 414.0 165.5 415.0 163.0 425.5 152.5 428.5 147.0ZM464.5 76.0 471.0 80.0 479.5 87.5 487.5 97.0 490.0 101.5 490.0 105.0 487.0 109.0 484.0 110.0 481.0 109.5 475.0 107.0 472.5 104.5 468.0 95.0 464.0 83.0 463.0 77.5ZM444.5 69.5 447.0 69.5 448.0 71.5 446.0 72.5ZM258.0 50.0 258.0 304.5 512.5 304.5 512.5 50.0Z"/>
<path fill-rule="evenodd" fill="#3f40c0" d="M430.0 136.5 432.5 137.0 438.0 141.5 440.0 144.5 441.5 151.5 443.5 155.0 450.5 160.0 457.5 169.5 455.5 181.5 453.5 187.0 450.5 200.5 447.5 226.0 442.5 233.5 437.0 236.0 430.0 236.0 422.5 234.0 418.5 232.0 413.0 227.0 408.5 220.5 403.5 209.0 402.5 203.5 401.5 202.5 401.0 198.0 400.0 196.5 400.0 193.0 399.0 191.5 399.0 186.5 400.5 185.5 411.5 185.0 416.0 183.5 417.0 179.5 414.0 170.5 414.0 162.5 423.5 153.5 425.5 150.5 428.5 143.5 429.0 137.5ZM445.0 81.0 446.0 80.5 446.5 81.5 445.5 82.0ZM440.0 66.0 442.5 64.5 451.0 65.5 456.0 67.5 457.5 69.0 458.5 68.5 464.0 70.5 473.5 76.5 485.5 87.5 492.0 96.0 494.5 102.0 494.0 106.5 492.5 109.0 489.0 112.5 485.0 114.0 480.0 113.5 475.5 112.0 472.5 108.5 469.0 101.5 459.5 73.0 456.5 70.5 454.0 70.5 450.5 72.0 447.0 76.0 446.5 79.0 445.0 80.5 441.5 75.5 440.0 70.0ZM258.0 50.0 258.0 304.5 512.5 304.5 512.5 50.0Z"/>
<path fill-rule="evenodd" fill="#3e40c9" d="M427.0 134.0 431.5 135.5 438.5 141.5 441.0 146.0 441.5 150.0 443.0 153.5 446.0 156.5 448.5 157.5 453.0 163.5 458.0 168.5 458.0 177.0 454.0 189.0 451.5 199.5 449.5 217.5 450.0 219.5 449.0 221.5 448.0 229.0 444.0 235.0 437.5 238.0 429.5 238.0 422.0 236.0 417.0 233.5 411.5 228.5 405.5 219.5 399.5 203.5 399.5 201.5 397.5 196.5 397.5 194.0 396.0 190.5 396.0 186.5 397.0 185.5 414.0 184.5 416.0 183.0 416.5 178.5 414.5 174.5 414.5 171.5 413.0 166.0 413.5 162.0 422.0 154.0 426.5 146.5 427.5 143.0 427.5 137.5 426.5 135.0ZM415.5 129.0 416.5 127.5 418.5 127.5 421.5 129.0 423.0 131.5 419.0 131.5ZM437.5 64.0 441.5 61.5 454.0 63.0 469.0 69.5 475.5 74.0 488.0 85.5 494.5 94.0 497.5 101.0 497.5 105.5 495.0 111.0 491.0 115.0 488.5 116.0 481.5 116.5 476.0 115.0 472.5 111.0 469.0 103.5 459.5 75.5 456.0 72.0 451.5 72.5 449.5 74.0 448.0 76.5 448.0 80.0 451.5 91.5 451.0 94.0 452.0 94.5 450.0 96.5 445.0 90.0 438.5 76.5 437.0 71.0ZM258.0 50.0 258.0 304.5 512.5 304.5 512.5 50.0Z"/>
<path fill-rule="evenodd" fill="#3e40d2" d="M258.0 50.0 258.0 304.5 512.5 304.5 512.5 119.0 506.5 118.0 500.0 118.0 490.0 119.0 486.0 118.5 477.5 120.0 474.0 116.5 468.5 104.0 459.0 76.0 457.0 73.5 454.5 72.5 451.0 73.5 448.5 77.5 455.0 102.0 455.0 106.5 453.0 110.5 453.0 114.5 454.0 116.5 453.5 124.5 438.0 110.0 419.5 100.0 411.5 100.0 407.0 103.0 405.5 105.0 404.0 109.0 404.0 112.5 407.0 118.5 419.5 126.0 427.5 132.5 432.5 135.5 439.0 141.5 441.0 145.0 443.0 153.0 446.0 156.0 448.5 157.0 451.5 160.0 453.5 163.5 457.5 166.5 458.5 171.0 458.5 179.5 455.0 188.5 451.5 204.5 450.5 225.0 449.0 231.5 447.5 234.5 444.0 238.0 439.5 240.0 429.5 240.5 424.5 239.5 414.0 234.5 407.5 227.5 404.5 223.0 402.0 216.5 400.0 213.5 397.0 204.0 392.5 194.5 386.0 185.0 387.0 184.0 389.0 185.0 413.5 184.5 415.5 183.5 416.5 181.5 416.5 179.0 415.0 176.5 413.0 168.5 413.0 162.0 413.5 160.5 421.0 154.0 425.0 148.0 426.5 143.5 426.5 139.0 425.0 136.0 421.5 134.0 417.5 134.0 412.0 136.0 406.0 140.5 402.0 144.5 396.5 153.0 396.0 156.5 398.0 160.0 397.5 162.0 388.5 169.5 386.0 173.5 380.5 178.5 377.0 175.5 366.0 161.5 352.5 137.5 347.5 127.5 347.5 124.5 345.0 126.0 344.5 124.0 343.5 125.0 343.0 124.5 343.5 122.0 341.5 123.5 340.5 123.0 341.5 118.0 343.5 114.5 329.5 125.5 329.0 125.0 331.5 114.0 337.0 103.0 353.0 82.0 363.0 72.5 381.0 59.0 383.0 50.0Z"/>
<path fill-rule="evenodd" fill="#3e41da" d="M480.0 203.5 482.0 205.0 487.0 213.0 487.0 214.5 486.0 215.5 481.0 215.5 480.0 214.5 478.5 210.5 479.0 204.5ZM466.0 164.5 467.5 167.0 467.5 171.5 466.5 173.0 463.5 174.5 462.5 172.0 462.5 166.5ZM424.0 137.0 421.0 135.5 416.5 136.0 410.5 139.5 405.0 145.0 401.5 152.5 401.0 159.5 387.5 173.0 387.5 176.0 386.0 178.0 386.0 180.0 388.5 183.0 393.0 184.5 411.0 184.5 414.5 184.0 416.0 182.5 416.5 180.0 413.0 169.0 412.5 162.0 413.5 159.5 420.0 154.0 424.5 147.0 425.5 144.0 425.5 140.0ZM456.0 73.5 452.5 73.5 449.5 76.0 450.0 82.0 456.5 103.5 456.5 107.0 455.5 109.5 456.0 117.0 454.0 119.0 454.0 128.0 449.0 122.0 436.5 112.0 419.0 103.5 414.5 103.0 411.0 104.5 408.5 107.0 407.0 110.5 407.0 113.5 408.5 117.0 435.0 137.0 440.5 143.0 442.0 150.0 443.5 153.0 446.0 155.5 449.0 157.0 453.5 163.0 458.0 166.5 458.5 183.0 455.5 189.5 452.5 202.5 451.0 233.0 448.5 238.5 443.0 243.0 439.0 244.0 428.0 244.0 418.5 241.5 411.0 237.0 404.0 229.5 400.0 224.0 397.5 218.0 394.5 214.5 391.0 213.0 389.0 215.0 383.5 231.5 380.5 253.0 380.0 277.5 383.0 294.5 388.0 304.5 512.5 304.5 512.5 224.0 508.5 220.5 511.0 214.5 510.5 205.0 512.5 199.5 512.0 144.0 508.5 133.5 505.0 128.5 501.0 125.0 495.5 122.0 489.0 120.5 483.0 120.5 477.0 123.5 475.5 123.0 465.0 96.0 458.5 76.0Z"/>
<path fill-rule="evenodd" fill="#3d43e3" d="M466.5 163.0 468.0 165.0 469.0 169.0 469.5 176.0 464.0 177.5 462.5 174.5 462.0 166.5 463.5 164.5ZM423.0 138.0 421.0 137.0 416.0 137.5 412.5 139.5 407.5 144.0 404.0 150.5 404.0 155.5 402.5 158.5 388.0 173.0 388.0 176.5 386.5 179.5 390.0 183.5 406.5 184.5 414.0 184.0 415.5 183.0 416.0 178.5 414.0 175.0 412.0 163.0 413.5 158.5 420.0 153.0 423.5 147.5 424.5 144.5 424.5 140.5ZM452.5 74.0 450.0 76.0 449.5 78.0 457.5 105.0 456.0 111.0 457.0 117.5 454.0 119.5 455.0 124.5 454.5 130.0 445.0 119.5 433.0 111.0 418.5 104.0 413.5 104.0 411.5 105.0 408.0 109.5 408.0 114.0 409.0 116.5 411.0 118.5 432.0 134.0 439.5 141.0 441.5 144.5 442.5 150.5 444.5 154.0 449.0 156.5 453.5 162.5 458.0 166.0 459.0 174.5 459.0 184.0 456.0 190.5 453.5 200.5 452.5 208.5 452.5 222.5 455.0 238.5 457.5 242.0 462.5 242.5 464.5 241.5 468.5 237.5 473.0 228.5 475.0 217.0 476.5 193.5 477.5 192.0 480.0 195.0 485.5 206.5 491.5 213.0 497.5 215.5 500.0 217.5 503.5 218.5 507.0 217.5 509.0 215.5 510.0 212.5 509.0 208.5 509.0 204.0 511.5 196.5 512.5 185.0 512.5 159.0 511.0 146.5 508.5 137.0 506.0 132.5 501.0 127.0 494.0 123.0 487.5 121.5 482.0 122.0 476.5 126.0 474.5 125.0 471.0 111.5 466.0 100.0 458.0 76.0 456.0 74.0Z"/>
<path fill-rule="evenodd" fill="#3c45ec" d="M421.5 138.5 416.5 138.5 413.5 140.0 409.5 143.5 406.5 148.0 405.0 155.0 403.0 158.5 388.5 172.5 388.5 176.5 387.0 179.5 390.0 183.0 395.0 184.0 414.0 184.0 416.0 182.0 416.0 179.0 414.5 177.0 412.0 166.5 412.0 161.0 413.5 157.5 419.5 152.5 422.5 148.0 423.5 145.0 423.5 141.0ZM459.5 125.0 461.0 128.5 462.0 134.5 461.5 139.5 460.5 138.0 459.5 132.5ZM453.5 74.0 450.5 76.0 450.0 78.5 458.0 104.5 456.5 111.5 458.0 117.5 457.0 118.5 456.0 118.0 454.5 119.0 455.5 127.5 455.0 131.0 444.0 119.5 433.5 112.0 418.0 104.5 414.0 104.5 411.0 106.0 408.5 110.0 408.5 114.0 410.5 117.5 432.0 133.5 439.5 140.5 441.5 144.0 442.5 149.5 444.0 153.0 449.5 156.5 453.5 162.0 458.0 165.5 459.0 172.5 459.0 186.0 457.0 190.0 454.0 200.5 453.0 216.5 455.0 228.0 458.5 233.0 461.0 233.5 464.5 232.0 467.5 229.0 471.0 222.5 474.5 206.0 474.5 191.0 473.5 186.0 472.0 182.5 470.0 180.5 468.0 179.5 463.5 179.5 462.0 172.0 462.0 165.5 466.0 162.0 468.0 163.0 472.5 180.5 479.5 191.0 486.5 206.0 492.5 212.0 497.5 214.0 501.5 217.0 504.0 217.5 507.5 216.0 509.0 213.5 508.0 204.5 511.0 195.0 512.0 183.5 511.5 158.5 508.5 140.0 504.5 132.0 501.5 128.5 492.5 123.5 483.5 122.5 480.5 123.5 477.5 126.5 476.0 129.5 474.5 129.0 471.0 113.0 464.5 97.0 457.5 76.0 456.0 74.5Z"/>
<path fill-rule="evenodd" fill="#3b4df2" d="M421.5 140.0 417.0 139.5 413.0 141.5 408.5 146.5 405.0 156.5 395.0 167.0 389.5 171.5 388.5 173.5 388.5 177.0 387.5 178.5 387.5 180.0 389.5 182.5 391.5 183.5 413.5 184.0 415.5 182.5 416.0 179.5 414.5 177.0 411.5 161.5 413.5 156.5 419.0 152.0 422.0 147.0 422.5 141.5ZM458.5 119.5 461.5 128.5 463.0 139.0 462.5 143.5 461.0 141.5 460.0 137.5 458.0 122.5ZM453.0 74.5 451.0 76.0 450.5 79.0 458.5 104.5 457.0 111.0 458.5 118.5 455.5 118.5 454.5 119.5 455.5 126.5 455.0 132.5 449.5 125.5 438.5 116.0 431.5 111.5 418.0 105.0 414.0 105.0 412.0 106.0 409.0 110.0 409.0 114.0 412.5 118.5 432.5 133.5 439.5 140.0 441.5 143.0 442.5 149.0 444.0 152.5 446.0 154.5 450.0 156.5 453.5 161.5 458.5 166.5 459.5 186.0 454.5 201.0 454.0 218.5 455.0 223.5 457.0 227.5 459.5 229.5 462.0 229.5 467.0 225.5 470.0 220.0 472.0 213.5 473.5 204.5 473.0 190.5 470.0 183.5 467.5 181.5 464.0 181.5 463.0 180.0 462.0 173.0 462.0 165.0 466.0 161.0 468.0 161.5 473.5 179.5 480.0 190.5 487.0 205.0 492.5 211.0 497.5 213.0 502.0 216.5 505.5 216.5 508.5 213.5 508.5 210.5 507.0 205.5 509.0 200.0 510.5 191.5 510.5 158.0 509.5 148.0 507.0 138.0 504.5 133.5 500.0 128.5 492.0 124.0 484.0 123.0 481.0 124.0 478.0 127.0 476.5 133.0 474.5 133.0 473.0 127.0 473.0 122.0 469.0 108.0 464.5 98.0 457.5 77.0 456.0 75.0Z"/>
<path fill-rule="evenodd" fill="#3a5bf5" d="M420.5 141.0 417.0 140.5 412.5 143.0 409.5 146.5 408.0 150.0 408.0 152.5 405.0 157.0 397.5 165.0 389.0 172.5 389.0 177.0 387.5 179.5 390.5 183.0 400.5 184.0 411.0 184.0 414.5 183.5 415.5 182.5 416.0 180.0 414.5 177.0 412.5 169.0 411.5 161.0 413.0 156.0 418.5 151.5 421.0 147.5 421.5 142.5ZM453.0 75.0 451.0 77.0 451.0 79.5 459.0 104.5 457.5 113.0 462.0 129.0 464.5 146.5 464.0 148.5 460.5 141.5 458.0 121.0 457.0 118.5 455.5 118.5 454.5 119.5 456.0 132.5 455.0 133.5 448.5 125.0 440.5 118.0 434.0 113.5 418.0 105.5 414.0 105.5 412.0 106.5 409.5 110.0 409.5 114.0 412.0 117.5 420.5 123.5 439.5 139.5 442.0 143.5 442.5 148.0 444.0 152.0 446.5 154.5 450.5 156.5 453.5 161.0 458.5 166.0 459.5 188.0 457.0 193.5 455.0 201.0 454.5 216.5 455.5 221.5 457.5 225.5 459.5 227.0 462.0 227.0 465.5 224.5 469.5 217.5 472.5 205.0 472.5 194.0 471.0 188.0 468.0 183.5 464.0 183.0 463.0 181.5 461.5 168.0 462.0 164.5 466.5 159.5 468.0 160.5 473.5 178.0 487.5 204.5 493.0 210.5 498.0 212.5 502.5 216.0 505.5 216.0 508.0 213.5 508.0 210.5 506.5 205.0 508.5 199.5 510.0 191.0 510.0 158.0 508.5 146.0 506.5 138.0 502.5 131.5 498.5 128.0 491.5 124.5 487.0 123.5 482.5 124.0 478.5 127.5 476.5 136.5 475.0 136.5 473.0 130.0 472.5 121.5 469.0 109.0 464.5 99.0 457.5 78.0 456.0 75.5Z"/>
<path fill-rule="evenodd" fill="#3969f8" d="M419.5 142.0 416.0 142.0 411.0 146.0 409.5 148.5 409.0 153.0 389.0 173.0 389.0 177.5 388.0 179.5 389.5 182.0 391.0 183.0 404.0 184.0 414.0 183.5 415.5 182.0 415.5 179.0 413.5 175.0 411.0 161.5 412.5 158.5 412.5 155.0 418.0 151.0 420.5 146.5 420.5 143.5ZM452.5 75.5 451.5 76.5 451.5 79.5 459.5 105.5 458.0 110.0 458.0 113.5 462.5 130.0 464.0 142.5 466.5 152.5 466.0 155.0 464.5 153.5 461.0 144.5 457.5 119.5 456.5 118.5 455.5 118.5 454.5 120.0 456.0 129.0 456.0 133.5 455.0 134.0 450.0 127.5 441.0 119.0 434.0 114.0 418.5 106.0 415.5 105.5 412.5 106.5 410.5 108.5 409.5 112.5 410.5 115.5 412.5 117.5 423.0 125.0 439.5 139.0 442.0 143.0 443.0 149.0 444.5 152.5 446.0 154.0 449.5 155.5 453.0 159.0 455.0 162.5 458.0 164.5 459.5 176.5 459.5 189.5 457.0 195.0 455.5 201.0 455.0 215.5 456.5 221.5 458.0 224.0 459.5 225.0 462.5 225.0 465.5 222.5 469.0 216.0 471.5 206.5 472.0 197.0 470.5 189.0 469.0 186.0 466.5 184.0 464.0 184.0 463.0 182.5 461.5 169.5 462.0 164.0 466.5 158.0 468.0 159.0 474.0 178.0 487.0 203.0 493.5 210.0 499.0 212.5 502.5 215.5 505.5 215.5 507.5 213.5 506.0 204.5 509.0 195.5 510.0 184.0 509.5 158.5 508.0 146.5 506.0 138.5 502.0 132.0 495.5 127.0 491.5 125.0 487.0 124.0 482.0 125.0 478.5 128.5 477.0 140.0 476.0 140.5 475.0 139.5 472.5 129.5 472.0 121.0 468.5 108.5 465.5 102.5 456.5 76.5 455.5 75.5Z"/>
<path fill-rule="evenodd" fill="#3579fb" d="M419.0 143.5 416.5 143.0 413.0 145.0 410.5 149.0 411.0 153.0 407.5 154.5 403.0 160.0 389.5 172.5 389.5 177.0 388.0 179.0 390.5 182.5 397.5 183.5 414.0 183.5 415.5 182.0 415.5 179.0 413.5 175.5 411.5 166.5 411.0 161.0 412.5 157.5 411.5 153.5 415.5 152.0 418.0 149.5 419.5 146.5ZM413.5 106.5 411.0 108.5 410.0 111.0 411.0 115.5 439.5 138.5 442.0 142.0 443.0 148.5 444.5 152.0 446.5 154.0 450.0 155.5 458.5 165.5 460.0 188.5 456.0 201.0 455.5 215.0 457.5 221.5 458.5 223.0 461.5 224.0 463.5 223.0 467.0 218.5 470.0 210.5 471.0 205.0 471.0 194.5 468.5 187.0 466.0 185.0 464.0 185.0 462.5 181.0 461.5 164.5 465.0 160.0 465.5 156.5 461.0 146.0 457.5 119.5 456.0 118.5 455.0 119.0 456.0 128.5 456.0 134.5 455.0 135.0 449.0 127.0 444.0 122.0 435.5 115.5 418.5 106.5ZM453.5 75.5 452.0 76.5 451.5 78.5 459.5 103.0 458.5 114.0 462.5 128.5 464.0 140.5 467.5 156.5 473.0 174.5 488.5 204.0 493.5 209.5 496.0 211.0 497.5 211.0 502.0 215.0 504.5 215.5 507.0 213.5 507.5 212.0 506.0 208.5 505.5 204.5 508.5 195.0 509.5 183.5 508.5 152.5 505.5 138.5 503.0 134.0 499.5 130.0 492.5 126.0 484.5 124.5 482.0 125.5 479.5 128.0 478.5 131.0 477.5 143.0 476.5 143.5 475.5 142.5 473.0 134.0 472.0 123.0 469.5 112.5 464.0 99.5 456.5 77.5 455.5 76.0Z"/>
<path fill-rule="evenodd" fill="#2f8cfc" d="M410.5 154.5 407.5 155.0 395.5 167.5 390.0 172.0 389.5 177.5 388.0 179.0 389.0 179.5 390.0 182.0 399.0 183.5 413.5 183.5 415.0 182.5 415.5 179.5 413.0 175.0 411.5 169.0 412.0 167.5 411.0 164.5 411.0 160.5 412.0 159.0 412.0 156.0ZM417.0 144.5 415.0 145.0 412.5 147.5 412.0 151.0 415.0 151.0 417.5 148.5 418.0 145.5ZM414.5 106.5 412.5 107.5 410.5 110.5 410.5 113.5 411.5 115.5 435.0 134.0 441.5 140.5 443.0 144.0 443.5 149.5 445.0 152.5 450.5 155.5 458.5 165.0 460.0 190.5 457.5 196.5 456.0 203.5 456.0 215.0 458.0 221.0 459.5 222.5 462.0 222.5 465.5 219.5 469.5 210.0 470.5 204.5 470.5 195.0 468.0 187.5 466.0 186.0 464.0 186.0 462.5 182.0 461.5 164.0 464.5 160.0 465.0 157.5 461.0 147.0 457.0 119.0 455.0 119.0 456.0 127.5 455.5 136.0 448.0 126.5 437.5 117.5 430.5 113.0 417.5 106.5ZM453.5 76.0 452.5 76.5 452.0 78.5 460.0 103.5 460.0 107.0 458.5 110.5 458.5 113.0 462.5 127.0 464.5 141.5 467.5 152.5 468.0 157.0 472.5 172.5 477.5 183.5 489.0 204.0 496.0 210.5 498.5 211.0 502.0 214.5 505.0 215.0 507.0 212.5 505.0 204.5 508.0 195.0 509.0 183.5 508.0 153.0 505.0 139.0 502.5 134.5 499.0 130.5 491.0 126.0 484.5 125.0 482.0 126.0 479.5 129.0 478.0 145.0 477.0 146.0 475.5 144.5 473.0 135.5 471.5 127.0 471.5 121.5 468.5 110.0 465.0 103.0 455.5 76.5Z"/>
<path fill-rule="evenodd" fill="#299ffe" d="M410.5 155.0 407.0 155.5 401.5 162.0 389.5 173.0 390.0 177.0 388.0 179.0 390.5 182.0 401.0 183.5 412.5 183.5 415.0 182.5 415.5 180.0 413.0 175.5 410.5 164.5 410.5 161.0 412.0 158.5 412.0 157.0ZM477.0 149.5 478.0 148.0 479.0 148.5 478.0 150.0ZM414.5 107.0 412.5 108.0 411.0 110.5 411.0 113.5 412.0 115.5 424.0 124.5 441.5 140.0 443.0 143.0 443.5 149.0 444.5 151.5 446.5 153.5 450.5 155.0 453.5 158.0 455.0 161.0 458.0 163.5 459.5 173.5 460.0 191.5 457.0 200.0 456.0 211.0 457.0 217.0 458.5 220.5 460.0 221.5 462.0 221.5 466.0 217.5 468.5 211.5 470.0 204.5 470.0 195.0 468.5 189.5 467.0 187.5 464.5 187.0 463.5 186.0 462.5 182.5 461.5 163.5 464.0 160.0 464.5 157.5 460.5 145.5 457.5 120.5 456.5 119.0 455.0 119.5 456.5 135.5 455.5 137.0 449.5 129.0 442.0 121.5 436.0 117.0 417.5 107.0ZM453.5 76.5 452.5 77.5 452.5 79.0 460.5 104.0 460.5 106.5 459.0 110.0 459.0 113.5 463.0 128.0 465.0 142.5 468.0 155.5 473.5 174.5 489.0 204.0 494.0 209.0 498.5 210.5 502.0 214.0 505.0 214.5 506.5 213.0 506.5 211.0 505.0 208.0 504.5 204.0 507.0 199.0 508.0 195.0 509.0 183.5 508.0 153.0 505.0 139.0 502.5 134.5 499.0 130.5 491.0 126.0 484.5 125.0 482.0 126.0 479.5 129.0 478.5 135.0 478.5 147.0 477.5 148.5 476.0 147.0 473.5 139.0 471.5 128.5 471.0 121.0 468.5 111.0 465.0 104.0 456.0 78.5 454.5 76.5Z"/>
<path fill-rule="evenodd" fill="#20b2fc" d="M411.0 155.5 407.5 155.5 396.5 167.0 390.0 172.5 390.0 177.0 388.5 179.0 389.5 179.5 390.5 182.0 403.5 183.5 414.0 183.0 415.0 182.0 415.0 178.5 412.5 175.5 410.5 167.0 410.5 160.5 411.5 159.0ZM414.5 107.5 411.5 110.5 412.0 114.5 416.0 118.5 424.0 124.0 429.0 129.0 436.5 134.5 442.0 140.0 443.5 144.0 443.5 148.5 445.5 152.5 451.0 155.0 458.5 164.5 460.0 180.0 460.0 193.0 457.0 201.5 456.5 212.5 459.0 220.0 461.0 221.0 462.5 220.5 466.0 216.5 468.5 210.0 469.5 205.0 469.5 194.5 467.5 189.0 463.5 187.0 462.5 183.5 461.5 163.0 463.5 160.0 464.0 157.5 461.0 149.5 457.0 119.5 455.0 119.5 456.5 131.0 456.5 137.0 455.5 138.0 448.5 128.5 438.0 119.0 429.5 113.5 417.5 107.5ZM453.5 77.0 453.0 78.5 461.0 104.5 459.0 112.5 463.5 129.0 466.5 148.0 473.0 172.5 477.0 181.5 483.0 191.0 486.0 198.5 487.0 199.0 489.5 203.5 496.5 210.0 498.5 210.0 502.5 214.0 505.0 214.0 506.0 213.0 506.0 210.5 504.0 205.0 507.5 194.5 508.5 176.5 507.5 151.5 504.5 139.0 500.5 132.5 497.5 130.0 490.5 126.5 486.0 125.5 483.5 126.0 480.0 129.5 478.5 145.0 479.0 152.0 478.0 152.5 477.0 151.5 473.5 140.0 471.0 127.0 471.0 122.0 468.0 110.5 463.5 101.0 455.5 78.5 454.5 77.0Z"/>
<path fill-rule="evenodd" fill="#13c4f5" d="M479.0 155.0 479.0 157.0 478.0 156.0ZM410.5 155.5 407.0 156.0 390.0 173.0 390.5 176.5 389.0 179.0 391.0 182.0 398.0 183.0 414.0 183.0 415.0 182.0 415.0 179.0 412.0 175.5 410.0 167.0 410.0 162.0 411.5 159.0 411.5 157.0ZM414.5 108.0 412.0 110.5 412.5 114.5 417.0 119.0 424.5 124.0 430.0 129.5 441.0 138.0 443.5 142.5 443.5 147.0 445.0 151.5 446.5 153.0 451.0 154.5 454.5 158.0 458.5 164.0 460.5 191.0 457.0 203.5 457.0 213.5 459.0 219.0 462.0 220.0 464.0 218.5 466.5 214.5 469.0 205.5 469.5 198.5 468.0 191.0 466.0 188.5 464.5 188.5 463.5 187.5 462.5 184.0 461.5 173.5 461.5 162.5 463.5 158.0 461.0 150.5 457.0 119.5 455.0 119.5 456.5 130.5 456.5 138.0 455.5 138.5 446.5 127.0 437.0 119.0 431.0 115.0 417.5 108.0ZM454.0 78.0 456.5 90.0 461.5 105.5 459.5 110.5 459.5 113.0 463.5 128.0 466.5 147.0 473.0 172.0 477.5 182.0 484.5 193.0 485.0 195.5 490.0 203.5 494.5 208.0 499.5 210.0 502.5 213.5 504.5 214.0 506.0 212.5 506.0 211.5 504.0 207.5 504.0 203.5 507.0 194.0 508.0 176.5 507.5 153.5 506.0 145.0 504.0 139.0 501.5 134.5 498.5 131.5 490.5 127.0 486.0 126.0 483.0 127.0 481.0 129.0 480.0 132.0 479.0 147.0 479.5 151.5 478.5 155.0 477.5 154.0 473.0 138.5 471.0 128.5 470.5 121.0 468.0 111.5 464.0 103.5 460.5 92.5Z"/>
<path fill-rule="evenodd" fill="#06d8ee" d="M410.0 155.5 408.0 155.5 398.5 165.5 390.0 173.0 390.5 177.0 389.5 178.0 389.5 179.5 390.5 181.5 399.5 183.0 414.5 182.5 415.0 179.0 411.5 176.0 409.5 169.0 409.0 165.0 410.5 161.0 410.0 160.5 411.5 158.5ZM415.5 108.5 413.5 109.5 412.5 111.5 413.0 114.0 418.0 119.5 424.5 123.5 431.0 130.0 439.0 135.5 442.0 138.5 443.5 141.0 444.5 150.5 447.0 153.0 452.5 155.0 458.0 162.5 459.5 171.5 460.5 193.5 458.0 200.0 457.0 210.0 459.0 218.0 460.0 219.0 462.5 219.0 465.5 215.5 468.0 209.0 469.0 203.0 469.0 196.5 467.5 191.0 463.5 188.0 462.5 185.0 461.0 167.0 462.5 156.5 460.5 148.5 459.5 135.5 457.0 119.5 455.0 119.5 456.5 130.0 456.5 139.0 455.5 139.5 447.0 128.5 440.0 122.0 431.5 116.0ZM456.5 85.5 458.0 93.5 462.0 105.0 460.0 110.0 460.0 114.0 464.0 129.0 466.5 146.0 473.0 171.5 478.0 182.5 483.5 190.5 486.0 196.5 490.5 203.0 495.5 208.0 500.0 209.5 503.5 213.5 504.5 213.5 505.5 211.5 503.5 207.5 503.5 203.0 506.5 194.0 507.5 177.0 507.0 154.0 503.5 139.0 499.5 133.0 494.5 129.5 485.5 126.5 483.0 127.5 481.5 129.0 480.5 132.0 480.5 149.0 479.5 154.0 480.0 157.0 479.5 158.5 478.5 158.5 473.5 141.5 470.5 126.5 470.5 122.5 467.5 111.0 463.5 103.5 460.0 92.5Z"/>
<path fill-rule="evenodd" fill="#00e0dc" d="M410.5 156.0 407.5 156.0 390.0 173.5 391.0 176.0 389.5 179.0 391.0 181.5 401.0 183.0 413.0 183.0 415.0 181.5 414.5 179.0 412.0 177.0 400.0 176.5 398.0 175.5 408.0 165.5 411.0 159.0ZM415.5 110.0 414.0 111.5 414.0 113.5 416.0 117.0 419.0 120.0 424.5 123.0 432.0 130.5 439.0 135.0 443.0 139.0 444.0 141.0 444.0 148.5 445.0 151.0 447.5 153.0 453.5 155.0 457.0 159.5 459.0 165.5 460.5 184.5 460.5 194.5 458.0 201.5 457.5 212.0 459.0 217.0 460.5 218.5 462.0 218.5 465.0 215.5 467.5 209.5 468.5 204.5 468.5 195.5 467.5 192.0 466.0 190.0 463.5 189.0 462.5 185.5 461.0 168.0 462.0 156.5 460.5 149.5 459.5 136.0 457.0 119.5 456.0 119.0 455.0 120.0 457.0 136.5 456.5 140.5 455.5 141.0 446.5 129.0 439.5 122.5 427.0 114.5ZM462.0 101.5 462.5 106.0 460.0 111.0 464.0 128.0 466.0 142.5 470.5 162.5 474.5 175.0 478.5 183.0 483.5 190.0 485.0 194.0 491.0 202.5 495.0 207.0 500.5 209.0 503.0 212.5 504.5 213.0 505.0 211.5 503.0 208.0 502.5 204.0 504.5 198.5 506.0 190.0 506.5 154.0 503.0 139.0 499.5 134.0 494.0 130.0 489.0 128.0 483.5 128.0 482.0 129.5 481.0 135.5 481.0 157.5 480.5 159.5 479.0 160.5 477.5 157.5 473.0 140.0 468.5 115.5 467.0 110.5Z"/>
<path fill-rule="evenodd" fill="#00dcaf" d="M410.0 156.0 408.0 156.0 401.0 163.5 390.5 173.0 391.0 177.0 390.0 180.0 391.0 181.5 403.5 183.0 410.5 183.0 414.5 182.0 414.5 179.0 412.0 177.5 398.0 177.5 395.5 176.5 395.5 175.5 408.5 163.5 411.0 159.0 411.0 157.0ZM416.0 113.5 416.0 116.0 420.0 120.5 424.5 122.5 432.5 130.5 440.5 135.5 443.5 138.5 444.5 141.0 444.5 149.5 446.0 152.0 455.0 154.5 457.0 156.5 459.5 170.0 461.0 193.5 458.0 203.0 458.0 213.0 459.0 216.0 460.5 217.5 462.5 217.5 464.5 215.5 467.0 210.0 468.5 199.0 467.0 192.0 463.5 189.5 462.5 186.0 461.0 169.0 461.5 155.0 457.0 120.0 456.0 119.0 455.0 120.0 457.0 134.5 457.0 140.0 456.5 142.0 455.5 142.5 446.5 130.5 440.5 124.5 424.0 114.0 419.0 112.5ZM463.0 106.5 460.5 111.0 460.5 113.0 464.5 129.5 466.5 144.0 473.5 172.0 477.0 180.0 481.5 187.5 484.0 190.0 486.5 195.5 492.0 202.5 497.5 207.0 500.0 205.5 503.0 200.0 504.5 195.0 506.0 182.0 506.0 154.5 505.0 148.0 502.5 139.5 500.0 135.5 493.5 130.5 487.5 128.5 484.5 128.5 483.0 129.5 481.5 136.5 482.0 162.0 480.5 164.5 479.0 163.0 472.5 138.5 468.5 116.5 465.5 108.5 464.0 106.5Z"/>
<path fill-rule="evenodd" fill="#00d774" d="M390.5 179.0 391.0 181.0 400.0 182.5 413.5 182.5 414.5 181.5 414.5 180.0 413.0 178.5 397.5 178.5 392.0 177.5ZM410.0 156.5 408.0 156.5 391.0 173.0 390.5 174.5 392.5 176.5 407.5 163.5 410.5 159.0ZM447.0 139.5 445.5 141.5 444.5 146.0 445.0 150.0 446.0 151.5 448.0 152.5 451.5 152.5 454.0 150.0 453.5 143.5 450.5 140.0ZM455.5 119.5 457.0 133.0 457.0 152.0 459.5 169.0 460.5 189.5 461.5 194.0 458.5 203.0 458.5 212.0 459.5 215.0 461.5 216.5 464.5 214.0 466.5 209.5 467.5 205.0 467.5 196.0 466.5 193.0 463.5 190.5 462.5 187.5 461.0 170.0 461.5 159.0 459.5 137.5 456.5 119.5ZM417.5 114.5 417.5 117.5 420.0 120.0 426.5 122.5 433.5 130.5 440.5 134.0 443.0 133.5 443.0 131.0 442.0 129.0 438.5 125.5 434.5 123.0 429.5 121.5 427.0 118.0 423.5 115.0 420.5 114.0ZM463.5 109.5 461.5 111.0 462.0 118.5 464.5 127.5 466.5 142.0 472.0 166.5 475.0 175.0 481.5 187.0 485.0 190.5 488.0 195.5 489.5 196.5 491.5 196.5 496.0 190.5 500.5 192.5 501.5 189.5 504.5 167.0 504.5 153.5 502.5 144.0 501.0 140.0 496.5 134.5 488.5 131.5 485.5 132.0 483.0 146.0 483.0 160.0 484.0 170.0 482.5 171.0 480.5 168.5 477.5 160.0 468.0 117.0 465.0 110.5Z"/>
<path fill-rule="evenodd" fill="#0fd145" d="M391.0 180.0 392.5 181.0 399.0 182.0 414.0 181.5 414.0 180.0 412.0 179.0 391.5 179.0ZM410.0 157.0 408.0 157.0 391.0 174.0 391.5 175.0 395.5 173.0 404.0 166.0 409.5 160.0 410.5 158.0ZM447.5 142.0 445.0 145.5 445.0 149.0 446.0 151.0 447.5 152.0 450.0 152.0 452.5 149.5 452.5 146.0 450.0 142.5ZM493.0 137.5 490.5 138.5 488.5 140.5 486.5 144.5 485.0 151.0 485.0 161.0 486.0 166.5 489.0 173.5 492.0 176.0 494.5 176.5 497.0 175.5 499.5 173.0 501.5 169.0 503.0 162.0 503.0 154.0 502.0 148.5 499.5 142.0 497.0 139.0ZM430.5 124.5 430.5 126.5 434.0 130.0 438.5 132.0 440.0 131.5 440.0 129.5 437.5 126.5 432.5 124.0ZM455.5 119.5 457.0 132.0 458.0 160.5 459.5 168.0 461.0 192.5 462.0 194.0 459.0 203.5 459.0 211.0 460.0 214.0 462.0 215.0 464.0 213.5 466.0 209.0 467.0 204.5 467.0 197.0 465.5 193.5 463.5 192.0 462.5 188.5 461.0 171.5 461.0 155.0 459.5 138.5 456.5 119.5ZM418.0 115.5 418.5 118.0 421.5 120.5 426.5 120.5 426.0 118.0 423.0 115.5ZM463.5 114.5 462.5 117.5 465.0 127.5 467.0 143.0 473.5 170.5 478.5 181.5 482.0 187.0 489.5 192.0 490.0 190.5 488.5 188.0 487.5 183.5 482.5 175.0 478.5 165.0 467.0 116.5 465.5 114.5Z"/>
<path fill-rule="evenodd" fill="#20cb17" d="M464.5 194.5 463.0 195.0 461.5 197.0 459.5 204.0 459.5 209.5 461.5 213.5 463.0 213.0 464.5 211.0 466.5 204.0 466.5 198.5ZM397.5 180.5 400.0 181.5 413.5 181.5 413.0 180.0ZM409.5 157.5 408.5 157.5 396.5 170.0 401.0 167.5 408.5 160.0ZM447.5 143.5 445.5 146.0 445.5 149.5 447.5 151.5 449.5 151.5 451.5 149.0 451.5 146.5 450.0 144.0ZM492.5 141.0 489.0 144.5 487.0 150.0 486.5 160.0 487.5 165.0 490.0 170.0 492.5 172.0 495.5 172.0 498.0 170.0 500.0 166.5 501.5 159.5 501.5 154.0 498.5 144.0 495.5 141.0ZM432.5 126.5 435.0 129.5 437.5 129.5 436.0 127.0 434.0 126.0ZM456.0 119.5 455.5 121.5 457.5 137.5 458.0 158.5 459.5 167.0 461.0 192.0 461.5 193.0 463.0 193.0 461.0 172.5 461.0 157.5 459.5 139.5 457.0 122.0ZM465.0 117.0 464.0 118.0 464.0 121.5 466.0 130.5 468.0 146.5 472.5 166.5 475.0 174.0 478.5 181.0 483.0 187.5 486.0 187.5 487.0 184.5 481.0 173.0 478.5 166.0 468.5 123.5 466.5 118.5ZM418.5 116.5 420.5 119.5 422.5 120.5 425.5 120.0 425.5 118.5 423.0 116.0 419.5 115.5Z"/>
<path fill-rule="evenodd" fill="#4dd100" d="M464.5 196.5 463.5 196.5 462.0 198.0 460.5 202.5 460.5 210.0 461.5 211.5 462.5 211.5 464.0 210.0 465.5 205.5 465.5 198.0ZM447.5 144.5 446.0 146.0 446.0 149.5 448.5 151.0 450.5 149.5 450.5 146.0ZM493.5 142.5 491.0 144.0 489.0 147.5 487.5 154.5 487.5 158.5 489.5 166.5 492.0 169.5 495.0 170.0 497.5 168.0 499.5 164.0 500.5 154.5 499.5 149.0 498.0 145.5 495.5 143.0ZM466.0 123.0 465.5 125.0 467.5 142.0 473.0 167.5 478.5 180.5 481.5 185.0 483.5 187.0 485.0 187.0 486.0 186.0 486.0 184.0 481.0 174.0 478.5 167.0 470.5 132.5 468.5 126.0 467.0 123.0ZM456.0 119.5 455.5 120.0 457.5 136.0 458.0 156.0 459.5 166.5 461.5 192.5 462.5 193.0 463.0 192.0 461.0 174.0 461.0 160.5 459.5 140.5ZM419.5 116.0 419.5 118.0 420.5 119.0 424.5 120.0 425.0 119.0 423.0 116.5Z"/>
<path fill-rule="evenodd" fill="#98e400" d="M463.5 199.0 461.5 202.5 461.5 208.0 462.5 209.0 464.5 205.5 464.5 200.0ZM447.5 145.5 446.5 146.5 446.5 149.5 449.0 150.0 450.0 147.0 448.5 145.5ZM493.5 144.0 490.5 146.5 489.0 150.0 488.5 160.0 490.5 166.0 493.0 168.5 495.0 168.5 497.5 166.0 499.0 162.5 499.5 152.5 497.5 146.5 495.5 144.5ZM468.0 128.5 467.0 129.5 467.5 139.0 472.5 165.0 475.5 174.0 478.5 180.0 482.5 185.5 484.5 186.5 485.5 184.5 481.5 176.0 478.0 166.0 470.5 134.0ZM456.0 120.0 457.5 134.5 458.5 161.0 459.5 165.5 461.5 192.5 462.5 192.5 459.5 141.5 458.5 132.0ZM420.0 116.5 420.0 118.0 421.0 119.0 424.0 119.0 423.0 117.0Z"/>
<path fill-rule="evenodd" fill="#e3f600" d="M447.5 147.0 447.0 148.5 448.5 149.0 449.0 147.5ZM494.0 145.0 492.5 145.5 490.5 148.0 489.0 153.5 489.5 161.5 490.5 164.5 493.0 167.0 495.0 167.0 496.5 166.0 499.0 159.0 499.0 153.5 497.5 148.0 495.5 145.5ZM468.5 132.5 468.0 140.0 472.5 164.5 478.0 178.5 481.5 183.5 483.5 185.0 484.0 182.0 478.0 167.0 471.0 137.5ZM456.0 120.0 457.5 133.5 458.5 160.0 462.0 192.5 462.5 191.5 460.5 168.5 459.5 142.5 458.0 129.5ZM420.5 117.5 422.0 119.0 423.5 118.5 422.0 117.0Z"/>
<path fill-rule="evenodd" fill="#f7dd00" d="M493.0 146.5 491.0 148.5 490.0 151.0 489.5 158.5 491.5 164.5 493.0 166.0 495.0 166.0 496.5 164.5 498.0 161.0 498.5 154.0 497.0 148.5 495.0 146.5ZM469.0 136.5 469.0 145.5 473.0 165.5 478.0 178.0 481.5 182.5 483.0 182.5 477.5 166.0 472.0 142.5 470.5 138.0ZM456.5 123.0 458.0 139.5 458.5 158.0 462.0 192.0 459.5 144.0Z"/>
<path fill-rule="evenodd" fill="#fdba00" d="M493.0 147.5 490.5 151.5 490.0 158.5 492.0 164.0 494.5 165.0 496.0 164.0 497.5 161.0 498.0 154.0 496.5 149.0 495.0 147.5ZM469.5 140.5 470.0 150.0 473.5 166.5 477.5 176.5 479.5 179.5 481.5 180.5 481.0 176.5 477.5 167.0 473.0 147.0 470.5 140.5ZM457.0 126.0 459.0 163.0 461.5 187.5 459.5 145.0Z"/>
<path fill-rule="evenodd" fill="#fc9300" d="M493.0 148.5 491.0 152.0 490.5 158.0 492.0 162.5 493.5 164.0 494.5 164.0 497.0 160.5 497.5 154.0 496.0 149.5 495.0 148.5ZM470.5 143.5 470.0 148.0 473.0 164.0 477.0 175.0 480.0 178.5 480.5 177.0 477.5 168.0 474.0 151.5 472.0 145.0ZM457.0 127.5 461.0 183.0 459.5 146.5 458.5 135.0Z"/>
<path fill-rule="evenodd" fill="#f76a00" d="M493.5 149.5 491.5 152.5 491.0 157.5 492.5 162.0 495.0 162.5 496.5 160.0 497.0 154.5 496.0 151.0 494.5 149.5ZM471.0 146.0 471.0 153.0 473.0 163.0 477.5 175.0 479.5 176.0 474.0 152.5 472.5 148.0ZM457.5 130.0 459.0 160.5 461.0 180.5 459.5 148.0Z"/>
<path fill-rule="evenodd" fill="#ed4600" d="M494.5 151.0 493.5 151.0 492.0 153.0 492.0 159.0 494.0 161.5 496.0 159.0 496.0 153.0ZM471.5 149.0 471.5 153.5 473.5 163.5 476.0 170.5 478.0 173.0 473.5 152.0 472.5 149.5ZM458.0 133.5 460.5 175.5 460.0 158.0Z"/>
<path fill-rule="evenodd" fill="#df2600" d="M494.5 153.0 493.5 153.0 492.5 155.0 492.5 157.0 494.0 159.5 495.5 157.0ZM472.5 152.0 473.5 162.0 476.0 168.0 475.5 162.0Z"/>
</g></g>
<path d="M422.7 114 A73.5 73.5 0 0 1 422.7 241.2" fill="none" stroke="#101018" stroke-width="0.6"/>
<circle cx="386" cy="177.6" r="4.8" fill="#f2ea2a" stroke="#050510" stroke-width="1.5"/>
<circle cx="459.4" cy="168.8" r="3.8" fill="#84dc78" stroke="#050510" stroke-width="2"/>
<g clip-path="url(#cw2)"><g filter="url(#bl)">
<path fill-rule="evenodd" fill="#5846a0" d="M258.0 314.0 258.0 568.5 512.5 568.5 512.5 314.0Z"/>
<path fill-rule="evenodd" fill="#4642b6" d="M258.0 314.0 258.0 568.5 512.5 568.5 512.5 314.0Z"/>
<path fill-rule="evenodd" fill="#3f40c2" d="M258.0 314.0 258.0 568.5 512.5 568.5 512.5 314.0Z"/>
<path fill-rule="evenodd" fill="#3e40cd" d="M258.0 314.0 258.0 568.5 512.5 568.5 512.5 314.0Z"/>
<path fill-rule="evenodd" fill="#3e40d6" d="M258.0 314.0 258.0 568.5 512.5 568.5 512.5 314.0Z"/>
<path fill-rule="evenodd" fill="#3d42dd" d="M258.0 314.0 258.0 568.5 512.5 568.5 512.5 314.0Z"/>
<path fill-rule="evenodd" fill="#3d43e4" d="M258.0 314.0 258.0 568.5 512.5 568.5 512.5 314.0Z"/>
<path fill-rule="evenodd" fill="#3c45ea" d="M258.0 314.0 258.0 568.5 512.5 568.5 512.5 314.0Z"/>
<path fill-rule="evenodd" fill="#3c48f0" d="M258.0 314.0 258.0 568.5 512.5 568.5 512.5 314.0Z"/>
<path fill-rule="evenodd" fill="#3b53f3" d="M402.5 426.5 403.5 425.0 405.5 425.5 404.5 427.0ZM258.0 314.0 258.0 568.5 512.5 568.5 512.5 314.0Z"/>
<path fill-rule="evenodd" fill="#3a5df6" d="M405.5 437.5 408.0 437.0 409.0 438.0 406.5 438.5ZM400.0 427.5 400.0 426.0 403.5 423.5 406.5 423.5 408.0 425.0 408.0 426.0 404.5 428.5 401.5 428.5ZM258.0 314.0 258.0 568.5 512.5 568.5 512.5 314.0Z"/>
<path fill-rule="evenodd" fill="#3968f8" d="M403.0 437.0 405.0 435.5 409.5 436.5 411.0 438.5 409.5 439.5 406.5 439.5ZM409.0 424.0 409.0 426.5 405.0 429.5 400.0 429.5 398.5 428.0 398.5 426.0 402.5 423.0 406.5 422.5ZM258.0 314.0 258.0 568.5 512.5 568.5 512.5 314.0Z"/>
<path fill-rule="evenodd" fill="#3774fa" d="M401.5 436.5 403.0 435.0 407.5 435.0 411.0 436.5 412.0 438.5 410.5 440.0 406.5 440.0 403.0 438.5ZM410.5 425.0 407.5 429.0 402.5 431.0 398.5 430.0 397.0 428.0 397.5 426.0 400.0 423.5 404.0 422.0 407.5 422.0ZM258.0 314.0 258.0 568.5 512.5 568.5 512.5 314.0Z"/>
<path fill-rule="evenodd" fill="#3282fc" d="M400.5 435.5 402.0 434.0 406.0 434.0 410.5 435.5 412.5 437.0 413.0 438.5 410.0 440.5 405.0 440.0 402.0 438.5 400.5 437.0ZM410.5 423.0 410.5 427.0 405.0 431.5 399.5 432.0 396.5 429.5 396.0 428.0 397.0 425.5 402.0 422.0 408.0 421.5ZM258.0 314.0 258.0 568.5 512.5 568.5 512.5 314.0Z"/>
<path fill-rule="evenodd" fill="#2d91fd" d="M399.0 423.0 404.0 421.0 408.0 421.0 411.5 423.5 412.0 425.0 411.0 427.5 406.0 432.0 406.0 433.0 411.5 435.5 413.5 437.5 413.5 439.0 412.5 440.0 404.0 440.0 399.0 436.5 399.0 433.5 395.5 429.5 396.0 426.0ZM258.0 314.0 258.0 568.5 512.5 568.5 512.5 314.0Z"/>
<path fill-rule="evenodd" fill="#299ffe" d="M397.0 424.0 401.0 421.5 405.0 420.5 410.5 421.5 412.0 423.0 412.5 425.5 407.5 432.5 411.5 435.0 414.0 437.5 414.0 439.0 411.0 441.0 407.5 441.0 402.0 439.5 398.0 436.5 394.5 428.5ZM258.0 314.0 258.0 568.5 512.5 568.5 512.5 314.0Z"/>
<path fill-rule="evenodd" fill="#22aefd" d="M395.5 425.0 398.5 422.5 403.0 420.5 409.5 420.5 411.5 421.5 413.0 423.5 413.0 426.0 409.0 431.5 409.0 433.0 414.5 437.5 414.5 439.5 412.0 441.0 406.0 441.0 399.5 438.5 396.5 435.5 394.0 429.5ZM258.0 314.0 258.0 568.5 512.5 568.5 512.5 314.0Z"/>
<path fill-rule="evenodd" fill="#18bcf8" d="M395.0 425.0 398.5 422.0 403.5 420.0 409.5 420.0 411.5 421.0 413.5 423.0 413.5 426.0 410.5 430.5 410.0 433.0 414.5 436.5 415.5 438.5 413.0 441.0 407.5 441.5 401.5 440.0 398.0 438.0 396.0 436.0 393.5 430.5 393.5 428.0ZM500.0 419.5 501.0 420.5 501.0 423.0 500.0 424.0 499.0 423.0 499.0 420.5ZM258.0 314.0 258.0 568.5 512.5 568.5 512.5 314.0Z"/>
<path fill-rule="evenodd" fill="#0fcbf3" d="M395.0 424.5 398.0 422.0 404.5 419.5 409.0 419.5 412.5 421.0 414.0 423.0 414.0 426.0 411.0 431.0 411.0 433.0 415.0 436.5 416.0 438.5 415.5 439.5 412.5 441.5 406.0 441.5 398.0 438.5 395.0 435.5 393.0 430.5 393.0 428.5ZM500.0 416.0 501.5 417.0 502.5 419.5 502.5 424.0 501.0 426.5 499.0 426.5 497.5 424.0 497.5 419.5 498.5 417.0ZM258.0 314.0 258.0 568.5 512.5 568.5 512.5 314.0Z"/>
<path fill-rule="evenodd" fill="#05daee" d="M395.0 424.0 399.0 421.0 403.0 419.5 408.0 419.0 412.5 420.5 414.5 423.0 414.5 426.5 411.5 432.5 415.5 436.5 416.5 438.5 413.5 441.5 409.0 442.0 403.0 441.0 396.5 438.0 394.0 435.0 392.5 430.0 393.0 427.0ZM499.5 414.0 500.5 414.0 502.0 415.5 503.5 420.0 503.0 425.5 501.0 428.0 499.0 428.0 497.5 426.5 496.5 423.5 497.0 417.5ZM258.0 314.0 258.0 568.5 512.5 568.5 512.5 314.0Z"/>
<path fill-rule="evenodd" fill="#00e0e0" d="M393.5 425.5 398.5 421.0 403.5 419.0 410.0 419.0 412.5 420.0 415.0 422.5 415.0 426.5 412.5 431.0 412.5 433.0 416.0 436.5 417.0 438.5 416.5 439.5 412.5 442.0 407.0 442.0 397.5 439.0 394.0 436.0 392.5 433.0 392.5 427.5ZM499.5 412.0 500.5 412.0 502.5 414.0 504.0 418.0 504.0 425.0 503.0 427.5 500.5 429.5 498.5 429.0 496.0 425.0 496.5 416.0ZM258.0 314.0 258.0 568.5 512.5 568.5 512.5 314.0Z"/>
<path fill-rule="evenodd" fill="#00dec9" d="M393.0 425.5 396.5 422.0 402.5 419.0 409.5 418.5 413.5 420.0 415.5 422.5 415.5 426.5 413.0 432.5 416.5 436.5 417.0 439.5 413.5 442.0 405.5 442.0 397.5 439.5 393.5 436.0 392.0 432.5 392.0 427.5ZM499.0 410.5 501.0 410.5 502.5 412.0 504.5 417.0 505.0 420.5 504.5 426.0 503.5 428.0 500.5 430.5 498.5 430.0 496.5 428.0 495.0 423.5 495.5 416.5 497.0 412.5ZM258.0 314.0 258.0 568.5 512.5 568.5 512.5 314.0Z"/>
<path fill-rule="evenodd" fill="#00dcb2" d="M393.0 425.0 397.5 421.0 403.0 418.5 409.0 418.0 413.5 419.5 416.0 422.5 416.0 426.5 414.0 430.5 414.0 433.0 417.5 437.5 417.0 440.5 414.5 442.0 407.5 442.5 396.0 439.0 393.0 436.0 391.5 432.5 391.5 428.0ZM500.0 408.5 503.0 411.0 505.5 419.0 504.5 428.0 501.5 431.0 498.5 431.0 496.0 428.5 494.5 424.5 494.5 418.5 496.0 412.5 497.5 410.0ZM258.0 314.0 258.0 568.5 512.5 568.5 512.5 314.0Z"/>
<path fill-rule="evenodd" fill="#00da9b" d="M431.5 421.0 432.5 422.5 432.0 424.0 431.0 423.5ZM392.0 426.0 395.5 422.0 402.0 418.5 411.0 418.0 415.5 420.5 417.0 424.0 414.5 432.5 418.0 437.5 418.0 440.0 413.5 442.5 406.0 442.5 395.5 439.0 391.5 434.0 391.0 428.5ZM499.0 407.0 500.5 407.0 503.5 410.0 506.0 418.0 505.5 427.5 504.0 430.0 501.0 432.0 498.0 431.5 495.0 428.5 494.0 425.5 494.5 414.5 496.5 409.5ZM258.0 314.0 258.0 568.5 512.5 568.5 512.5 314.0Z"/>
<path fill-rule="evenodd" fill="#00d884" d="M431.5 418.5 433.0 421.0 433.0 425.5 432.0 427.0 431.0 426.5 430.0 423.0 430.5 419.5ZM393.0 424.0 399.0 419.5 404.5 417.5 411.0 417.5 414.5 419.0 416.5 421.0 417.5 423.5 417.0 427.0 415.5 430.0 415.5 433.5 418.5 437.0 418.5 440.0 416.0 442.0 409.5 443.0 402.5 442.0 395.5 439.5 392.0 436.0 390.5 431.5 391.0 427.5ZM499.0 405.5 500.5 405.5 503.0 407.5 505.0 411.5 506.5 417.5 506.0 428.0 504.5 430.5 501.5 432.5 498.5 432.5 494.5 429.0 493.0 422.0 493.5 416.0 495.0 410.5 496.5 407.5ZM258.0 314.0 258.0 568.5 512.5 568.5 512.5 314.0Z"/>
<path fill-rule="evenodd" fill="#00d66d" d="M431.0 417.5 432.5 418.0 433.5 421.0 433.5 426.0 432.0 428.5 430.5 427.5 429.5 424.0 430.0 419.0ZM392.0 425.0 396.0 421.0 403.0 417.5 410.5 417.0 415.5 419.0 418.0 422.5 418.0 425.5 416.0 432.5 419.0 437.0 419.0 440.0 415.5 442.5 407.0 443.0 401.5 442.0 395.0 439.5 392.5 437.5 390.5 433.5 390.5 428.0ZM499.5 403.5 503.5 406.5 505.0 409.5 507.5 421.0 507.0 427.0 506.0 429.5 503.0 432.5 500.0 433.5 497.0 432.5 494.0 429.5 492.5 424.0 492.5 418.0 494.5 409.0 496.5 405.5ZM258.0 314.0 258.0 568.5 512.5 568.5 512.5 314.0Z"/>
<path fill-rule="evenodd" fill="#07d45b" d="M392.0 424.5 397.0 420.0 404.0 417.0 410.5 416.5 415.0 418.0 418.5 422.0 418.5 426.5 417.0 430.5 417.0 433.0 420.0 438.0 419.5 440.0 417.5 442.0 414.5 443.0 405.5 443.0 399.0 441.5 394.5 439.5 392.0 437.5 390.0 433.0 390.0 428.5ZM431.0 416.0 433.0 418.0 434.0 423.0 433.5 428.0 432.0 430.0 430.0 428.5 429.0 423.5 429.5 418.5ZM498.5 402.0 501.5 402.5 504.0 405.5 506.0 410.5 508.0 419.5 508.0 425.0 507.0 429.0 503.5 433.0 501.0 434.0 496.5 433.0 493.5 430.0 492.0 425.5 492.0 416.0 493.0 411.0 495.5 405.0ZM258.0 314.0 258.0 568.5 512.5 568.5 512.5 314.0Z"/>
<path fill-rule="evenodd" fill="#0dd14a" d="M392.0 424.0 394.5 421.5 402.5 417.0 406.5 416.0 411.0 416.0 414.5 417.0 418.5 420.5 419.5 423.5 418.0 430.0 418.0 433.5 420.5 437.5 420.0 440.5 416.0 443.0 407.5 443.5 398.0 441.5 394.5 440.0 391.5 437.5 389.5 432.5 390.0 427.5ZM431.0 415.0 432.5 416.0 434.0 420.5 434.0 428.5 432.0 431.5 430.0 430.0 429.0 427.5 429.0 418.5 429.5 416.5ZM498.5 400.0 500.5 400.0 504.0 403.5 506.0 408.0 508.5 418.0 508.5 426.5 507.5 429.5 504.0 433.5 501.5 434.5 498.5 434.5 495.5 433.0 493.0 430.5 491.0 423.5 491.0 418.0 493.0 407.5 495.5 402.5ZM258.0 314.0 258.0 568.5 512.5 568.5 512.5 314.0Z"/>
<path fill-rule="evenodd" fill="#14cf38" d="M390.5 425.5 394.0 421.5 401.5 417.0 407.0 415.5 411.5 415.5 415.0 416.5 419.5 420.5 420.0 422.0 419.0 433.5 421.0 437.0 421.0 440.0 419.0 442.0 415.0 443.5 406.0 443.5 396.0 441.0 393.0 439.5 390.5 437.0 389.5 434.0 389.5 428.0ZM430.5 414.0 431.5 414.0 433.5 417.0 434.5 422.5 434.0 430.5 432.0 433.0 429.5 431.0 428.5 428.0 428.5 418.0ZM498.0 398.0 501.5 398.5 504.0 401.5 506.5 407.5 509.5 419.5 509.5 425.5 507.5 431.0 505.0 433.5 501.5 435.0 498.5 435.0 495.0 433.5 492.5 431.0 490.5 425.5 490.5 414.0 492.0 407.0 495.0 400.5ZM258.0 314.0 258.0 568.5 512.5 568.5 512.5 314.0Z"/>
<path fill-rule="evenodd" fill="#1acd26" d="M390.5 425.0 395.0 420.5 402.0 416.5 407.0 415.0 414.5 415.5 417.5 417.0 420.0 419.5 421.0 422.0 420.0 433.0 422.0 437.5 422.0 439.5 420.0 442.0 413.0 444.0 404.5 443.5 395.0 441.0 390.5 437.5 389.0 433.5 389.0 428.5ZM431.0 412.5 433.5 416.0 434.5 420.5 434.5 430.5 432.0 434.5 431.0 434.5 429.5 433.0 427.5 425.5 428.5 416.0 429.5 413.5ZM497.5 395.5 501.0 396.0 505.0 401.0 510.5 420.5 510.5 425.0 509.0 430.0 505.0 434.5 502.0 435.5 498.0 435.5 494.5 434.0 492.0 431.5 489.5 425.5 489.0 419.0 491.0 406.0 494.5 398.0ZM258.0 314.0 258.0 568.5 512.5 568.5 512.5 314.0Z"/>
<path fill-rule="evenodd" fill="#20cb15" d="M421.0 419.0 422.5 423.0 421.5 433.0 423.0 437.0 423.0 439.5 421.0 442.0 415.5 444.0 403.0 443.5 394.0 441.0 389.5 436.5 388.5 433.0 388.5 429.0 390.5 424.5 394.5 420.5 401.0 416.5 406.5 414.5 411.5 414.0 417.0 415.5ZM430.0 411.5 431.0 411.5 433.0 414.0 435.0 423.0 435.0 430.0 434.0 434.0 432.5 436.0 430.5 436.0 429.0 434.5 427.0 429.0 427.5 417.0 428.5 413.5ZM496.5 392.5 499.5 392.5 503.5 396.0 506.0 401.0 508.5 412.0 511.5 420.0 511.5 426.5 510.0 430.0 506.0 434.5 502.0 436.0 497.5 436.0 494.0 434.5 490.0 430.0 488.0 424.5 488.0 413.0 490.0 403.0 493.0 396.0ZM258.0 314.0 258.0 568.5 512.5 568.5 512.5 314.0Z"/>
<path fill-rule="evenodd" fill="#27c803" d="M432.0 411.0 435.0 421.0 435.0 433.0 432.5 438.0 430.5 438.5 428.5 437.0 425.0 430.0 424.5 439.5 421.5 442.5 417.5 444.0 408.0 444.5 401.5 443.5 392.5 440.5 389.5 437.0 388.0 432.0 389.0 426.5 390.5 424.0 396.0 419.0 405.0 414.5 413.0 413.0 419.5 415.5 423.0 419.0 425.0 424.0 429.0 410.5 431.0 410.0ZM258.0 314.0 258.0 568.5 512.5 568.5 512.5 427.5 511.5 430.0 505.5 435.5 502.5 436.5 497.5 436.5 493.5 435.0 489.0 430.5 487.0 427.0 485.5 421.0 485.5 411.5 488.5 397.0 491.5 392.0 496.5 388.5 500.0 389.5 503.5 393.5 506.0 398.5 508.5 407.0 509.0 411.5 512.5 419.5 512.5 314.0Z"/>
<path fill-rule="evenodd" fill="#40ce00" d="M430.0 403.5 430.5 407.5 434.0 415.0 435.5 423.5 435.5 434.0 434.5 438.0 432.5 440.5 426.0 440.5 421.0 443.5 417.0 444.5 405.5 444.5 393.5 441.5 390.0 439.0 388.0 434.5 388.0 428.5 390.5 423.5 393.5 420.5 401.5 415.5 410.0 412.0 413.0 411.5 417.5 412.0 423.5 415.5 425.0 415.5 427.0 411.5 427.0 409.0 423.5 405.5 423.5 404.0 427.0 401.5ZM258.0 314.0 258.0 568.5 512.5 568.5 512.5 431.5 506.0 436.0 502.5 437.0 497.0 437.0 494.0 436.0 490.5 433.5 481.5 424.0 479.5 415.0 478.0 399.0 478.0 391.5 479.0 390.0 483.5 388.5 490.5 387.5 494.0 386.0 498.5 385.5 502.0 388.5 505.0 393.5 508.0 402.0 509.5 411.5 512.5 416.5 512.5 314.0Z"/>
<path fill-rule="evenodd" fill="#5dd500" d="M429.5 401.0 431.0 403.0 431.5 407.5 434.0 414.0 435.5 422.0 436.0 436.0 435.0 440.5 431.5 443.0 425.5 442.5 416.5 445.0 407.0 445.0 395.0 442.5 391.5 441.0 389.0 438.0 387.5 434.0 388.0 427.0 390.5 423.0 395.0 419.0 400.0 416.0 417.0 408.0 423.5 401.0ZM258.0 314.0 258.0 568.5 512.5 568.5 512.5 433.5 504.0 437.5 497.0 437.5 493.5 436.5 487.5 432.5 482.0 430.5 480.5 429.0 479.0 425.5 475.0 393.5 475.5 388.5 478.5 386.0 484.0 384.5 491.5 384.5 496.0 383.5 499.5 384.0 503.0 387.5 506.0 393.0 509.0 403.0 510.0 411.0 512.5 414.5 512.5 314.0Z"/>
<path fill-rule="evenodd" fill="#7adc00" d="M429.5 400.0 431.5 402.5 432.0 407.5 435.5 420.5 436.5 430.5 436.0 441.5 433.5 444.0 422.5 444.0 419.5 445.0 410.5 445.5 399.5 444.0 390.5 441.0 388.5 438.0 387.0 433.0 387.5 427.5 390.0 423.0 397.5 417.0 410.0 410.0 421.5 400.5 424.0 399.5ZM258.0 314.0 258.0 568.5 512.5 568.5 512.5 435.0 508.0 436.0 504.5 438.0 495.5 438.0 487.5 434.0 481.0 433.0 479.0 430.5 477.5 425.0 474.0 396.5 474.0 388.0 476.5 384.5 484.5 382.5 499.0 382.0 502.5 384.5 506.0 390.5 509.5 402.0 510.5 410.5 512.5 413.0 512.5 314.0Z"/>
<path fill-rule="evenodd" fill="#97e300" d="M431.0 400.5 435.0 416.5 436.5 427.0 437.0 442.0 435.0 444.5 406.0 445.5 392.5 442.5 389.0 440.5 389.5 440.0 387.0 435.0 386.5 430.5 388.5 424.5 392.5 420.0 407.0 411.0 416.0 403.0 420.5 400.0 423.0 399.0 429.0 399.0ZM258.0 314.0 258.0 568.5 512.5 568.5 512.5 436.5 507.5 437.0 503.5 438.5 493.5 438.0 486.0 435.0 480.0 435.0 478.5 433.5 476.5 425.5 473.0 396.0 473.0 387.0 475.5 383.5 481.5 381.5 499.5 381.0 503.5 384.0 506.0 388.0 509.5 398.5 511.0 406.0 511.0 410.0 512.5 412.0 512.5 314.0Z"/>
<path fill-rule="evenodd" fill="#b3eb00" d="M430.0 399.0 432.5 403.0 433.0 408.5 435.0 415.5 438.0 437.5 437.5 443.0 434.0 446.0 407.0 446.0 390.5 442.5 388.5 440.5 386.5 435.0 386.5 428.0 389.5 422.5 394.0 418.5 402.0 414.0 410.5 407.0 412.5 404.5 419.0 400.0 423.5 398.0 427.5 398.0ZM258.0 314.0 258.0 568.5 512.5 568.5 512.5 437.5 508.5 437.5 504.0 439.0 495.5 439.0 487.5 436.5 480.5 437.0 477.0 435.0 477.0 430.5 475.0 420.5 474.5 411.5 472.0 394.5 472.0 386.5 474.5 382.5 482.5 380.0 500.0 380.0 505.0 384.5 507.0 388.0 511.0 402.0 511.5 410.0 512.5 411.0 512.5 314.0Z"/>
<path fill-rule="evenodd" fill="#d0f200" d="M429.5 398.0 432.5 401.5 433.5 409.5 436.0 420.0 438.5 437.5 438.5 442.5 437.5 444.5 435.0 446.5 408.0 446.5 389.0 442.5 386.0 435.0 386.0 428.5 389.0 422.5 394.0 418.0 403.5 412.5 415.0 401.5 423.0 397.5ZM258.0 314.0 258.0 568.5 512.5 568.5 512.5 439.0 509.5 439.0 508.0 438.0 504.5 439.5 495.0 439.5 491.5 438.0 489.5 438.5 487.0 437.5 481.5 438.5 478.0 438.0 475.5 436.5 476.0 430.0 474.5 423.0 473.5 410.0 471.0 393.5 471.0 386.5 474.0 381.5 482.5 379.0 500.0 379.0 505.0 383.0 507.5 387.0 511.0 398.5 512.5 410.0 512.5 314.0Z"/>
<path fill-rule="evenodd" fill="#edf900" d="M429.5 397.5 432.5 400.5 439.0 438.0 439.0 443.0 438.0 445.0 434.5 447.5 408.5 447.0 401.0 446.0 392.0 443.5 388.5 443.5 385.5 434.5 385.5 428.5 388.5 422.5 394.0 417.5 404.0 411.5 405.0 409.5 412.0 403.0 418.5 398.5 422.5 397.0ZM258.0 314.0 258.0 568.5 512.5 568.5 512.5 440.0 510.5 439.0 507.5 439.0 503.0 440.5 499.5 440.5 488.5 438.5 484.5 439.5 477.0 439.5 473.5 436.5 475.0 432.0 475.0 429.0 474.0 425.5 473.0 413.0 470.0 392.5 470.0 386.0 471.0 383.5 476.0 379.5 482.0 378.0 500.0 378.0 502.0 379.0 506.0 383.0 508.5 387.5 511.0 394.5 512.5 409.5 512.5 314.0Z"/>
<path fill-rule="evenodd" fill="#f4ef00" d="M430.5 397.5 432.5 400.0 433.5 403.0 434.5 412.5 439.5 438.5 439.5 443.0 437.5 446.5 435.0 448.0 407.0 447.5 393.5 444.5 388.0 445.0 385.0 434.5 385.0 429.0 388.0 422.5 392.5 418.0 403.5 411.0 408.5 405.0 415.0 399.5 422.5 396.5ZM258.0 314.0 258.0 568.5 512.5 568.5 512.5 440.5 506.5 440.0 504.0 441.0 495.0 441.0 492.5 440.0 485.5 439.5 477.5 441.0 475.5 440.5 472.0 437.0 472.0 434.0 474.0 430.0 472.5 423.0 471.5 410.0 468.5 388.5 470.0 382.5 474.0 379.5 481.5 377.5 500.5 377.5 502.5 378.5 506.5 382.5 509.0 387.0 512.0 397.5 512.5 404.0 512.5 314.0Z"/>
<path fill-rule="evenodd" fill="#f6e100" d="M431.5 398.0 433.5 402.0 434.5 411.5 439.5 436.0 439.5 445.0 435.0 448.5 414.0 448.5 405.5 448.0 394.5 445.5 390.5 445.5 388.5 446.5 386.5 444.5 384.5 434.5 384.5 429.0 387.0 423.0 393.0 417.0 402.0 411.5 414.0 400.0 420.5 396.5 426.0 396.0 429.0 396.5ZM425.0 371.0 432.5 368.5 438.0 368.5 442.5 372.0 447.5 380.0 446.0 381.5 444.0 379.5 440.5 373.5 437.0 371.0 430.0 372.0 425.5 372.0ZM258.0 314.0 258.0 568.5 512.5 568.5 512.5 441.5 506.0 441.0 503.0 442.0 495.5 442.0 488.0 440.5 478.0 442.0 473.5 441.0 472.5 440.0 468.5 431.5 468.0 425.0 465.5 415.0 464.0 394.5 464.0 383.0 461.5 368.0 463.0 366.5 464.5 368.0 466.0 376.5 468.0 381.5 471.0 381.0 473.5 379.0 478.5 378.0 481.5 376.5 500.0 376.5 503.0 378.0 507.0 382.0 509.5 386.5 512.0 394.0 512.5 399.0 512.5 314.0Z"/>
<path fill-rule="evenodd" fill="#f9d300" d="M430.0 396.5 433.0 399.5 434.0 403.0 435.0 413.0 440.5 440.0 440.0 445.5 435.5 449.0 419.0 448.5 410.0 450.0 414.5 452.0 415.5 453.0 415.0 453.5 393.0 450.0 387.5 447.5 385.5 444.5 385.5 440.5 384.0 435.0 384.0 428.5 387.5 421.5 393.5 416.0 403.0 410.0 413.5 399.5 419.5 396.0 427.5 395.5ZM422.0 371.0 424.0 369.5 431.5 367.5 439.0 367.5 444.0 372.0 448.5 380.5 447.0 382.5 444.5 382.0 440.0 375.0 437.5 372.5 435.0 372.0 424.5 373.5 423.0 373.0ZM258.0 314.0 258.0 568.5 512.5 568.5 512.5 442.5 506.0 442.0 495.5 443.0 487.0 442.0 483.5 443.0 475.5 443.0 471.5 441.0 467.5 431.5 464.5 415.5 462.5 391.0 462.5 377.5 461.0 367.5 462.5 366.0 463.5 366.0 465.0 367.5 467.0 376.0 469.5 379.5 474.5 377.5 483.5 375.5 501.5 376.0 508.0 382.0 510.5 387.0 512.5 394.5 512.5 314.0Z"/>
<path fill-rule="evenodd" fill="#fbc500" d="M512.0 452.5 512.0 453.5 510.5 455.0 494.5 458.0 486.5 458.0 482.0 456.5 484.0 455.0 508.5 452.0ZM472.0 450.0 476.5 449.5 479.5 451.5 477.5 453.0 473.5 452.5 472.0 451.0ZM431.0 396.5 434.0 401.5 434.5 409.0 438.0 428.5 440.0 435.5 441.0 444.0 438.0 448.0 435.5 449.5 421.5 449.5 420.0 450.5 423.0 452.0 436.0 454.5 438.0 456.0 438.0 457.0 436.0 458.5 425.0 457.5 391.5 451.0 387.0 448.5 385.0 445.5 384.5 438.5 383.5 435.5 383.5 428.0 387.5 420.5 392.5 416.0 402.5 409.5 413.0 399.0 419.0 395.5 425.5 394.5ZM421.0 371.0 423.0 369.0 436.0 366.0 438.5 366.5 443.5 370.0 449.0 378.5 449.0 381.5 446.5 383.5 444.5 383.0 442.5 381.0 439.0 375.0 436.5 373.0 423.5 374.0 421.5 372.5ZM258.0 314.0 258.0 568.5 512.5 568.5 512.5 444.0 487.0 443.5 484.0 444.5 477.0 445.0 472.5 443.5 470.0 441.0 470.0 439.0 466.5 431.5 463.0 411.0 462.0 399.5 462.0 380.5 460.5 370.0 461.0 366.5 464.0 365.5 465.5 367.0 467.5 374.5 470.0 378.0 481.5 374.5 501.5 375.0 507.5 380.0 511.0 386.0 512.5 391.0 512.5 314.0Z"/>
<path fill-rule="evenodd" fill="#feb700" d="M421.5 394.0 426.5 394.0 430.5 395.5 432.5 397.5 434.5 403.0 435.0 411.0 441.5 443.0 440.5 446.0 438.0 449.0 435.5 450.5 430.5 451.5 437.5 453.5 439.5 455.0 439.0 458.0 436.5 459.5 431.0 459.5 391.5 452.0 388.0 450.5 385.5 448.0 384.0 444.0 382.5 430.0 385.5 422.0 392.0 415.5 402.5 408.5 413.0 398.0ZM421.0 369.5 423.5 368.0 433.0 365.5 439.5 366.0 444.5 370.0 449.5 378.0 450.0 381.0 447.5 384.0 445.0 384.0 442.0 381.5 437.5 374.5 423.5 374.5 420.5 372.5ZM258.0 314.0 258.0 568.5 512.5 568.5 512.5 455.5 510.5 456.5 493.5 459.5 476.5 459.0 473.5 457.0 472.0 453.0 469.5 450.0 470.0 448.5 472.5 447.0 472.5 445.5 470.5 444.0 468.0 438.5 468.0 436.5 465.5 430.5 463.5 419.5 461.0 400.0 461.0 375.0 460.0 367.5 461.5 365.5 464.5 365.5 466.5 368.0 469.0 375.5 470.5 376.5 480.5 373.5 501.5 374.0 505.0 376.0 509.5 381.0 512.5 388.5 512.5 314.0Z"/>
<path fill-rule="evenodd" fill="#fea900" d="M422.0 393.0 426.0 393.0 430.5 395.0 432.5 397.0 434.5 402.0 436.0 415.5 441.5 440.5 441.0 446.0 437.5 450.5 437.5 452.0 439.5 453.0 440.5 454.5 440.5 457.0 438.5 459.5 436.5 460.5 425.5 459.5 390.5 452.5 387.5 451.0 385.0 448.5 383.5 445.5 382.0 435.5 382.0 428.5 385.0 421.5 389.5 416.5 399.5 410.0 413.0 397.0 418.5 394.0ZM420.0 370.0 422.5 367.5 434.0 364.5 439.5 365.0 442.0 366.5 446.0 371.0 450.5 378.5 450.5 382.0 448.5 384.5 446.0 385.0 440.0 380.0 436.5 375.0 423.5 375.0 420.0 373.0ZM258.0 314.0 258.0 568.5 512.5 568.5 512.5 457.0 510.5 458.0 492.5 461.0 476.5 461.0 472.5 457.5 471.0 453.5 468.5 450.0 470.0 445.5 468.0 442.0 468.0 440.0 464.5 429.5 461.5 406.0 460.0 401.0 459.5 392.5 460.5 383.0 459.5 367.5 461.5 365.0 463.0 364.5 466.0 366.0 469.0 373.5 471.0 375.0 474.5 374.5 481.0 372.0 496.0 372.0 502.5 373.0 505.5 375.0 510.0 380.0 512.5 386.0 512.5 314.0Z"/>
<path fill-rule="evenodd" fill="#fc9900" d="M421.0 392.0 426.0 392.0 429.5 393.5 432.5 396.5 434.5 400.5 437.0 420.0 442.0 441.0 441.5 446.5 439.5 450.0 441.5 454.0 441.5 456.5 438.0 460.5 435.5 461.5 423.5 460.0 391.0 453.5 387.5 452.0 384.0 448.5 382.5 444.5 382.5 441.0 381.0 435.0 381.0 429.0 383.0 423.0 385.0 420.0 390.0 415.0 400.0 408.5 412.0 396.5ZM419.0 370.5 422.0 367.0 434.0 363.5 439.5 364.0 441.5 365.0 446.5 370.5 451.0 378.0 451.0 383.0 449.5 385.0 447.0 386.0 442.0 383.0 435.5 375.5 422.0 375.0 419.5 373.5ZM258.0 314.0 258.0 568.5 512.5 568.5 512.5 463.5 499.0 467.5 482.0 468.0 479.0 467.0 476.0 464.0 468.0 450.5 468.0 445.0 466.5 441.5 466.0 437.0 463.5 428.5 461.0 406.0 459.0 401.0 458.0 395.5 459.5 384.5 459.0 368.0 461.5 364.5 465.5 365.0 467.0 366.5 468.5 371.0 471.0 373.5 475.5 372.5 481.0 370.0 493.0 370.0 501.0 371.0 505.0 373.0 509.0 377.0 512.5 383.0 512.5 314.0Z"/>
<path fill-rule="evenodd" fill="#fb8a00" d="M418.0 391.0 425.0 390.5 428.5 392.0 432.0 395.0 434.5 400.0 437.0 419.0 442.0 440.0 442.0 446.5 441.0 448.5 442.0 456.5 441.0 458.5 436.5 462.0 427.0 461.5 389.5 454.0 384.0 450.0 382.0 446.0 380.0 435.5 380.0 428.5 383.0 421.0 389.5 414.0 399.5 407.5 411.5 395.0ZM418.5 369.5 420.5 367.0 423.5 365.5 435.0 362.0 439.5 362.5 441.5 363.5 445.5 367.5 451.0 376.5 452.5 380.0 452.0 383.5 450.0 386.5 448.0 387.0 440.5 382.5 434.5 376.5 424.5 376.0 420.5 375.0 418.0 372.0ZM258.0 314.0 258.0 568.5 512.5 568.5 512.5 479.5 510.0 480.0 506.0 484.0 501.0 485.5 482.5 485.0 475.5 483.5 473.5 481.5 473.0 478.0 474.5 470.5 474.0 463.5 467.0 449.5 467.0 446.5 465.0 441.0 463.0 429.5 462.5 418.0 460.5 406.0 455.5 393.0 459.0 380.5 459.0 366.5 462.0 364.0 465.5 364.5 470.5 371.5 473.5 371.5 478.5 368.0 483.5 366.0 491.0 366.5 499.5 368.5 505.0 371.0 511.0 377.5 512.5 380.5 512.5 314.0Z"/>
<path fill-rule="evenodd" fill="#f97a00" d="M416.0 389.0 423.0 389.0 428.5 391.0 432.5 395.0 435.0 401.0 437.5 420.5 442.0 438.0 442.0 451.5 443.0 453.5 441.5 458.5 437.5 462.5 436.0 463.0 424.5 462.0 389.5 455.0 385.0 452.5 381.0 446.5 378.5 434.5 378.5 429.5 382.0 420.0 388.5 413.0 399.5 405.5 413.0 391.0ZM258.0 314.0 258.0 568.5 512.5 568.5 512.5 483.5 508.0 487.5 501.0 489.5 486.0 489.5 475.0 487.5 472.0 486.0 471.0 484.5 471.0 480.5 473.5 469.0 473.0 463.0 466.5 450.0 466.0 446.5 464.0 442.0 463.0 436.5 463.5 431.5 460.5 407.5 456.0 395.5 451.5 389.5 446.0 386.5 443.5 384.0 439.5 382.5 435.0 378.0 419.0 375.0 417.0 372.5 418.0 368.5 421.0 365.5 427.5 363.0 439.0 356.5 441.0 358.0 446.5 367.0 449.0 372.5 453.0 378.5 454.0 383.5 455.5 384.0 457.0 382.5 458.5 377.5 459.0 366.0 461.0 364.0 464.5 363.5 466.5 364.5 470.5 369.5 472.5 369.5 475.0 367.5 477.0 364.5 480.5 356.5 484.0 354.0 487.5 355.5 497.0 363.5 506.0 369.0 512.5 377.0 512.5 314.0Z"/>
<path fill-rule="evenodd" fill="#f76a00" d="M413.0 385.0 428.5 390.0 433.0 395.0 435.0 400.0 437.5 419.5 443.0 442.0 443.5 455.0 442.0 458.5 438.5 462.5 436.0 464.0 433.0 464.5 388.5 456.0 385.5 454.5 381.5 450.5 378.5 443.5 376.5 431.0 377.5 425.5 379.5 420.5 385.0 413.5 395.0 406.5 401.0 401.0ZM258.0 314.0 258.0 568.5 512.5 568.5 512.5 488.0 508.5 491.0 502.5 492.5 484.5 492.5 473.5 490.5 470.0 488.5 469.0 486.5 469.0 484.0 472.0 474.5 472.5 464.0 470.5 458.0 466.0 450.0 462.5 438.5 463.0 430.5 462.0 418.0 460.0 406.5 456.5 398.0 452.5 391.5 444.0 384.5 439.0 383.0 435.0 379.0 433.0 378.0 418.0 375.5 416.0 374.0 415.5 372.5 417.0 367.5 421.0 363.5 423.5 362.5 427.0 359.5 434.5 347.0 446.0 335.5 449.0 335.5 451.0 338.5 447.0 351.0 446.0 362.5 451.0 374.0 455.0 379.0 456.5 379.0 457.5 377.0 458.0 367.0 460.5 364.0 464.0 363.0 467.5 364.5 470.0 367.0 472.0 367.0 473.0 366.0 475.5 360.0 477.0 347.0 478.0 344.5 480.0 343.0 485.0 344.0 489.5 348.0 499.0 358.5 509.0 368.0 512.5 373.0 512.5 314.0Z"/>
<path fill-rule="evenodd" fill="#f55b00" d="M258.0 314.0 258.0 568.5 512.5 568.5 512.5 494.0 510.5 495.5 502.0 497.5 485.0 497.5 471.5 495.0 469.0 494.0 467.0 492.0 466.5 488.5 471.5 474.0 472.0 464.0 470.5 459.0 464.0 446.5 462.0 438.5 463.0 431.0 460.0 408.0 455.0 395.5 450.5 390.0 443.0 384.0 438.0 383.0 435.0 380.0 430.5 378.0 423.0 376.5 418.0 376.5 415.0 378.5 415.0 381.5 416.5 384.5 419.5 386.5 427.5 388.5 432.5 393.5 435.0 399.0 437.5 418.5 443.5 443.0 444.0 455.0 442.5 458.5 436.5 465.0 434.5 466.0 426.0 465.5 386.0 457.5 381.5 454.5 377.5 449.5 373.5 437.0 373.5 427.5 377.0 418.0 379.0 415.0 385.5 408.5 396.5 399.5 401.0 392.5 408.0 378.5 409.5 377.0 414.5 365.5 428.5 343.5 442.0 329.0 451.5 325.5 456.0 325.5 460.0 329.0 461.0 331.5 460.0 334.0 453.0 343.0 451.0 347.0 448.5 356.0 449.0 367.0 452.0 373.5 454.5 376.0 456.5 375.5 457.5 367.0 460.5 363.5 466.0 363.0 468.5 364.5 471.0 364.5 472.5 362.5 474.0 355.5 474.0 348.0 472.0 335.5 473.0 335.5 473.0 334.5 476.0 332.5 480.5 333.0 488.5 338.0 504.0 353.0 512.5 364.0 512.5 314.0Z"/>
<path fill-rule="evenodd" fill="#f04e00" d="M419.0 377.0 416.5 379.5 416.5 382.0 417.5 384.0 419.5 385.5 428.5 388.5 432.5 392.5 434.5 396.5 436.0 403.0 436.0 407.5 438.0 420.0 444.0 444.0 444.0 456.5 437.5 465.0 435.0 470.0 436.0 481.0 438.5 487.0 443.5 493.0 450.0 496.0 456.5 495.5 460.5 493.5 466.0 487.0 469.0 480.5 471.5 471.5 471.0 461.5 464.0 448.0 461.5 437.5 461.5 435.5 463.0 432.0 462.0 428.5 461.5 418.0 459.5 407.0 453.5 394.0 449.0 389.0 443.5 384.5 441.0 383.5 438.0 383.5 434.0 380.0 430.5 378.5 423.5 377.0ZM466.0 338.5 463.5 338.0 459.5 339.5 455.0 344.0 452.0 349.5 450.0 357.5 450.0 364.5 451.5 369.5 454.0 373.0 456.0 372.5 457.0 366.5 459.0 364.0 461.5 362.5 469.5 363.0 471.0 361.5 472.0 358.0 472.0 349.0 469.0 341.0Z"/>
<path fill-rule="evenodd" fill="#eb4200" d="M451.5 431.5 454.5 433.5 454.5 440.5 451.5 435.0ZM419.5 377.5 417.5 379.5 417.5 382.0 418.5 384.0 429.5 388.5 433.0 392.5 435.0 397.0 438.5 421.5 444.5 444.5 445.0 454.5 443.0 459.0 439.0 464.0 437.0 469.0 437.0 475.5 438.0 480.0 440.5 486.0 445.0 491.0 451.0 493.5 457.0 493.0 461.0 491.0 464.5 487.5 468.0 481.5 471.0 472.0 470.5 461.5 467.5 454.5 463.5 448.0 461.0 436.5 462.5 433.5 459.5 408.0 454.0 395.0 442.5 384.0 438.0 384.0 433.5 380.5 430.0 379.0 423.5 377.5ZM464.5 341.5 461.5 341.5 459.5 342.5 455.5 346.5 453.0 351.5 451.5 357.5 451.5 364.0 452.5 367.5 454.0 369.5 455.0 369.5 456.5 366.0 459.5 363.0 462.0 362.0 468.0 362.0 470.0 360.0 470.0 348.5 468.0 344.0Z"/>
<path fill-rule="evenodd" fill="#e53500" d="M450.0 430.0 455.0 433.5 456.0 439.0 455.5 443.0 454.5 443.0 452.5 440.5 449.5 432.0ZM420.0 378.0 418.0 381.0 419.0 383.5 429.0 387.5 432.5 391.0 435.0 396.0 439.0 422.5 445.0 444.5 445.5 454.5 438.5 466.5 438.5 478.0 441.0 484.5 446.0 490.0 450.5 492.0 456.0 492.0 462.0 489.0 466.5 483.5 470.0 475.0 471.0 468.5 470.5 462.5 467.0 454.5 463.5 449.0 461.0 438.0 461.0 435.5 462.5 433.5 459.0 407.0 453.0 394.0 443.0 384.5 437.0 384.0 432.5 380.5 424.0 378.0ZM464.0 344.0 461.5 344.0 459.5 345.0 456.5 348.0 454.5 351.5 453.0 356.5 453.0 363.5 454.5 366.0 460.5 362.0 468.0 360.5 469.0 358.5 469.0 351.5 468.0 348.0Z"/>
<path fill-rule="evenodd" fill="#e02900" d="M449.0 429.0 452.0 430.5 455.5 434.0 456.5 439.5 456.5 443.5 455.5 444.5 452.5 442.0 451.0 439.0 448.5 431.0ZM420.5 378.5 419.0 380.0 419.5 383.0 428.5 386.5 433.0 391.0 435.0 395.0 439.0 421.5 445.5 445.0 446.0 454.0 439.0 467.0 438.5 472.5 439.5 478.5 442.0 484.5 445.5 488.5 450.5 491.0 456.0 491.0 460.0 489.5 464.5 485.5 468.0 479.5 470.5 470.5 470.0 462.0 467.5 456.0 463.0 449.0 460.5 436.5 462.5 433.0 459.0 408.0 453.0 394.5 443.0 384.5 436.5 384.5 434.0 382.0 430.0 380.0 424.0 378.5ZM464.5 347.0 461.0 346.5 457.0 350.0 454.5 356.0 454.5 362.5 455.5 363.5 467.0 359.5 468.0 355.5 467.5 351.5 466.5 349.0Z"/>
<path fill-rule="evenodd" fill="#db1c00" d="M448.0 428.0 450.5 429.0 455.5 433.5 457.0 440.5 457.0 444.0 456.0 445.5 453.5 444.5 451.0 441.0 447.5 430.0ZM420.5 379.0 419.5 380.5 420.0 382.5 430.0 387.0 432.5 389.5 435.0 394.0 436.5 400.0 438.5 418.0 442.5 434.5 446.0 444.5 446.5 454.0 441.5 462.5 439.5 467.5 439.5 475.5 441.0 481.0 444.5 486.5 450.0 490.0 454.5 490.5 458.5 489.5 461.0 488.0 466.0 482.5 469.0 476.0 470.0 471.5 469.5 461.5 466.5 455.0 463.0 450.0 460.5 436.0 462.5 432.0 458.5 407.0 452.5 394.0 443.5 385.0 441.0 384.0 436.5 385.0 431.0 381.0 423.5 379.0ZM463.5 349.0 461.0 349.0 457.5 352.0 456.0 356.0 456.5 361.5 460.5 361.0 465.5 359.0 466.5 355.0 466.0 352.5Z"/>
<path fill-rule="evenodd" fill="#d50f00" d="M447.0 427.0 451.0 429.0 455.5 433.5 457.5 442.5 457.0 445.5 455.5 446.5 451.5 443.5 450.0 440.5 446.5 429.0ZM421.5 379.5 420.5 380.5 420.5 382.0 429.5 386.0 433.5 390.0 435.5 394.0 439.5 421.5 443.0 435.0 446.5 444.0 447.0 453.5 440.0 467.5 440.5 477.5 443.0 483.5 446.0 487.0 451.0 489.5 456.5 489.5 461.5 487.0 465.5 482.5 468.5 476.5 470.0 469.0 469.0 461.0 462.5 449.5 462.5 446.0 460.5 438.5 460.5 435.5 462.0 433.5 462.0 430.0 458.5 407.5 452.5 394.5 442.5 384.5 438.5 384.5 436.5 385.5 432.0 382.0ZM462.0 351.5 460.5 352.0 458.0 355.0 457.5 359.0 458.5 360.0 462.0 359.5 464.5 357.5 464.0 353.0Z"/>
<path fill-rule="evenodd" fill="#d00d08" d="M446.5 426.0 449.0 427.0 456.0 434.0 457.5 441.0 457.5 445.5 456.0 447.0 453.0 446.0 449.5 441.5 446.0 429.5ZM422.0 380.5 421.5 381.0 422.5 382.0 430.0 385.5 433.0 388.5 435.5 393.0 437.0 399.0 437.5 409.0 439.5 420.0 442.5 432.0 447.5 445.5 447.5 453.5 445.5 458.0 442.0 463.0 440.5 467.5 441.0 477.5 443.5 483.0 446.5 486.5 451.5 489.0 456.0 489.0 459.0 488.0 464.0 484.0 468.0 477.0 469.5 471.0 469.0 462.0 466.0 455.5 462.5 450.5 462.0 444.0 460.0 437.0 462.0 433.5 458.5 408.5 453.0 395.5 443.0 385.0 439.0 384.5 436.0 386.0 431.5 382.5Z"/>
<path fill-rule="evenodd" fill="#cb0f13" d="M445.5 425.0 447.5 425.5 456.0 433.5 458.0 442.5 458.0 445.0 456.5 447.5 454.5 447.5 451.5 446.0 448.5 442.5 445.0 428.0ZM428.0 383.0 433.0 387.5 436.5 394.0 438.0 411.0 439.5 418.5 444.0 435.0 448.5 445.0 447.5 455.0 443.0 462.0 441.0 467.0 441.0 475.0 442.0 479.0 444.5 483.5 449.0 487.5 452.0 488.5 457.5 488.0 462.5 485.0 467.0 478.5 469.0 472.0 468.5 461.5 462.0 450.0 462.0 445.5 460.0 436.0 462.0 433.0 460.5 419.0 458.0 407.5 453.5 396.5 443.5 385.5 439.5 384.5 435.5 386.5 431.5 383.5Z"/>
<path fill-rule="evenodd" fill="#c6101e" d="M440.5 384.5 435.5 387.5 434.0 387.5 437.0 394.0 438.5 412.5 443.0 430.0 445.5 435.5 444.0 424.0 446.5 424.0 455.5 432.5 458.0 441.0 458.0 446.0 456.0 448.5 451.0 446.5 449.0 447.0 448.0 455.0 442.0 465.0 441.5 475.0 444.0 482.0 447.0 485.5 450.5 487.5 455.5 488.0 460.5 486.0 465.0 481.5 468.5 473.0 469.0 465.0 468.0 461.0 465.5 456.0 462.0 451.5 461.5 443.5 460.0 438.5 460.0 435.5 462.0 431.5 461.0 428.5 460.0 417.5 457.5 406.5 452.0 394.5 442.5 385.0Z"/>
<path fill-rule="evenodd" fill="#c21129" d="M439.0 385.0 436.0 389.0 438.0 396.5 438.0 405.0 439.0 413.0 442.5 424.5 443.0 422.0 444.5 421.0 456.0 433.0 458.5 443.0 458.0 447.0 456.0 449.0 454.0 449.0 452.5 448.0 449.5 448.5 449.0 453.5 444.0 461.5 442.0 466.5 442.0 475.5 444.0 481.0 448.0 485.5 451.0 487.0 455.5 487.5 460.5 485.5 465.5 480.0 468.5 472.0 468.5 464.0 466.0 457.5 462.0 452.5 461.5 450.5 461.5 444.5 459.5 437.0 460.0 435.0 461.5 433.5 461.0 424.5 457.0 406.0 454.0 398.5 450.5 393.0 443.0 385.5Z"/>
<path fill-rule="evenodd" fill="#bd1334" d="M439.5 385.0 437.0 387.5 438.5 396.5 438.5 406.0 439.5 413.5 441.0 418.0 442.0 419.0 443.0 418.5 449.5 426.5 456.5 433.5 458.5 442.0 458.5 446.5 456.5 449.5 450.0 449.5 449.5 454.0 443.0 464.5 442.0 472.5 443.0 477.5 446.0 483.0 451.0 486.5 455.5 487.0 460.5 485.0 465.5 479.5 468.0 473.0 468.5 466.0 467.0 460.0 461.5 452.0 461.5 445.5 459.5 438.0 459.5 435.5 461.5 433.5 460.0 419.0 457.0 406.5 451.5 394.5 443.0 385.5Z"/>
<path fill-rule="evenodd" fill="#bb1842" d="M440.0 385.0 437.5 387.0 437.0 388.5 439.0 396.5 438.5 401.5 440.5 414.5 444.5 418.5 448.0 424.5 456.5 433.0 459.0 444.0 457.5 449.0 455.5 450.5 452.0 450.5 444.5 462.0 442.5 468.0 442.5 473.0 443.5 477.5 445.5 481.5 449.0 485.0 451.0 486.0 455.5 486.5 460.5 484.5 464.5 480.5 467.0 475.5 468.0 471.5 468.0 464.5 465.5 458.0 461.5 453.0 461.0 451.0 461.0 444.0 459.0 436.0 461.0 434.0 461.5 431.0 460.0 419.5 457.0 407.0 452.0 395.5 442.5 385.5Z"/>
<path fill-rule="evenodd" fill="#c32459" d="M439.5 385.5 438.0 386.5 437.5 389.0 439.5 396.5 439.0 402.0 440.5 412.0 445.0 418.0 448.0 424.0 457.0 433.5 459.0 442.0 459.0 446.5 457.5 449.5 456.0 451.0 452.5 452.0 445.5 461.0 443.0 467.5 443.0 473.5 444.0 477.5 446.5 482.0 451.5 485.5 455.5 486.0 460.5 484.0 465.0 479.0 467.5 472.5 467.5 463.5 465.5 458.5 461.0 452.5 461.0 445.0 459.0 435.5 461.0 433.5 461.5 431.5 460.5 428.5 459.5 418.0 457.0 407.5 452.5 396.5 442.5 385.5Z"/>
<path fill-rule="evenodd" fill="#cb3170" d="M439.5 385.5 438.0 387.0 438.0 389.5 440.0 397.5 439.5 401.5 441.5 412.5 445.0 417.0 448.0 423.5 457.0 433.0 459.0 440.5 459.5 444.5 458.5 448.5 455.5 452.0 452.0 453.5 448.0 458.0 444.5 464.0 443.5 467.5 443.5 473.5 446.0 480.5 449.5 484.0 455.5 485.5 460.5 483.5 465.0 478.5 467.5 471.0 467.5 465.5 465.0 458.5 461.5 454.5 460.5 452.0 461.0 447.0 458.5 435.5 461.0 433.0 461.0 430.0 457.0 408.0 452.0 396.0 442.0 385.5Z"/>
<path fill-rule="evenodd" fill="#d33e87" d="M459.5 441.0 459.5 446.5 458.5 449.0 455.0 453.0 452.5 454.0 448.5 458.0 444.0 467.0 444.0 474.0 446.0 479.5 449.0 483.0 454.0 485.0 457.5 484.5 460.5 483.0 464.0 479.5 467.0 472.0 466.5 462.5 465.5 460.0 460.5 453.5 460.5 445.0ZM440.5 385.5 438.5 387.0 438.0 388.5 440.0 394.5 440.0 400.5 442.5 412.5 450.0 425.5 457.5 433.5 460.0 434.0 461.0 433.0 459.5 419.5 457.0 409.0 454.0 401.0 451.0 395.0 442.5 386.0Z"/>
<path fill-rule="evenodd" fill="#db4b9e" d="M460.0 445.5 458.0 450.5 454.5 454.0 451.0 456.0 448.0 459.5 444.5 467.0 444.5 474.0 447.0 480.0 450.0 483.0 454.5 484.5 460.5 482.5 463.5 479.5 465.5 476.0 467.0 470.0 466.0 462.0 460.0 453.0ZM439.0 386.5 438.5 389.0 441.0 397.5 441.0 402.5 443.0 412.0 450.0 425.0 457.0 432.5 460.0 433.5 461.0 432.0 459.5 420.5 456.5 408.0 451.5 396.0 442.0 386.0Z"/>
<path fill-rule="evenodd" fill="#e258b5" d="M460.0 448.5 453.5 455.5 452.0 456.0 448.5 459.5 445.0 467.0 445.0 473.5 446.0 477.0 448.0 480.5 452.5 483.5 457.5 483.5 460.5 482.0 464.0 478.0 466.0 473.5 466.5 465.5 464.5 460.0 460.0 454.5ZM440.5 386.0 439.5 386.5 439.0 389.0 441.0 395.0 441.5 402.0 443.5 411.5 450.0 424.5 457.0 432.0 460.0 433.0 460.5 431.0 459.0 419.0 456.5 409.0 452.5 398.5 450.5 395.0 442.0 386.5Z"/>
<path fill-rule="evenodd" fill="#ea65cb" d="M459.5 450.0 454.0 456.0 452.5 456.5 448.5 460.5 445.5 467.5 445.5 473.0 448.0 479.5 453.0 483.0 457.5 483.0 461.0 481.0 464.5 476.5 466.0 472.0 465.5 463.0 464.0 460.0 459.5 454.5ZM440.5 387.0 440.0 390.0 442.0 397.0 442.0 401.5 444.5 412.5 450.5 424.5 456.5 431.0 459.5 431.5 460.0 425.0 456.0 408.0 451.0 396.0 444.0 389.0Z"/>
<path fill-rule="evenodd" fill="#f173dd" d="M459.0 452.0 458.0 452.0 455.5 456.0 450.0 459.5 447.0 464.5 446.0 468.0 446.0 472.5 448.5 479.0 453.5 482.5 457.0 482.5 459.5 481.5 463.0 478.0 465.5 472.5 465.0 463.0 463.0 459.5 459.5 456.5ZM443.5 390.5 442.0 391.5 442.0 395.5 445.0 412.0 450.0 423.0 456.5 430.0 458.5 430.0 459.5 429.0 460.0 426.0 455.0 406.0 451.0 396.5Z"/>
<path fill-rule="evenodd" fill="#f286e2" d="M458.5 453.5 457.5 454.0 457.0 456.5 453.0 458.0 450.5 460.0 447.0 467.0 447.0 473.5 448.5 477.5 451.0 480.5 455.0 482.0 460.0 480.5 462.5 478.0 464.0 475.5 465.5 469.5 465.0 465.0 463.0 460.5 458.0 456.5ZM446.0 394.0 443.5 396.0 443.5 401.5 446.0 412.5 450.5 422.5 456.0 428.5 458.0 429.0 459.5 427.5 459.5 424.5 454.5 405.5 451.0 397.0 449.0 395.0Z"/>
<path fill-rule="evenodd" fill="#f498e6" d="M458.0 458.0 456.0 458.0 452.5 459.5 449.5 463.0 448.0 466.5 447.5 471.0 448.5 475.5 449.5 477.5 454.0 481.0 457.0 481.0 459.5 480.0 462.5 477.0 464.5 472.5 465.0 468.0 463.5 462.5 461.0 459.5ZM447.5 395.5 446.0 396.5 445.0 398.5 446.5 410.5 451.5 421.0 454.5 424.0 455.5 426.5 457.0 428.0 458.5 428.0 459.5 425.5 454.5 406.5 450.5 397.0Z"/>
<path fill-rule="evenodd" fill="#f6abeb" d="M455.5 459.5 451.0 463.0 449.5 466.0 449.0 473.5 450.5 477.0 452.5 479.0 454.5 480.0 457.5 480.0 459.5 479.0 463.5 474.0 464.0 466.0 462.5 462.5 460.5 460.5 458.5 459.5ZM448.0 396.5 447.0 397.5 447.0 399.0 456.5 426.5 458.0 427.5 459.0 426.5 455.5 411.0 450.0 397.0Z"/>
<path fill-rule="evenodd" fill="#f8beef" d="M456.0 461.5 451.5 466.0 450.5 469.0 450.5 473.0 452.0 476.5 453.5 478.0 458.0 478.5 460.0 477.5 463.0 473.0 463.5 468.5 462.0 464.0 460.0 462.0ZM448.5 397.5 448.5 399.0 454.0 412.5 458.0 426.5 458.0 423.5 455.0 412.0 449.5 397.5Z"/>
<path fill-rule="evenodd" fill="#fad0f4" d="M458.5 464.5 455.0 466.0 453.0 470.5 453.5 474.0 456.0 476.5 459.0 476.0 461.0 474.0 462.0 471.5 461.5 467.0 460.0 465.0Z"/>
</g></g>
<path d="M422.7 378.6 A73.5 73.5 0 0 1 422.7 505.8" fill="none" stroke="#301020" stroke-width="0.5"/>
<circle cx="386" cy="442.2" r="4.8" fill="#f2ea2a" stroke="#050510" stroke-width="1.5"/>
<circle cx="460" cy="432.7" r="3.8" fill="#84dc78" stroke="#050510" stroke-width="2"/>
<text transform="scale(0.860,1)" font-family="Liberation Mono" font-size="35.5" fill="#f0ec4c" stroke="#f0ec4c" stroke-width="0.9" text-anchor="middle" y="41" x="362.2 387.5 412.9 438.2 488.9 514.2 564.9 590.2 640.9 666.3 716.9 742.3 792.9 818.3">20140912170000</text>
<rect x="391.1" y="30.8" width="15.8" height="3" fill="#f0ec4c"/>
<rect x="456.4" y="30.8" width="15.8" height="3" fill="#f0ec4c"/>
<circle cx="594.8" cy="28.2" r="2.9" fill="#f0ec4c"/><circle cx="594.8" cy="38.2" r="2.9" fill="#f0ec4c"/>
<circle cx="660.1" cy="28.2" r="2.9" fill="#f0ec4c"/><circle cx="660.1" cy="38.2" r="2.9" fill="#f0ec4c"/>
<rect x="58.8" y="96.8" width="9" height="162.2" fill="url(#cbar)" stroke="#c8c8d8" stroke-width="1.2"/>
<text x="74.2" y="102.8" font-size="14.80" fill="#a4a6b0" text-anchor="start" >60</text>
<text x="74.2" y="143.1" font-size="14.80" fill="#a4a6b0" text-anchor="start" >45</text>
<text x="74.2" y="183.5" font-size="14.80" fill="#a4a6b0" text-anchor="start" >30</text>
<text x="74.2" y="223.9" font-size="14.80" fill="#a4a6b0" text-anchor="start" >15</text>
<text x="74.2" y="264.3" font-size="14.80" fill="#a4a6b0" text-anchor="start" >0</text>
<text transform="translate(51.5,173.5) rotate(-90)" font-size="14.6" fill="#a4a6b0" text-anchor="middle">Plasma Density (r<tspan dy="-5" font-size="9.5">2</tspan><tspan dy="5">N/cm</tspan><tspan dy="-5" font-size="9.5">3</tspan><tspan dy="5">)</tspan></text>
<rect x="58.8" y="360.4" width="9" height="163.4" fill="url(#cbar)" stroke="#c8c8d8" stroke-width="1.2"/>
<text x="74.2" y="366.3" font-size="14.80" fill="#a4a6b0" text-anchor="start" >1600</text>
<text x="74.2" y="407.3" font-size="14.80" fill="#a4a6b0" text-anchor="start" >1250</text>
<text x="74.2" y="448.1" font-size="14.80" fill="#a4a6b0" text-anchor="start" >900</text>
<text x="74.2" y="488.9" font-size="14.80" fill="#a4a6b0" text-anchor="start" >550</text>
<text x="74.2" y="529.7" font-size="14.80" fill="#a4a6b0" text-anchor="start" >200</text>
<text transform="translate(51.5,450.5) rotate(-90)" font-size="14.6" fill="#a4a6b0" text-anchor="middle">Radial Velocity (km/s)</text>
<rect x="560.5" y="76.6" width="407.8" height="59.5" fill="none" stroke="#c8c8d8" stroke-width="1.2"/>
<line x1="614.8" y1="76.6" x2="614.8" y2="81.1" stroke="#c8c8d8" stroke-width="1.1"/>
<line x1="614.8" y1="136.1" x2="614.8" y2="131.6" stroke="#c8c8d8" stroke-width="1.1"/>
<line x1="673.1" y1="76.6" x2="673.1" y2="81.1" stroke="#c8c8d8" stroke-width="1.1"/>
<line x1="673.1" y1="136.1" x2="673.1" y2="131.6" stroke="#c8c8d8" stroke-width="1.1"/>
<line x1="731.4" y1="76.6" x2="731.4" y2="81.1" stroke="#c8c8d8" stroke-width="1.1"/>
<line x1="731.4" y1="136.1" x2="731.4" y2="131.6" stroke="#c8c8d8" stroke-width="1.1"/>
<line x1="789.7" y1="76.6" x2="789.7" y2="81.1" stroke="#c8c8d8" stroke-width="1.1"/>
<line x1="789.7" y1="136.1" x2="789.7" y2="131.6" stroke="#c8c8d8" stroke-width="1.1"/>
<line x1="848.0" y1="76.6" x2="848.0" y2="81.1" stroke="#c8c8d8" stroke-width="1.1"/>
<line x1="848.0" y1="136.1" x2="848.0" y2="131.6" stroke="#c8c8d8" stroke-width="1.1"/>
<line x1="906.3" y1="76.6" x2="906.3" y2="81.1" stroke="#c8c8d8" stroke-width="1.1"/>
<line x1="906.3" y1="136.1" x2="906.3" y2="131.6" stroke="#c8c8d8" stroke-width="1.1"/>
<line x1="964.6" y1="76.6" x2="964.6" y2="81.1" stroke="#c8c8d8" stroke-width="1.1"/>
<line x1="964.6" y1="136.1" x2="964.6" y2="131.6" stroke="#c8c8d8" stroke-width="1.1"/>
<line x1="560.5" y1="125.4" x2="565.0" y2="125.4" stroke="#c8c8d8" stroke-width="1.1"/>
<line x1="560.5" y1="115.3" x2="565.0" y2="115.3" stroke="#c8c8d8" stroke-width="1.1"/>
<line x1="560.5" y1="105.3" x2="565.0" y2="105.3" stroke="#c8c8d8" stroke-width="1.1"/>
<line x1="560.5" y1="95.2" x2="565.0" y2="95.2" stroke="#c8c8d8" stroke-width="1.1"/>
<line x1="560.5" y1="85.1" x2="565.0" y2="85.1" stroke="#c8c8d8" stroke-width="1.1"/>
<line x1="968.3" y1="125.4" x2="963.8" y2="125.4" stroke="#c8c8d8" stroke-width="1.1"/>
<line x1="968.3" y1="115.3" x2="963.8" y2="115.3" stroke="#c8c8d8" stroke-width="1.1"/>
<line x1="968.3" y1="105.3" x2="963.8" y2="105.3" stroke="#c8c8d8" stroke-width="1.1"/>
<line x1="968.3" y1="95.2" x2="963.8" y2="95.2" stroke="#c8c8d8" stroke-width="1.1"/>
<line x1="968.3" y1="85.1" x2="963.8" y2="85.1" stroke="#c8c8d8" stroke-width="1.1"/>
<text x="571.0" y="94.6" font-size="14.50" fill="#a4a6b0" text-anchor="start" >EARTH</text>
<text x="550.8" y="90.3" font-size="14.60" fill="#a4a6b0" text-anchor="end" >25</text>
<text x="550.8" y="110.5" font-size="14.60" fill="#a4a6b0" text-anchor="end" >15</text>
<text x="550.8" y="130.6" font-size="14.60" fill="#a4a6b0" text-anchor="end" >5</text>
<rect x="560.5" y="148.6" width="407.8" height="59.5" fill="none" stroke="#c8c8d8" stroke-width="1.2"/>
<line x1="614.8" y1="148.6" x2="614.8" y2="153.1" stroke="#c8c8d8" stroke-width="1.1"/>
<line x1="614.8" y1="208.1" x2="614.8" y2="203.6" stroke="#c8c8d8" stroke-width="1.1"/>
<line x1="673.1" y1="148.6" x2="673.1" y2="153.1" stroke="#c8c8d8" stroke-width="1.1"/>
<line x1="673.1" y1="208.1" x2="673.1" y2="203.6" stroke="#c8c8d8" stroke-width="1.1"/>
<line x1="731.4" y1="148.6" x2="731.4" y2="153.1" stroke="#c8c8d8" stroke-width="1.1"/>
<line x1="731.4" y1="208.1" x2="731.4" y2="203.6" stroke="#c8c8d8" stroke-width="1.1"/>
<line x1="789.7" y1="148.6" x2="789.7" y2="153.1" stroke="#c8c8d8" stroke-width="1.1"/>
<line x1="789.7" y1="208.1" x2="789.7" y2="203.6" stroke="#c8c8d8" stroke-width="1.1"/>
<line x1="848.0" y1="148.6" x2="848.0" y2="153.1" stroke="#c8c8d8" stroke-width="1.1"/>
<line x1="848.0" y1="208.1" x2="848.0" y2="203.6" stroke="#c8c8d8" stroke-width="1.1"/>
<line x1="906.3" y1="148.6" x2="906.3" y2="153.1" stroke="#c8c8d8" stroke-width="1.1"/>
<line x1="906.3" y1="208.1" x2="906.3" y2="203.6" stroke="#c8c8d8" stroke-width="1.1"/>
<line x1="964.6" y1="148.6" x2="964.6" y2="153.1" stroke="#c8c8d8" stroke-width="1.1"/>
<line x1="964.6" y1="208.1" x2="964.6" y2="203.6" stroke="#c8c8d8" stroke-width="1.1"/>
<line x1="560.5" y1="197.4" x2="565.0" y2="197.4" stroke="#c8c8d8" stroke-width="1.1"/>
<line x1="560.5" y1="187.3" x2="565.0" y2="187.3" stroke="#c8c8d8" stroke-width="1.1"/>
<line x1="560.5" y1="177.3" x2="565.0" y2="177.3" stroke="#c8c8d8" stroke-width="1.1"/>
<line x1="560.5" y1="167.2" x2="565.0" y2="167.2" stroke="#c8c8d8" stroke-width="1.1"/>
<line x1="560.5" y1="157.1" x2="565.0" y2="157.1" stroke="#c8c8d8" stroke-width="1.1"/>
<line x1="968.3" y1="197.4" x2="963.8" y2="197.4" stroke="#c8c8d8" stroke-width="1.1"/>
<line x1="968.3" y1="187.3" x2="963.8" y2="187.3" stroke="#c8c8d8" stroke-width="1.1"/>
<line x1="968.3" y1="177.3" x2="963.8" y2="177.3" stroke="#c8c8d8" stroke-width="1.1"/>
<line x1="968.3" y1="167.2" x2="963.8" y2="167.2" stroke="#c8c8d8" stroke-width="1.1"/>
<line x1="968.3" y1="157.1" x2="963.8" y2="157.1" stroke="#c8c8d8" stroke-width="1.1"/>
<text x="571.0" y="166.6" font-size="14.50" fill="#a4a6b0" text-anchor="start" >STEREO A</text>
<text x="550.8" y="162.3" font-size="14.60" fill="#a4a6b0" text-anchor="end" >25</text>
<text x="550.8" y="182.5" font-size="14.60" fill="#a4a6b0" text-anchor="end" >15</text>
<text x="550.8" y="202.6" font-size="14.60" fill="#a4a6b0" text-anchor="end" >5</text>
<rect x="560.5" y="220.6" width="407.8" height="59.5" fill="none" stroke="#c8c8d8" stroke-width="1.2"/>
<line x1="614.8" y1="220.6" x2="614.8" y2="225.1" stroke="#c8c8d8" stroke-width="1.1"/>
<line x1="614.8" y1="280.1" x2="614.8" y2="275.6" stroke="#c8c8d8" stroke-width="1.1"/>
<line x1="673.1" y1="220.6" x2="673.1" y2="225.1" stroke="#c8c8d8" stroke-width="1.1"/>
<line x1="673.1" y1="280.1" x2="673.1" y2="275.6" stroke="#c8c8d8" stroke-width="1.1"/>
<line x1="731.4" y1="220.6" x2="731.4" y2="225.1" stroke="#c8c8d8" stroke-width="1.1"/>
<line x1="731.4" y1="280.1" x2="731.4" y2="275.6" stroke="#c8c8d8" stroke-width="1.1"/>
<line x1="789.7" y1="220.6" x2="789.7" y2="225.1" stroke="#c8c8d8" stroke-width="1.1"/>
<line x1="789.7" y1="280.1" x2="789.7" y2="275.6" stroke="#c8c8d8" stroke-width="1.1"/>
<line x1="848.0" y1="220.6" x2="848.0" y2="225.1" stroke="#c8c8d8" stroke-width="1.1"/>
<line x1="848.0" y1="280.1" x2="848.0" y2="275.6" stroke="#c8c8d8" stroke-width="1.1"/>
<line x1="906.3" y1="220.6" x2="906.3" y2="225.1" stroke="#c8c8d8" stroke-width="1.1"/>
<line x1="906.3" y1="280.1" x2="906.3" y2="275.6" stroke="#c8c8d8" stroke-width="1.1"/>
<line x1="964.6" y1="220.6" x2="964.6" y2="225.1" stroke="#c8c8d8" stroke-width="1.1"/>
<line x1="964.6" y1="280.1" x2="964.6" y2="275.6" stroke="#c8c8d8" stroke-width="1.1"/>
<line x1="560.5" y1="269.4" x2="565.0" y2="269.4" stroke="#c8c8d8" stroke-width="1.1"/>
<line x1="560.5" y1="259.3" x2="565.0" y2="259.3" stroke="#c8c8d8" stroke-width="1.1"/>
<line x1="560.5" y1="249.3" x2="565.0" y2="249.3" stroke="#c8c8d8" stroke-width="1.1"/>
<line x1="560.5" y1="239.2" x2="565.0" y2="239.2" stroke="#c8c8d8" stroke-width="1.1"/>
<line x1="560.5" y1="229.1" x2="565.0" y2="229.1" stroke="#c8c8d8" stroke-width="1.1"/>
<line x1="968.3" y1="269.4" x2="963.8" y2="269.4" stroke="#c8c8d8" stroke-width="1.1"/>
<line x1="968.3" y1="259.3" x2="963.8" y2="259.3" stroke="#c8c8d8" stroke-width="1.1"/>
<line x1="968.3" y1="249.3" x2="963.8" y2="249.3" stroke="#c8c8d8" stroke-width="1.1"/>
<line x1="968.3" y1="239.2" x2="963.8" y2="239.2" stroke="#c8c8d8" stroke-width="1.1"/>
<line x1="968.3" y1="229.1" x2="963.8" y2="229.1" stroke="#c8c8d8" stroke-width="1.1"/>
<text x="571.0" y="238.6" font-size="14.50" fill="#a4a6b0" text-anchor="start" >STEREO B</text>
<text x="550.8" y="234.3" font-size="14.60" fill="#a4a6b0" text-anchor="end" >25</text>
<text x="550.8" y="254.5" font-size="14.60" fill="#a4a6b0" text-anchor="end" >15</text>
<text x="550.8" y="274.6" font-size="14.60" fill="#a4a6b0" text-anchor="end" >5</text>
<rect x="560.5" y="339.6" width="407.8" height="59.5" fill="none" stroke="#c8c8d8" stroke-width="1.2"/>
<line x1="614.8" y1="339.6" x2="614.8" y2="344.1" stroke="#c8c8d8" stroke-width="1.1"/>
<line x1="614.8" y1="399.1" x2="614.8" y2="394.6" stroke="#c8c8d8" stroke-width="1.1"/>
<line x1="673.1" y1="339.6" x2="673.1" y2="344.1" stroke="#c8c8d8" stroke-width="1.1"/>
<line x1="673.1" y1="399.1" x2="673.1" y2="394.6" stroke="#c8c8d8" stroke-width="1.1"/>
<line x1="731.4" y1="339.6" x2="731.4" y2="344.1" stroke="#c8c8d8" stroke-width="1.1"/>
<line x1="731.4" y1="399.1" x2="731.4" y2="394.6" stroke="#c8c8d8" stroke-width="1.1"/>
<line x1="789.7" y1="339.6" x2="789.7" y2="344.1" stroke="#c8c8d8" stroke-width="1.1"/>
<line x1="789.7" y1="399.1" x2="789.7" y2="394.6" stroke="#c8c8d8" stroke-width="1.1"/>
<line x1="848.0" y1="339.6" x2="848.0" y2="344.1" stroke="#c8c8d8" stroke-width="1.1"/>
<line x1="848.0" y1="399.1" x2="848.0" y2="394.6" stroke="#c8c8d8" stroke-width="1.1"/>
<line x1="906.3" y1="339.6" x2="906.3" y2="344.1" stroke="#c8c8d8" stroke-width="1.1"/>
<line x1="906.3" y1="399.1" x2="906.3" y2="394.6" stroke="#c8c8d8" stroke-width="1.1"/>
<line x1="964.6" y1="339.6" x2="964.6" y2="344.1" stroke="#c8c8d8" stroke-width="1.1"/>
<line x1="964.6" y1="399.1" x2="964.6" y2="394.6" stroke="#c8c8d8" stroke-width="1.1"/>
<line x1="560.5" y1="390.6" x2="565.0" y2="390.6" stroke="#c8c8d8" stroke-width="1.1"/>
<line x1="560.5" y1="382.1" x2="565.0" y2="382.1" stroke="#c8c8d8" stroke-width="1.1"/>
<line x1="560.5" y1="373.6" x2="565.0" y2="373.6" stroke="#c8c8d8" stroke-width="1.1"/>
<line x1="560.5" y1="365.1" x2="565.0" y2="365.1" stroke="#c8c8d8" stroke-width="1.1"/>
<line x1="560.5" y1="356.6" x2="565.0" y2="356.6" stroke="#c8c8d8" stroke-width="1.1"/>
<line x1="560.5" y1="348.1" x2="565.0" y2="348.1" stroke="#c8c8d8" stroke-width="1.1"/>
<line x1="968.3" y1="390.6" x2="963.8" y2="390.6" stroke="#c8c8d8" stroke-width="1.1"/>
<line x1="968.3" y1="382.1" x2="963.8" y2="382.1" stroke="#c8c8d8" stroke-width="1.1"/>
<line x1="968.3" y1="373.6" x2="963.8" y2="373.6" stroke="#c8c8d8" stroke-width="1.1"/>
<line x1="968.3" y1="365.1" x2="963.8" y2="365.1" stroke="#c8c8d8" stroke-width="1.1"/>
<line x1="968.3" y1="356.6" x2="963.8" y2="356.6" stroke="#c8c8d8" stroke-width="1.1"/>
<line x1="968.3" y1="348.1" x2="963.8" y2="348.1" stroke="#c8c8d8" stroke-width="1.1"/>
<text x="571.0" y="358.5" font-size="14.50" fill="#a4a6b0" text-anchor="start" >EARTH</text>
<text x="550.8" y="344.8" font-size="14.60" fill="#a4a6b0" text-anchor="end" >900</text>
<text x="550.8" y="361.8" font-size="14.60" fill="#a4a6b0" text-anchor="end" >700</text>
<text x="550.8" y="378.8" font-size="14.60" fill="#a4a6b0" text-anchor="end" >500</text>
<text x="550.8" y="395.8" font-size="14.60" fill="#a4a6b0" text-anchor="end" >300</text>
<rect x="560.5" y="411.6" width="407.8" height="59.5" fill="none" stroke="#c8c8d8" stroke-width="1.2"/>
<line x1="614.8" y1="411.6" x2="614.8" y2="416.1" stroke="#c8c8d8" stroke-width="1.1"/>
<line x1="614.8" y1="471.1" x2="614.8" y2="466.6" stroke="#c8c8d8" stroke-width="1.1"/>
<line x1="673.1" y1="411.6" x2="673.1" y2="416.1" stroke="#c8c8d8" stroke-width="1.1"/>
<line x1="673.1" y1="471.1" x2="673.1" y2="466.6" stroke="#c8c8d8" stroke-width="1.1"/>
<line x1="731.4" y1="411.6" x2="731.4" y2="416.1" stroke="#c8c8d8" stroke-width="1.1"/>
<line x1="731.4" y1="471.1" x2="731.4" y2="466.6" stroke="#c8c8d8" stroke-width="1.1"/>
<line x1="789.7" y1="411.6" x2="789.7" y2="416.1" stroke="#c8c8d8" stroke-width="1.1"/>
<line x1="789.7" y1="471.1" x2="789.7" y2="466.6" stroke="#c8c8d8" stroke-width="1.1"/>
<line x1="848.0" y1="411.6" x2="848.0" y2="416.1" stroke="#c8c8d8" stroke-width="1.1"/>
<line x1="848.0" y1="471.1" x2="848.0" y2="466.6" stroke="#c8c8d8" stroke-width="1.1"/>
<line x1="906.3" y1="411.6" x2="906.3" y2="416.1" stroke="#c8c8d8" stroke-width="1.1"/>
<line x1="906.3" y1="471.1" x2="906.3" y2="466.6" stroke="#c8c8d8" stroke-width="1.1"/>
<line x1="964.6" y1="411.6" x2="964.6" y2="416.1" stroke="#c8c8d8" stroke-width="1.1"/>
<line x1="964.6" y1="471.1" x2="964.6" y2="466.6" stroke="#c8c8d8" stroke-width="1.1"/>
<line x1="560.5" y1="462.6" x2="565.0" y2="462.6" stroke="#c8c8d8" stroke-width="1.1"/>
<line x1="560.5" y1="454.1" x2="565.0" y2="454.1" stroke="#c8c8d8" stroke-width="1.1"/>
<line x1="560.5" y1="445.6" x2="565.0" y2="445.6" stroke="#c8c8d8" stroke-width="1.1"/>
<line x1="560.5" y1="437.1" x2="565.0" y2="437.1" stroke="#c8c8d8" stroke-width="1.1"/>
<line x1="560.5" y1="428.6" x2="565.0" y2="428.6" stroke="#c8c8d8" stroke-width="1.1"/>
<line x1="560.5" y1="420.1" x2="565.0" y2="420.1" stroke="#c8c8d8" stroke-width="1.1"/>
<line x1="968.3" y1="462.6" x2="963.8" y2="462.6" stroke="#c8c8d8" stroke-width="1.1"/>
<line x1="968.3" y1="454.1" x2="963.8" y2="454.1" stroke="#c8c8d8" stroke-width="1.1"/>
<line x1="968.3" y1="445.6" x2="963.8" y2="445.6" stroke="#c8c8d8" stroke-width="1.1"/>
<line x1="968.3" y1="437.1" x2="963.8" y2="437.1" stroke="#c8c8d8" stroke-width="1.1"/>
<line x1="968.3" y1="428.6" x2="963.8" y2="428.6" stroke="#c8c8d8" stroke-width="1.1"/>
<line x1="968.3" y1="420.1" x2="963.8" y2="420.1" stroke="#c8c8d8" stroke-width="1.1"/>
<text x="571.0" y="430.5" font-size="14.50" fill="#a4a6b0" text-anchor="start" >STEREO A</text>
<text x="550.8" y="416.8" font-size="14.60" fill="#a4a6b0" text-anchor="end" >900</text>
<text x="550.8" y="433.8" font-size="14.60" fill="#a4a6b0" text-anchor="end" >700</text>
<text x="550.8" y="450.8" font-size="14.60" fill="#a4a6b0" text-anchor="end" >500</text>
<text x="550.8" y="467.8" font-size="14.60" fill="#a4a6b0" text-anchor="end" >300</text>
<rect x="560.5" y="483.6" width="407.8" height="59.5" fill="none" stroke="#c8c8d8" stroke-width="1.2"/>
<line x1="614.8" y1="483.6" x2="614.8" y2="488.1" stroke="#c8c8d8" stroke-width="1.1"/>
<line x1="614.8" y1="543.1" x2="614.8" y2="538.6" stroke="#c8c8d8" stroke-width="1.1"/>
<line x1="673.1" y1="483.6" x2="673.1" y2="488.1" stroke="#c8c8d8" stroke-width="1.1"/>
<line x1="673.1" y1="543.1" x2="673.1" y2="538.6" stroke="#c8c8d8" stroke-width="1.1"/>
<line x1="731.4" y1="483.6" x2="731.4" y2="488.1" stroke="#c8c8d8" stroke-width="1.1"/>
<line x1="731.4" y1="543.1" x2="731.4" y2="538.6" stroke="#c8c8d8" stroke-width="1.1"/>
<line x1="789.7" y1="483.6" x2="789.7" y2="488.1" stroke="#c8c8d8" stroke-width="1.1"/>
<line x1="789.7" y1="543.1" x2="789.7" y2="538.6" stroke="#c8c8d8" stroke-width="1.1"/>
<line x1="848.0" y1="483.6" x2="848.0" y2="488.1" stroke="#c8c8d8" stroke-width="1.1"/>
<line x1="848.0" y1="543.1" x2="848.0" y2="538.6" stroke="#c8c8d8" stroke-width="1.1"/>
<line x1="906.3" y1="483.6" x2="906.3" y2="488.1" stroke="#c8c8d8" stroke-width="1.1"/>
<line x1="906.3" y1="543.1" x2="906.3" y2="538.6" stroke="#c8c8d8" stroke-width="1.1"/>
<line x1="964.6" y1="483.6" x2="964.6" y2="488.1" stroke="#c8c8d8" stroke-width="1.1"/>
<line x1="964.6" y1="543.1" x2="964.6" y2="538.6" stroke="#c8c8d8" stroke-width="1.1"/>
<line x1="560.5" y1="534.6" x2="565.0" y2="534.6" stroke="#c8c8d8" stroke-width="1.1"/>
<line x1="560.5" y1="526.1" x2="565.0" y2="526.1" stroke="#c8c8d8" stroke-width="1.1"/>
<line x1="560.5" y1="517.6" x2="565.0" y2="517.6" stroke="#c8c8d8" stroke-width="1.1"/>
<line x1="560.5" y1="509.1" x2="565.0" y2="509.1" stroke="#c8c8d8" stroke-width="1.1"/>
<line x1="560.5" y1="500.6" x2="565.0" y2="500.6" stroke="#c8c8d8" stroke-width="1.1"/>
<line x1="560.5" y1="492.1" x2="565.0" y2="492.1" stroke="#c8c8d8" stroke-width="1.1"/>
<line x1="968.3" y1="534.6" x2="963.8" y2="534.6" stroke="#c8c8d8" stroke-width="1.1"/>
<line x1="968.3" y1="526.1" x2="963.8" y2="526.1" stroke="#c8c8d8" stroke-width="1.1"/>
<line x1="968.3" y1="517.6" x2="963.8" y2="517.6" stroke="#c8c8d8" stroke-width="1.1"/>
<line x1="968.3" y1="509.1" x2="963.8" y2="509.1" stroke="#c8c8d8" stroke-width="1.1"/>
<line x1="968.3" y1="500.6" x2="963.8" y2="500.6" stroke="#c8c8d8" stroke-width="1.1"/>
<line x1="968.3" y1="492.1" x2="963.8" y2="492.1" stroke="#c8c8d8" stroke-width="1.1"/>
<text x="571.0" y="502.5" font-size="14.50" fill="#a4a6b0" text-anchor="start" >STEREO B</text>
<text x="550.8" y="488.8" font-size="14.60" fill="#a4a6b0" text-anchor="end" >900</text>
<text x="550.8" y="505.8" font-size="14.60" fill="#a4a6b0" text-anchor="end" >700</text>
<text x="550.8" y="522.8" font-size="14.60" fill="#a4a6b0" text-anchor="end" >500</text>
<text x="550.8" y="539.8" font-size="14.60" fill="#a4a6b0" text-anchor="end" >300</text>
<text x="614.5" y="297.6" font-size="14.60" fill="#a4a6b0" text-anchor="middle" >10</text>
<text x="614.5" y="560.0" font-size="14.60" fill="#a4a6b0" text-anchor="middle" >10</text>
<text x="672.8" y="297.6" font-size="14.60" fill="#a4a6b0" text-anchor="middle" >11</text>
<text x="672.8" y="560.0" font-size="14.60" fill="#a4a6b0" text-anchor="middle" >11</text>
<text x="731.1" y="297.6" font-size="14.60" fill="#a4a6b0" text-anchor="middle" >12</text>
<text x="731.1" y="560.0" font-size="14.60" fill="#a4a6b0" text-anchor="middle" >12</text>
<text x="789.4" y="297.6" font-size="14.60" fill="#a4a6b0" text-anchor="middle" >13</text>
<text x="789.4" y="560.0" font-size="14.60" fill="#a4a6b0" text-anchor="middle" >13</text>
<text x="847.7" y="297.6" font-size="14.60" fill="#a4a6b0" text-anchor="middle" >14</text>
<text x="847.7" y="560.0" font-size="14.60" fill="#a4a6b0" text-anchor="middle" >14</text>
<text x="906.0" y="297.6" font-size="14.60" fill="#a4a6b0" text-anchor="middle" >15</text>
<text x="906.0" y="560.0" font-size="14.60" fill="#a4a6b0" text-anchor="middle" >15</text>
<text x="964.3" y="297.6" font-size="14.60" fill="#a4a6b0" text-anchor="middle" >16</text>
<text x="964.3" y="560.0" font-size="14.60" fill="#a4a6b0" text-anchor="middle" >16</text>
<text x="694.6" y="72.2" font-size="14.45" fill="#a4a6b0" text-anchor="start" >Plasma Density (/cm<tspan dy="-5.5" font-size="9.5">3</tspan><tspan dy="5.5">)</tspan></text>
<text x="694.3" y="334.8" font-size="14.80" fill="#a4a6b0" text-anchor="start" >Radial Velocity (km/s)</text>
<polyline fill="none" stroke="#a8ec84" stroke-width="1.10" stroke-linejoin="round" points="560.5,118.1 572.5,117.0 596.5,115.9 607.4,114.8 620.5,110.9 629.3,109.3 644.6,109.3 651.1,110.4 662.1,117.0 673.0,119.8 694.8,122.4 720.1,125.3 723.2,121.2 726.3,108.9 729.4,99.6 731.9,99.6 736.6,102.7 742.7,109.9 747.9,116.1 754.0,119.1 760.2,122.2 763.6,123.8 764.3,119.1 764.6,98.6 765.3,95.5 766.3,98.6 767.4,106.8 768.9,105.8 769.9,103.2 771.0,105.3 771.5,102.2 772.5,104.0 773.5,119.5 774.5,119.1 779.2,116.1 781.7,118.6 792.0,121.7 797.1,123.8 814.6,128.4 833.6,133.0 848.3,135.4 890.0,135.4 917.0,134.7 936.6,131.0 956.2,126.1 968.3,123.4"/>
<polyline fill="none" stroke="#e2664e" stroke-width="1.10" stroke-linejoin="round" points="560.5,183.2 565.9,181.7 572.5,180.4 583.4,180.4 592.1,181.7 598.7,184.3 607.4,188.7 616.2,192.6 627.1,195.7 638.0,197.4 651.1,198.1 677.3,199.2 690.5,200.1 703.6,201.4 718.9,201.8 721.0,202.5 773.5,202.5 775.0,201.5 908.7,201.5 909.8,202.6 968.3,202.6"/>
<polyline fill="none" stroke="#6a62f0" stroke-width="1.10" stroke-linejoin="round" points="560.5,276.6 616.2,276.6 618.4,275.7 642.4,274.4 657.7,272.9 673.0,270.7 690.5,266.3 703.6,262.0 716.7,256.5 725.4,254.3 736.3,253.7 745.1,254.8 756.0,258.7 764.7,263.1 773.8,266.6 782.7,268.8 791.5,270.1 815.8,271.4 833.5,272.5 844.6,273.2 855.6,274.1 968.3,274.1"/>
<polyline fill="none" stroke="#a8ec84" stroke-width="1.10" stroke-linejoin="round" points="560.5,387.0 624.9,387.0 627.1,386.3 638.0,385.3 646.8,384.2 657.7,382.6 673.0,382.0 690.5,381.5 721.0,380.9 723.2,378.7 727.6,374.8 731.9,373.2 740.7,373.5 747.3,374.8 762.6,378.7 763.6,378.7 764.8,362.3 767.0,356.8 770.3,355.1 772.0,351.4 773.6,345.9 776.8,349.2 783.4,354.7 792.1,360.1 805.3,366.7 820.5,372.1 838.0,376.5 855.5,380.4 870.8,382.6 885.0,382.6 888.3,380.2 892.6,380.2 899.2,381.3 916.7,383.5 938.5,386.1 951.6,387.4 968.3,388.1"/>
<polyline fill="none" stroke="#e2664e" stroke-width="1.10" stroke-linejoin="round" points="560.5,457.4 568.1,457.0 576.8,455.3 590.0,452.6 607.4,449.8 627.1,447.6 646.8,446.1 668.6,444.8 686.1,443.2 699.2,441.5 740.7,441.5 742.9,442.6 762.6,442.6 764.7,443.6 907.6,443.7 909.8,444.8 938.5,444.8 940.7,445.7 961.7,445.7 962.8,446.6 968.3,446.6"/>
<polyline fill="none" stroke="#6a62f0" stroke-width="1.10" stroke-linejoin="round" points="560.5,515.1 572.5,515.6 587.8,517.3 609.6,520.6 631.5,523.9 653.3,527.2 673.0,529.3 686.1,530.4 714.5,530.4 729.8,528.3 747.3,525.0 762.6,522.8 772.7,520.4 783.7,519.5 799.2,518.2 816.9,516.7 832.4,515.1 847.9,513.3 892.1,513.3 894.3,514.2 914.2,514.2 917.5,515.1 968.3,515.1"/>
<line x1="773" y1="76.6" x2="773" y2="280.1" stroke="#f4f040" stroke-width="2"/>
<line x1="773" y1="339.6" x2="773" y2="543.1" stroke="#f4f040" stroke-width="2"/>
<text x="31.6" y="590.0" font-size="15.20" fill="#a4a6b0" text-anchor="start" >Space Weather Prediction Center</text>
<text x="325.3" y="590.0" font-size="14.60" fill="#a4a6b0" text-anchor="start" >Run Time: 2014-09-11 02:00 UT</text>
<text x="548.2" y="590.0" font-size="14.50" fill="#a4a6b0" text-anchor="start" >Mode: CME</text>
<text x="736.3" y="590.0" font-size="14.87" fill="#a4a6b0" text-anchor="start" >Image Created: 2014-09-11 03:23 UT</text>
<text x="295.2" y="614.4" font-size="13.90" fill="#a4a6b0" text-anchor="start" >Frame Time:</text>
<rect x="378.5" y="600" width="147" height="18.6" fill="#040824" stroke="#8a8c98" stroke-width="1"/>
<text x="383.6" y="614.0" font-size="12.60" fill="#c4c4cc" text-anchor="start" >2014-09-12T17:00:00</text>
<path d="M513 607.5 L520 607.5 L516.5 611.5Z" fill="#30324a"/>
<rect x="534.4" y="598.5" width="70.6" height="21" rx="1.5" fill="url(#btn)" stroke="#9c9ca4" stroke-width="1"/>
<text x="569.7" y="614.0" font-size="12.90" fill="#141414" text-anchor="middle" >backward</text>
<rect x="612.8" y="598.5" width="40.0" height="21" rx="1.5" fill="url(#btn)" stroke="#9c9ca4" stroke-width="1"/>
<text x="632.8" y="614.0" font-size="12.90" fill="#141414" text-anchor="middle" >play</text>
<rect x="661.2" y="598.5" width="56.4" height="21" rx="1.5" fill="url(#btn)" stroke="#6f86c6" stroke-width="1.6"/>
<text x="689.4" y="614.0" font-size="12.90" fill="#141414" text-anchor="middle" >forward</text>
<text transform="translate(884,626) scale(0.6,1)" font-size="39" font-weight="bold" fill="#ffffff" stroke="#780a10" stroke-width="4.4" letter-spacing="0.6" stroke-linejoin="round" paint-order="stroke">MyJane.ru</text>
</svg></body></html>
